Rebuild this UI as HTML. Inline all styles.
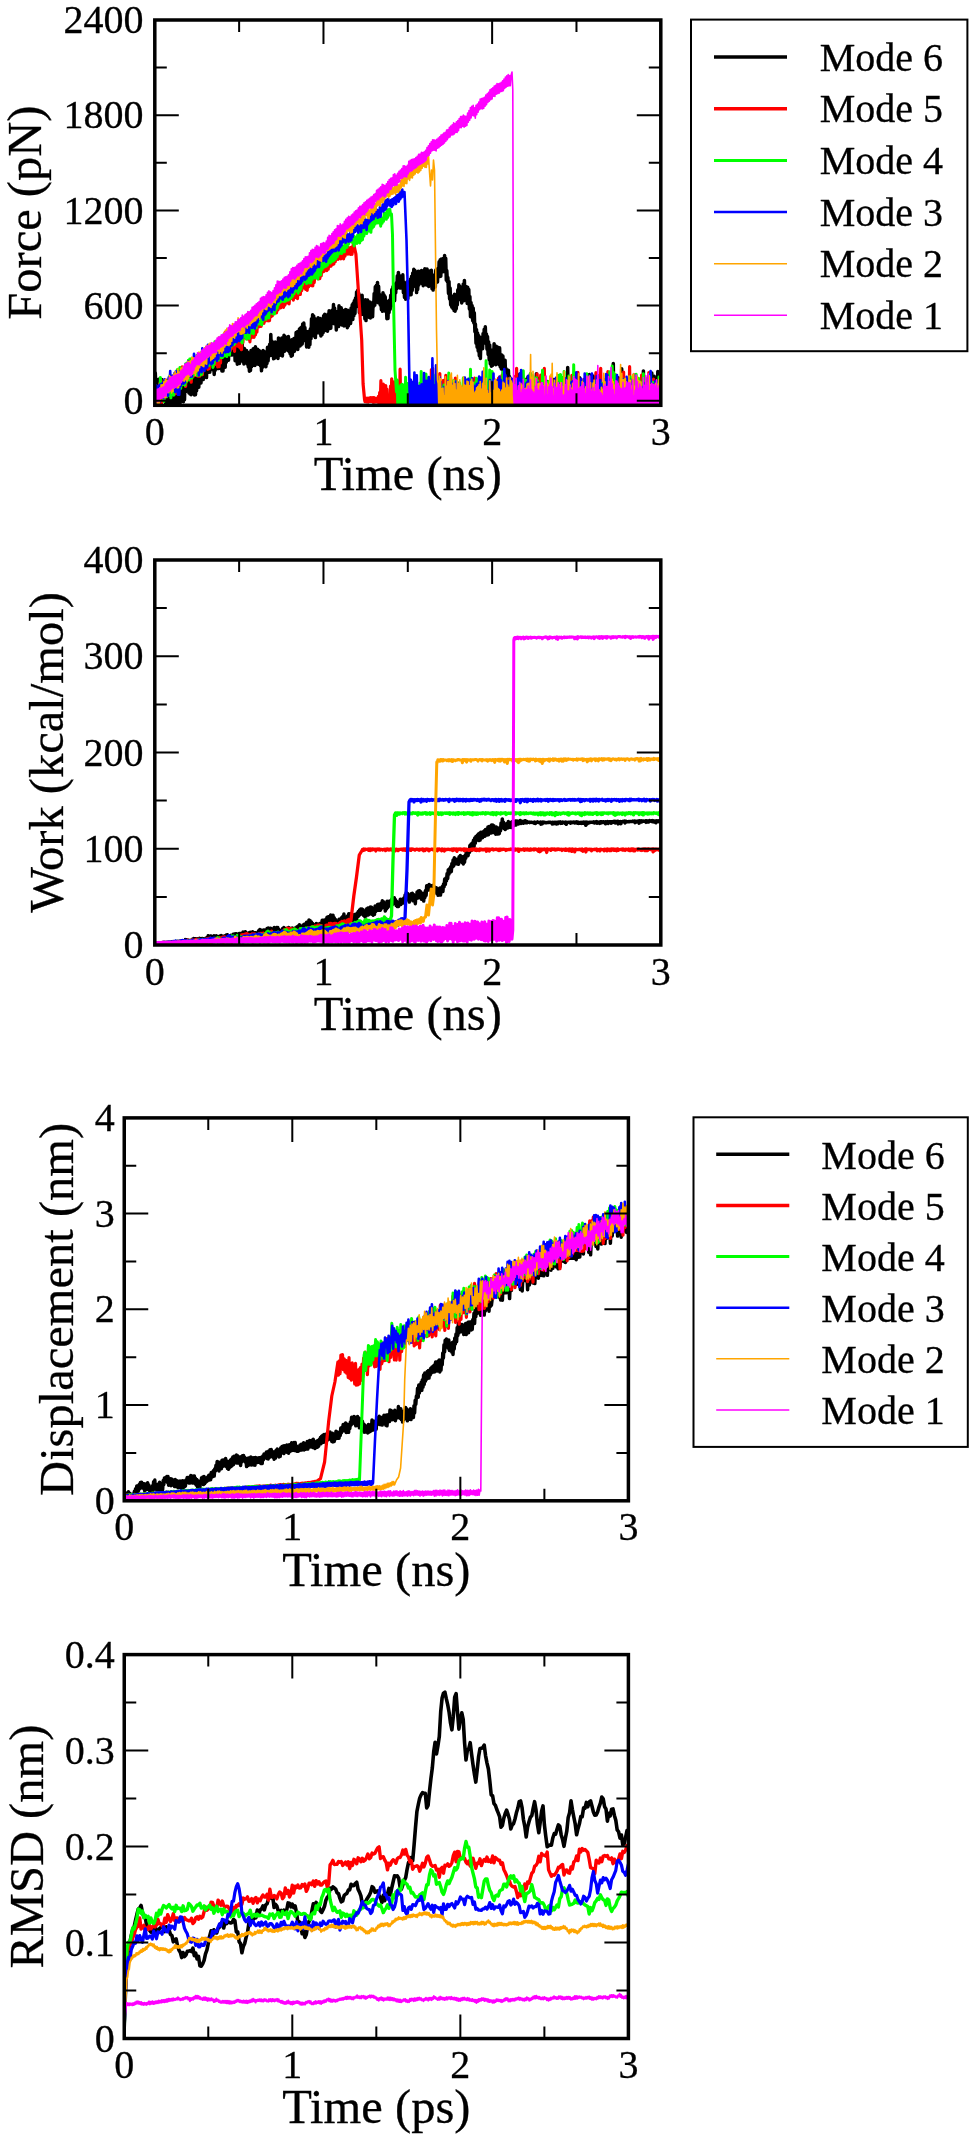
<!DOCTYPE html>
<html><head><meta charset="utf-8"><style>
html,body{margin:0;padding:0;background:#fff;width:974px;height:2141px;overflow:hidden}
svg{display:block}
text{font-family:"Liberation Serif", serif;fill:#000;stroke:#000;stroke-width:0.3px}
svg{will-change:transform}
</style></head><body>
<svg width="974" height="2141" viewBox="0 0 974 2141">
<clipPath id="c0"><rect x="154.8" y="20.0" width="506.00" height="385.30"/></clipPath><g clip-path="url(#c0)" fill="none" stroke-linejoin="round">
<path d="M154.8 386.4 155.3 373.0 155.9 388.7 156.4 381.0 157.0 391.6 157.5 380.0 158.1 395.4 158.6 379.3 159.2 395.9 159.7 383.6 160.3 395.3 160.8 380.2 161.4 397.4 161.9 379.6 162.5 395.9 163.0 383.0 163.6 398.0 164.1 382.2 164.7 397.1 165.2 388.1 165.8 405.4 166.3 393.5 166.9 407.5 167.4 393.5 168.0 410.3 168.5 398.6 169.1 408.4 169.6 399.6 170.2 411.1 170.7 397.8 171.3 411.1 171.8 392.5 172.4 406.4 172.9 392.1 173.5 404.1 174.0 393.4 174.6 404.5 175.1 390.2 175.7 406.2 176.2 386.7 176.8 400.6 177.3 389.7 177.9 404.0 178.4 383.9 179.0 400.0 179.5 387.2 180.1 403.1 180.6 387.0 181.2 396.8 181.7 382.4 182.3 401.0 182.8 383.6 183.4 401.7 183.9 381.4 184.5 399.8 185.0 379.6 185.6 391.6 186.1 380.0 186.7 389.8 187.2 371.3 187.8 384.1 188.3 375.4 188.9 393.0 189.4 377.6 190.0 394.0 190.5 383.7 191.1 394.7 191.6 380.1 192.2 390.4 192.7 375.6 193.3 392.7 193.8 382.3 194.4 394.9 194.9 376.3 195.5 394.7 196.0 382.1 196.6 390.7 197.1 376.4 197.7 387.5 198.2 373.8 198.8 387.2 199.3 367.7 199.9 380.0 200.4 368.4 201.0 382.9 201.5 368.9 202.1 378.4 202.6 368.0 203.2 379.6 203.7 366.7 204.3 376.0 204.8 359.8 205.4 375.8 205.9 359.1 206.5 377.6 207.0 358.8 207.6 372.6 208.1 364.6 208.7 371.0 209.2 356.3 209.8 372.2 210.3 356.1 210.9 365.7 211.4 352.4 212.0 367.0 212.5 354.1 213.1 370.0 213.6 357.6 214.2 374.4 214.7 360.7 215.3 370.3 215.8 356.6 216.4 368.7 216.9 351.2 217.5 367.5 218.0 353.2 218.6 368.6 219.1 349.9 219.7 366.3 220.2 351.1 220.8 368.1 221.3 352.8 221.9 370.9 222.4 357.7 223.0 370.9 223.5 355.5 224.1 366.2 224.6 349.0 225.2 367.2 225.7 350.5 226.3 362.3 226.8 345.3 227.4 357.5 227.9 344.2 228.5 360.3 229.0 341.2 229.6 354.9 230.1 339.8 230.7 353.7 231.2 343.0 231.8 355.1 232.3 341.9 232.9 353.4 233.4 343.8 234.0 353.6 234.5 342.3 235.1 360.8 235.6 347.8 236.2 361.0 236.7 344.1 237.3 364.3 237.8 345.2 238.4 360.9 238.9 343.5 239.5 363.4 240.0 345.4 240.6 360.2 241.1 340.9 241.7 358.1 242.2 342.8 242.8 361.5 243.3 348.9 243.9 363.9 244.4 348.4 245.0 359.9 245.5 350.4 246.1 360.5 246.6 350.6 247.2 364.0 247.7 352.3 248.3 366.9 248.8 356.2 249.4 371.2 249.9 353.8 250.5 370.5 251.0 350.4 251.6 366.6 252.1 354.6 252.7 365.4 253.2 348.7 253.8 364.5 254.3 348.5 254.9 365.5 255.4 346.7 256.0 363.7 256.5 353.6 257.1 364.0 257.6 349.2 258.2 364.2 258.7 350.3 259.3 362.5 259.8 351.0 260.4 365.8 260.9 357.1 261.5 370.8 262.0 353.5 262.6 367.2 263.1 350.5 263.7 363.8 264.2 351.5 264.8 365.0 265.3 354.6 265.9 366.8 266.4 352.4 267.0 363.4 267.5 347.3 268.1 360.9 268.6 346.8 269.2 354.4 269.7 344.2 270.3 355.6 270.8 334.4 271.4 351.6 271.9 341.1 272.5 354.6 273.0 345.6 273.6 358.8 274.1 342.4 274.7 358.1 275.2 341.9 275.8 352.5 276.3 343.6 276.9 356.0 277.4 342.3 278.0 358.5 278.5 337.9 279.1 351.8 279.6 339.8 280.2 355.3 280.7 342.7 281.3 352.1 281.8 338.0 282.4 355.9 282.9 340.3 283.5 350.2 284.0 335.3 284.6 351.2 285.1 336.4 285.7 347.3 286.2 339.3 286.8 347.2 287.3 337.5 287.9 350.5 288.4 336.6 289.0 351.5 289.5 341.1 290.1 353.7 290.6 342.8 291.2 356.2 291.7 339.7 292.3 355.5 292.8 342.7 293.4 351.7 293.9 338.5 294.5 351.2 295.0 340.8 295.6 348.0 296.1 332.6 296.7 346.3 297.2 331.7 297.8 349.5 298.3 333.5 298.9 345.5 299.4 329.1 300.0 345.9 300.5 327.9 301.1 345.0 301.6 327.0 302.2 344.0 302.7 323.9 303.3 336.6 303.8 323.1 304.4 336.6 304.9 327.5 305.5 340.9 306.0 331.2 306.6 346.9 307.1 333.4 307.7 340.3 308.2 331.4 308.8 347.2 309.3 331.4 309.9 344.6 310.4 328.8 311.0 338.6 311.5 318.8 312.1 335.4 312.6 314.7 313.2 333.0 313.7 315.9 314.3 336.1 314.8 318.5 315.4 337.6 315.9 319.9 316.5 333.2 317.0 320.1 317.6 331.7 318.1 317.8 318.7 330.8 319.2 319.0 319.8 333.4 320.3 318.5 320.9 335.9 321.4 323.8 322.0 334.7 322.5 319.8 323.1 332.6 323.6 315.7 324.2 330.4 324.7 314.2 325.3 330.5 325.8 317.5 326.4 328.9 326.9 318.5 327.5 331.2 328.0 314.1 328.6 326.3 329.1 310.8 329.7 328.6 330.2 312.9 330.8 328.3 331.3 310.9 331.9 323.0 332.4 310.0 333.0 318.0 333.5 304.6 334.1 323.7 334.6 308.0 335.2 324.1 335.7 313.1 336.3 330.0 336.8 311.8 337.4 326.3 337.9 314.3 338.5 326.6 339.0 305.7 339.6 318.2 340.1 310.7 340.7 323.8 341.2 307.7 341.8 324.9 342.3 313.4 342.9 321.6 343.4 310.4 344.0 326.0 344.5 311.7 345.1 319.8 345.6 309.5 346.2 322.3 346.7 314.7 347.3 327.7 347.8 310.3 348.4 325.9 348.9 313.6 349.5 323.1 350.0 311.2 350.6 323.4 351.1 308.1 351.7 319.7 352.2 304.8 352.8 319.5 353.3 303.0 353.9 315.6 354.4 300.6 355.0 313.5 355.5 298.1 356.1 306.8 356.6 291.9 357.2 304.4 357.7 290.2 358.3 305.2 358.8 293.4 359.4 312.6 359.9 297.3 360.5 313.8 361.0 301.0 361.6 314.6 362.1 295.2 362.7 310.5 363.2 302.7 363.8 313.5 364.3 303.2 364.9 318.9 365.4 299.8 366.0 320.6 366.5 302.8 367.1 316.8 367.6 300.0 368.2 316.7 368.7 303.2 369.3 317.4 369.8 301.9 370.4 318.0 370.9 303.3 371.5 315.5 372.0 306.6 372.6 316.7 373.1 302.0 373.7 306.2 374.2 293.4 374.8 305.3 375.3 286.8 375.9 299.6 376.4 285.2 377.0 300.0 377.5 282.4 378.1 302.7 378.6 286.3 379.2 302.2 379.7 294.6 380.3 305.1 380.8 295.8 381.4 309.7 381.9 298.0 382.5 311.3 383.0 292.7 383.6 307.4 384.1 295.0 384.7 311.0 385.2 296.7 385.8 311.1 386.3 303.3 386.9 318.7 387.4 302.4 388.0 318.4 388.5 301.1 389.1 312.5 389.6 299.9 390.2 309.3 390.7 295.2 391.3 306.1 391.8 289.5 392.4 302.1 392.9 286.8 393.5 300.9 394.0 284.5 394.6 300.8 395.1 285.4 395.7 292.8 396.2 282.8 396.8 288.6 397.3 275.8 397.9 286.1 398.4 272.4 399.0 284.6 399.5 275.5 400.1 288.1 400.6 276.9 401.2 287.5 401.7 277.1 402.3 288.3 402.8 274.8 403.4 292.6 403.9 282.1 404.5 297.4 405.0 282.9 405.6 299.2 406.1 287.6 406.7 298.3 407.2 281.7 407.8 298.6 408.3 282.0 408.9 293.5 409.4 285.5 410.0 294.7 410.5 279.1 411.1 294.7 411.6 276.2 412.2 290.4 412.7 273.0 413.3 286.3 413.8 269.3 414.4 284.5 414.9 270.6 415.5 286.7 416.0 279.7 416.6 292.6 417.1 275.3 417.7 289.4 418.2 271.3 418.8 285.0 419.3 271.6 419.9 282.3 420.4 271.9 421.0 280.4 421.5 270.6 422.1 283.6 422.6 275.7 423.2 285.7 423.7 270.9 424.3 283.8 424.8 268.7 425.4 281.1 425.9 271.8 426.5 285.1 427.0 268.9 427.6 283.7 428.1 273.8 428.7 286.4 429.2 271.1 429.8 284.2 430.3 271.7 430.9 285.8 431.4 270.3 432.0 288.8 432.5 274.9 433.1 290.1 433.6 276.7 434.2 284.4 434.7 274.8 435.3 286.9 435.8 270.1 436.4 282.4 436.9 269.8 437.5 282.0 438.0 268.2 438.6 276.5 439.1 261.7 439.7 276.6 440.2 259.8 440.8 276.3 441.3 259.0 441.9 271.8 442.4 261.1 443.0 271.8 443.5 258.3 444.1 271.5 444.6 255.5 445.2 269.2 445.7 258.3 446.3 280.3 446.8 270.5 447.4 281.8 447.9 277.6 448.5 293.4 449.0 281.4 449.6 299.0 450.1 288.0 450.7 305.0 451.2 295.8 451.8 307.2 452.3 297.0 452.9 308.5 453.4 298.6 454.0 310.4 454.5 294.2 455.1 311.3 455.6 295.0 456.2 308.9 456.7 301.6 457.3 304.9 457.8 289.8 458.4 298.9 458.9 284.8 459.5 299.6 460.0 286.5 460.6 298.9 461.1 287.3 461.7 302.9 462.2 290.7 462.8 297.5 463.3 283.9 463.9 300.7 464.4 280.4 465.0 297.8 465.5 287.4 466.1 297.2 466.6 286.7 467.2 303.4 467.7 287.2 468.3 301.6 468.8 289.6 469.4 309.0 469.9 296.5 470.5 316.8 471.0 302.4 471.6 316.1 472.1 305.5 472.7 320.8 473.2 308.1 473.8 323.0 474.3 312.7 474.9 331.7 475.4 324.1 476.0 343.2 476.5 329.6 477.1 347.3 477.6 333.1 478.2 351.0 478.7 335.5 479.3 355.8 479.8 340.3 480.4 358.5 480.9 337.6 481.5 348.9 482.0 339.0 482.6 348.7 483.1 333.4 483.7 342.1 484.2 329.3 484.8 342.9 485.3 326.8 485.9 342.6 486.4 333.9 487.0 349.2 487.5 336.5 488.1 354.4 488.6 341.7 489.2 360.0 489.7 344.9 490.3 363.9 490.8 349.7 491.4 366.2 491.9 353.8 492.5 365.5 493.0 349.8 493.6 360.6 494.1 343.7 494.7 357.0 495.2 350.0 495.8 364.8 496.3 346.2 496.9 360.5 497.4 347.0 498.0 360.3 498.5 349.9 499.1 364.6 499.6 347.8 500.2 366.8 500.7 354.7 501.3 368.9 501.8 355.1 502.4 368.7 502.9 356.0 503.5 375.4 504.0 362.1 504.6 373.5 505.1 360.3 505.7 382.3 506.2 368.7 506.8 384.4 507.3 372.7 507.9 387.6 508.4 370.2 509.0 384.9 509.5 376.5 510.1 390.9 510.6 378.7 511.2 394.2 511.7 379.2 512.3 392.3 512.8 380.5 513.4 392.0 513.9 385.3 514.5 394.1 515.0 384.6 516.0 389.2 516.6 405.3 517.2 394.5 517.8 404.0 518.4 395.1 519.0 405.2 519.6 374.2 520.2 405.0 520.8 379.0 521.4 406.5 522.0 384.3 522.6 404.7 523.2 386.9 523.8 407.5 524.4 387.5 525.0 406.8 525.6 379.4 526.2 407.2 526.8 379.2 527.4 407.1 528.0 376.7 528.6 404.1 529.2 389.6 529.8 405.6 530.4 374.0 531.0 407.4 531.6 386.0 532.2 405.5 532.8 392.8 533.4 406.8 534.0 386.2 534.6 407.4 535.2 382.7 535.8 406.1 536.4 373.7 537.0 407.6 537.6 388.7 538.2 407.4 538.8 378.6 539.4 404.3 540.0 387.0 540.6 405.2 541.2 377.3 541.8 407.4 542.4 377.7 543.0 405.9 543.6 385.1 544.2 407.1 544.8 389.6 545.4 406.2 546.0 383.0 546.6 405.3 547.2 381.5 547.8 407.1 548.4 387.2 549.0 404.7 549.6 391.8 550.2 405.2 550.8 393.5 551.4 406.6 552.0 385.8 552.7 405.2 553.3 379.6 553.9 406.3 554.5 379.8 555.1 405.8 555.7 383.6 556.3 404.1 556.9 383.4 557.5 404.0 558.1 387.3 558.7 406.4 559.3 386.4 559.9 405.0 560.5 391.5 561.1 407.4 561.7 386.2 562.3 407.3 562.9 384.9 563.5 406.8 564.1 382.0 564.7 405.8 565.3 385.1 565.9 404.1 566.5 390.4 567.1 405.2 567.7 367.5 568.3 406.8 568.9 386.2 569.5 407.1 570.1 383.5 570.7 404.4 571.3 386.3 571.9 405.4 572.5 382.2 573.1 406.0 573.7 384.3 574.3 404.3 574.9 378.7 575.5 404.5 576.1 389.8 576.7 405.6 577.3 385.5 577.9 406.7 578.5 382.9 579.1 404.2 579.7 377.7 580.3 406.1 580.9 386.1 581.5 406.1 582.1 387.7 582.7 406.3 583.3 385.4 583.9 406.6 584.5 385.2 585.1 407.3 585.7 387.4 586.3 407.8 586.9 383.6 587.5 404.9 588.1 376.5 588.7 407.1 589.3 374.4 589.9 405.4 590.5 382.2 591.1 407.7 591.7 384.1 592.3 405.5 592.9 376.1 593.5 407.3 594.1 387.0 594.7 404.4 595.3 388.1 595.9 407.2 596.5 375.8 597.1 404.3 597.7 375.7 598.3 407.2 598.9 383.5 599.5 405.4 600.1 388.8 600.7 404.1 601.3 385.7 601.9 407.4 602.5 390.5 603.1 405.5 603.7 386.7 604.3 405.5 604.9 387.5 605.5 407.3 606.1 383.0 606.7 405.7 607.3 377.5 607.9 407.4 608.5 384.0 609.1 405.1 609.7 380.5 610.3 405.1 610.9 378.9 611.5 404.2 612.1 381.2 612.7 404.7 613.3 363.5 613.9 407.7 614.5 375.0 615.1 404.4 615.7 386.8 616.3 406.7 616.9 381.5 617.5 406.3 618.1 377.8 618.7 407.4 619.3 384.2 619.9 405.6 620.5 389.7 621.1 404.5 621.7 368.7 622.3 406.3 622.9 389.8 623.5 406.5 624.1 394.8 624.8 406.0 625.4 385.2 626.0 405.0 626.6 383.6 627.2 406.2 627.8 386.3 628.4 405.8 629.0 381.3 629.6 404.8 630.2 385.0 630.8 405.3 631.4 384.6 632.0 406.4 632.6 379.8 633.2 405.8 633.8 383.6 634.4 405.2 635.0 381.4 635.6 406.0 636.2 380.5 636.8 407.3 637.4 394.2 638.0 407.4 638.6 387.2 639.2 407.8 639.8 392.1 640.4 407.1 641.0 385.8 641.6 404.9 642.2 390.8 642.8 405.4 643.4 370.9 644.0 407.7 644.6 382.1 645.2 405.6 645.8 383.2 646.4 405.8 647.0 381.9 647.6 407.4 648.2 377.8 648.8 404.5 649.4 381.7 650.0 406.1 650.6 383.2 651.2 405.1 651.8 373.1 652.4 407.4 653.0 389.2 653.6 404.6 654.2 376.3 654.8 407.4 655.4 388.0 656.0 405.3 656.6 388.5 657.2 407.3 657.8 371.6 658.4 407.8 659.0 388.2 659.6 407.0 660.2 388.3 660.8 407.1" stroke="#000000" stroke-width="3.5"/>
<path d="M154.8 411.7 155.5 394.4 156.2 406.1 156.9 386.6 157.6 404.1 158.3 387.1 159.0 398.0 159.7 383.5 160.4 402.6 161.1 380.3 161.8 402.7 162.5 383.3 163.2 398.9 163.9 383.7 164.6 398.3 165.3 381.6 166.0 395.5 166.7 380.1 167.4 394.6 168.1 381.8 168.8 393.7 169.5 377.0 170.2 391.2 170.9 379.3 171.6 390.0 172.3 380.7 173.0 393.5 173.7 381.3 174.4 394.1 175.1 377.7 175.8 393.6 176.5 374.3 177.2 390.0 177.9 371.4 178.6 390.7 179.3 370.7 180.0 386.9 180.7 371.6 181.4 384.4 182.1 366.8 182.8 384.2 183.5 372.6 184.2 382.4 184.9 371.9 185.6 386.4 186.3 365.7 187.0 378.6 187.7 365.9 188.4 379.6 189.1 363.1 189.8 379.6 190.5 363.5 191.2 382.1 191.9 361.1 192.6 376.7 193.3 362.0 194.0 375.8 194.7 364.7 195.4 374.7 196.1 363.5 196.8 375.7 197.5 362.4 198.2 376.2 198.9 355.2 199.6 376.2 200.3 355.2 201.0 374.7 201.7 355.4 202.4 374.6 203.1 353.2 203.8 369.6 204.4 356.8 205.1 367.9 205.8 354.3 206.5 364.2 207.2 351.4 207.9 369.3 208.6 352.8 209.3 368.6 210.0 350.2 210.7 362.7 211.4 345.8 212.1 363.9 212.8 350.1 213.5 366.3 214.2 350.2 214.9 364.6 215.6 350.1 216.3 362.5 217.0 350.5 217.7 366.9 218.4 348.6 219.1 366.6 219.8 345.3 220.5 362.9 221.2 342.9 221.9 354.4 222.6 338.6 223.3 354.3 224.0 336.8 224.7 354.0 225.4 332.1 226.1 348.6 226.8 333.4 227.5 349.4 228.2 336.6 228.9 351.3 229.6 340.4 230.3 350.8 231.0 331.6 231.7 347.8 232.4 332.2 233.1 348.1 233.8 336.2 234.5 351.3 235.2 337.5 235.9 346.1 236.6 329.2 237.3 344.7 238.0 329.5 238.7 346.6 239.4 330.4 240.1 347.9 240.8 335.0 241.5 349.7 242.2 335.5 242.9 342.6 243.6 328.3 244.3 337.9 245.0 327.2 245.7 335.5 246.4 324.1 247.1 336.5 247.8 323.0 248.5 339.2 249.2 324.5 249.9 341.8 250.6 327.6 251.3 337.8 252.0 323.9 252.7 334.8 253.4 325.8 254.1 337.3 254.8 321.8 255.5 334.9 256.2 320.8 256.9 332.1 257.6 321.6 258.3 326.9 259.0 315.3 259.7 326.6 260.4 316.0 261.1 326.3 261.8 313.6 262.5 321.5 263.2 313.3 263.9 323.5 264.6 313.6 265.3 321.1 266.0 314.9 266.7 320.2 267.4 312.9 268.1 320.9 268.8 309.9 269.5 320.6 270.2 304.6 270.9 316.9 271.6 303.9 272.3 315.8 273.0 302.2 273.7 311.1 274.4 305.9 275.1 312.2 275.8 305.6 276.5 312.8 277.2 304.4 277.9 310.0 278.6 302.4 279.3 307.0 280.0 298.2 280.7 307.9 281.4 298.3 282.1 304.9 282.8 299.0 283.5 307.4 284.2 299.6 284.9 305.1 285.6 299.3 286.3 302.9 287.0 297.4 287.7 303.0 288.4 295.2 289.1 303.8 289.8 294.4 290.5 298.5 291.2 290.5 291.9 296.8 292.6 292.2 293.3 300.2 294.0 289.7 294.7 297.7 295.4 292.3 296.1 297.5 296.8 290.6 297.5 298.7 298.2 289.5 298.9 294.2 299.6 285.7 300.3 294.5 301.0 287.2 301.7 290.5 302.4 283.4 303.0 287.9 303.7 280.3 304.4 288.1 305.1 282.4 305.8 289.5 306.5 280.1 307.2 290.4 307.9 279.4 308.6 286.9 309.3 278.9 310.0 281.7 310.7 277.9 311.4 285.6 312.1 276.1 312.8 285.9 313.5 276.7 314.2 282.6 314.9 274.4 315.6 276.9 316.3 270.8 317.0 277.9 317.7 270.9 318.4 278.8 319.1 272.6 319.8 278.6 320.5 268.3 321.2 275.9 321.9 266.6 322.6 272.0 323.3 265.8 324.0 271.3 324.7 262.3 325.4 268.1 326.1 262.4 326.8 270.7 327.5 261.4 328.2 269.2 328.9 263.2 329.6 266.5 330.3 261.9 331.0 266.1 331.7 258.3 332.4 264.7 333.1 259.7 333.8 264.0 334.5 257.3 335.2 261.7 335.9 256.8 336.6 259.2 337.3 253.8 338.0 259.4 338.7 250.7 339.4 257.1 340.1 251.5 340.8 258.8 341.5 250.3 342.2 256.7 342.9 250.5 343.6 258.8 344.3 251.2 345.0 256.2 345.7 249.3 346.4 253.4 347.1 247.7 347.8 254.2 348.5 247.5 349.2 254.0 349.9 248.1 350.6 254.4 351.3 247.4 352.0 254.4 353.5 243.0 355.9 254.0 358.8 297.0 361.7 340.0 363.1 384.0 364.6 400.0 365.0 401.7 365.8 398.4 366.6 401.9 367.4 398.2 368.2 402.1 369.1 398.1 369.9 401.4 370.7 397.7 371.5 401.4 372.3 397.7 373.1 402.3 373.9 397.6 374.8 402.1 375.6 398.4 376.4 401.9 377.2 398.1 378.0 402.1 378.5 396.3 379.1 404.7 379.7 392.4 380.3 404.3 380.9 380.7 381.5 405.0 382.1 384.7 382.7 405.4 383.3 384.0 383.9 405.5 384.5 388.8 385.1 406.9 385.7 385.6 386.3 406.8 386.9 389.0 387.5 407.6 388.1 395.6 388.7 405.6 389.3 396.4 389.9 405.9 390.5 386.0 391.1 404.6 391.7 378.8 392.3 406.1 392.9 387.0 393.5 406.4 394.1 381.8 394.7 405.7 395.3 387.8 395.9 405.3 396.5 394.3 397.1 406.9 397.7 382.2 398.3 405.3 398.9 381.2 399.5 407.9 400.1 369.2 400.7 404.2 401.3 386.8 401.9 407.7 402.5 393.9 403.1 406.9 403.7 393.9 404.3 406.9 404.9 396.7 405.5 407.2 406.1 391.2 406.7 404.9 407.3 384.4 407.9 407.6 408.5 387.6 409.1 404.7 409.7 385.4 410.3 405.2 410.9 383.4 411.5 405.4 412.1 390.1 412.7 404.7 413.3 393.0 413.9 404.3 414.5 379.6 415.1 404.4 415.7 378.8 416.3 406.1 416.9 393.0 417.5 406.1 418.1 387.3 418.7 406.0 419.3 391.6 419.9 405.7 420.5 386.7 421.1 405.5 421.7 386.4 422.3 407.7 422.9 384.9 423.5 406.9 424.1 384.9 424.7 407.1 425.3 388.2 426.0 406.2 426.6 395.7 427.2 407.5 427.8 390.5 428.4 406.5 429.0 383.4 429.6 406.9 430.2 388.7 430.8 407.6 431.4 369.6 432.0 407.9 432.6 368.4 433.2 406.0 433.8 391.6 434.4 407.3 435.0 385.6 435.6 406.8 436.2 387.5 436.8 405.4 437.4 384.5 438.0 404.9 438.6 391.3 439.2 407.1 439.8 373.5 440.4 404.9 441.0 384.6 441.6 405.4 442.2 387.6 442.8 406.6 443.4 380.3 444.0 406.2 444.6 386.4 445.2 407.4 445.8 375.3 446.4 407.7 447.0 386.3 447.6 406.0 448.2 390.0 448.8 404.4 449.4 392.6 450.0 407.4 450.6 377.5 451.2 404.0 451.8 387.2 452.4 407.0 453.0 391.5 453.6 404.8 454.2 389.8 454.8 406.4 455.4 378.1 456.0 404.9 456.6 387.9 457.2 406.1 457.8 385.7 458.4 406.3 459.0 383.0 459.6 404.9 460.2 387.1 460.8 404.4 461.4 392.6 462.0 407.2 462.6 391.1 463.2 405.9 463.8 385.0 464.4 406.3 465.0 387.8 465.6 404.5 466.2 390.5 466.8 407.2 467.4 396.1 468.0 407.9 468.6 394.6 469.2 405.0 469.8 387.2 470.4 405.7 471.0 387.9 471.6 404.9 472.2 394.1 472.8 406.8 473.4 386.7 474.0 406.5 474.6 378.2 475.2 407.7 475.8 379.7 476.4 407.3 477.0 383.4 477.6 405.0 478.2 385.9 478.8 407.8 479.4 389.6 480.0 405.2 480.6 390.8 481.2 404.5 481.8 380.9 482.4 405.4 483.0 386.5 483.6 406.4 484.2 390.6 484.8 405.7 485.4 388.1 486.0 407.3 486.6 391.1 487.2 405.8 487.8 394.0 488.4 405.7 489.0 395.2 489.6 406.6 490.2 392.3 490.8 407.2 491.4 383.9 492.0 404.9 492.6 388.7 493.2 406.8 493.8 391.7 494.4 404.6 495.0 393.6 495.6 405.7 496.2 388.0 496.8 405.4 497.4 389.8 498.0 407.8 498.6 378.1 499.2 405.3 499.8 376.9 500.4 404.1 501.0 385.5 501.6 404.2 502.2 374.8 502.8 405.3 503.4 385.4 504.0 407.2 504.6 388.8 505.2 407.0 505.8 377.0 506.4 405.2 507.0 383.1 507.6 404.7 508.2 390.8 508.8 407.5 509.4 378.3 510.0 405.8 510.6 389.3 511.2 407.5 511.8 386.5 512.4 406.8 513.0 393.5 513.6 404.3 514.2 379.9 514.8 407.0 515.4 376.0 516.0 404.7 516.6 368.3 517.2 407.2 517.8 384.3 518.4 405.4 519.0 393.9 519.6 405.8 520.3 393.2 520.9 406.2 521.5 394.4 522.1 406.3 522.7 385.8 523.3 406.5 523.9 388.2 524.5 404.6 525.1 384.8 525.7 407.3 526.3 387.0 526.9 407.7 527.5 387.3 528.1 406.8 528.7 379.8 529.3 405.1 529.9 387.0 530.5 407.7 531.1 386.5 531.7 407.3 532.3 386.0 532.9 407.2 533.5 389.9 534.1 407.2 534.7 393.7 535.3 405.8 535.9 390.3 536.5 404.3 537.1 373.9 537.7 407.9 538.3 385.2 538.9 404.6 539.5 380.7 540.1 405.1 540.7 375.1 541.3 407.6 541.9 384.7 542.5 404.0 543.1 386.6 543.7 407.7 544.3 368.4 544.9 405.5 545.5 381.4 546.1 405.2 546.7 383.9 547.3 404.8 547.9 390.7 548.5 407.2 549.1 388.6 549.7 405.1 550.3 388.2 550.9 405.6 551.5 390.0 552.1 405.7 552.7 393.3 553.3 407.1 553.9 391.4 554.5 407.8 555.1 390.2 555.7 404.2 556.3 379.1 556.9 407.9 557.5 385.9 558.1 404.0 558.7 382.7 559.3 406.4 559.9 393.0 560.5 406.0 561.1 391.9 561.7 407.7 562.3 387.1 562.9 405.9 563.5 397.3 564.1 407.4 564.7 385.6 565.3 407.9 565.9 388.8 566.5 405.7 567.1 383.8 567.7 404.4 568.3 382.2 568.9 405.4 569.5 391.6 570.1 404.5 570.7 389.9 571.3 406.4 571.9 375.4 572.5 406.8 573.1 378.1 573.7 406.7 574.3 387.6 574.9 404.0 575.5 382.0 576.1 406.9 576.7 387.3 577.3 406.8 577.9 372.4 578.5 407.0 579.1 390.6 579.7 405.7 580.3 393.6 580.9 404.7 581.5 385.4 582.1 404.2 582.7 387.0 583.3 406.1 583.9 379.4 584.5 405.1 585.1 384.9 585.7 407.4 586.3 392.1 586.9 405.5 587.5 392.7 588.1 407.4 588.7 389.4 589.3 404.8 589.9 393.4 590.5 405.1 591.1 387.5 591.7 405.5 592.3 390.8 592.9 405.8 593.5 380.9 594.1 405.0 594.7 384.5 595.3 405.3 595.9 372.7 596.5 405.9 597.1 391.9 597.7 405.4 598.3 389.6 598.9 407.4 599.5 389.4 600.1 404.2 600.7 368.4 601.3 405.0 601.9 386.8 602.5 406.3 603.1 389.8 603.7 405.2 604.3 382.2 604.9 406.5 605.5 379.0 606.1 404.8 606.7 381.6 607.3 406.2 607.9 371.5 608.5 404.5 609.1 380.4 609.7 407.9 610.3 387.8 610.9 407.3 611.5 388.0 612.1 407.8 612.7 389.5 613.3 407.0 614.0 381.7 614.6 406.2 615.2 377.8 615.8 405.3 616.4 383.0 617.0 405.6 617.6 389.5 618.2 404.0 618.8 386.0 619.4 404.9 620.0 378.7 620.6 404.8 621.2 388.0 621.8 407.9 622.4 391.8 623.0 407.7 623.6 372.1 624.2 404.5 624.8 388.9 625.4 405.5 626.0 388.5 626.6 405.3 627.2 383.5 627.8 405.9 628.4 383.4 629.0 407.1 629.6 366.7 630.2 404.9 630.8 389.7 631.4 406.5 632.0 385.5 632.6 405.5 633.2 385.4 633.8 405.8 634.4 378.7 635.0 406.4 635.6 392.7 636.2 408.0 636.8 391.0 637.4 408.0 638.0 395.5 638.6 406.7 639.2 390.4 639.8 406.5 640.4 382.6 641.0 407.2 641.6 375.0 642.2 405.9 642.8 385.9 643.4 405.8 644.0 386.7 644.6 404.4 645.2 394.2 645.8 407.8 646.4 388.1 647.0 405.5 647.6 390.6 648.2 407.1 648.8 372.6 649.4 407.3 650.0 376.7 650.6 405.0 651.2 386.6 651.8 406.1 652.4 380.8 653.0 404.9 653.6 379.0 654.2 407.0 654.8 391.0 655.4 407.0 656.0 394.4 656.6 407.8 657.2 392.4 657.8 405.9 658.4 385.3 659.0 405.0 659.6 385.7 660.2 407.9 660.8 386.9" stroke="#ff0000" stroke-width="3.2"/>
<path d="M154.8 385.6 155.5 406.7 156.2 392.3 156.9 401.6 157.6 391.4 158.3 404.4 159.0 387.9 159.7 395.0 160.4 377.6 161.1 396.7 161.8 384.5 162.5 396.3 163.2 386.9 163.9 401.4 164.6 385.9 165.3 396.8 166.0 387.4 166.7 396.8 167.4 383.0 168.1 395.2 168.8 379.1 169.5 392.6 170.2 375.0 170.9 397.9 171.6 382.1 172.3 391.6 173.0 377.6 173.7 395.2 174.4 380.2 175.1 388.8 175.8 375.4 176.5 391.2 177.2 369.8 177.9 391.0 178.6 368.9 179.3 383.3 180.0 367.6 180.7 388.4 181.4 375.5 182.1 385.0 182.8 369.3 183.5 383.8 184.2 368.5 184.9 385.3 185.6 363.9 186.3 382.1 187.0 363.1 187.7 379.8 188.4 360.3 189.1 380.0 189.8 358.9 190.5 373.8 191.2 358.7 191.9 378.1 192.6 360.3 193.3 375.2 194.0 361.3 194.7 374.8 195.4 363.5 196.1 370.8 196.8 355.4 197.5 375.6 198.2 360.8 198.9 371.7 199.6 358.2 200.3 375.1 201.0 359.0 201.7 374.2 202.4 349.9 203.1 366.7 203.8 351.9 204.5 367.3 205.2 351.1 205.9 364.3 206.6 351.4 207.3 366.5 208.0 348.1 208.7 365.6 209.4 345.4 210.1 362.4 210.8 352.2 211.5 364.3 212.2 348.2 212.9 367.4 213.6 345.4 214.2 363.9 214.9 341.8 215.6 358.9 216.3 346.9 217.0 359.3 217.7 345.6 218.4 360.3 219.1 339.2 219.8 355.2 220.5 341.7 221.2 357.8 221.9 339.6 222.6 357.4 223.3 335.1 224.0 356.1 224.7 340.8 225.4 350.9 226.1 341.9 226.8 356.6 227.5 334.8 228.2 350.0 228.9 336.5 229.6 355.0 230.3 332.7 231.0 346.7 231.7 329.8 232.4 342.1 233.1 332.3 233.8 344.8 234.5 331.5 235.2 343.2 235.9 328.7 236.6 340.6 237.3 323.3 238.0 337.9 238.7 326.3 239.4 339.4 240.1 329.6 240.8 341.3 241.5 330.5 242.2 342.9 242.9 325.7 243.6 337.4 244.3 321.6 245.0 336.8 245.7 323.7 246.4 339.3 247.1 326.4 247.8 333.6 248.5 321.0 249.2 338.5 249.9 324.6 250.6 331.7 251.3 321.4 252.0 333.0 252.7 316.4 253.4 333.7 254.1 315.2 254.8 327.9 255.5 316.7 256.2 327.9 256.9 317.7 257.6 324.0 258.3 316.5 259.0 324.1 259.7 315.9 260.4 322.3 261.1 316.0 261.8 324.8 262.5 312.6 263.2 320.3 263.9 309.5 264.6 318.2 265.3 306.0 266.0 319.3 266.7 307.2 267.4 317.1 268.1 307.5 268.8 318.0 269.5 304.9 270.2 313.2 270.9 306.3 271.6 312.9 272.3 306.9 273.0 313.8 273.7 304.0 274.4 314.1 275.1 304.4 275.8 310.2 276.5 300.9 277.2 308.1 277.9 299.6 278.6 304.4 279.3 296.9 280.0 302.4 280.7 294.0 281.4 301.6 282.1 295.3 282.8 300.3 283.5 293.0 284.2 301.6 284.9 293.8 285.6 301.1 286.3 296.3 287.0 300.2 287.7 290.8 288.4 300.0 289.1 290.3 289.8 299.0 290.5 291.9 291.2 297.9 291.9 291.3 292.6 296.1 293.3 287.8 294.0 293.8 294.7 283.2 295.4 291.3 296.1 284.2 296.8 290.8 297.5 284.5 298.2 293.2 298.9 284.7 299.6 291.0 300.3 284.6 301.0 289.0 301.7 279.6 302.4 284.7 303.1 277.1 303.8 281.7 304.5 276.2 305.2 281.0 305.9 273.9 306.6 283.6 307.3 275.8 308.0 282.3 308.7 274.2 309.4 283.0 310.1 273.1 310.8 282.8 311.5 272.6 312.2 279.5 312.9 270.1 313.6 276.7 314.3 270.1 315.0 278.0 315.7 269.4 316.4 277.5 317.1 269.7 317.8 278.9 318.5 268.6 319.2 275.1 319.9 266.3 320.6 275.0 321.3 263.2 322.0 269.6 322.7 262.6 323.4 267.5 324.1 262.1 324.8 266.7 325.5 257.3 326.2 266.2 326.9 256.4 327.6 264.9 328.3 255.3 329.0 262.2 329.7 254.9 330.4 262.9 331.1 254.4 331.7 261.5 332.4 255.5 333.1 261.0 333.8 253.5 334.5 260.0 335.2 251.2 335.9 258.6 336.6 251.5 337.3 256.6 338.0 248.1 338.7 253.9 339.4 247.3 340.1 253.1 340.8 247.9 341.5 253.6 342.2 246.4 342.9 252.0 343.6 246.2 344.3 251.8 345.0 241.5 345.7 247.8 346.4 241.0 347.1 247.2 347.8 238.8 348.5 244.2 349.2 235.5 349.9 241.9 350.6 233.9 351.3 241.5 352.0 233.5 352.7 242.9 353.4 235.4 354.1 245.9 354.8 236.7 355.5 243.2 356.2 237.4 356.9 243.4 357.6 235.1 358.3 239.9 359.0 233.0 359.7 242.9 360.4 233.1 361.1 240.5 361.8 232.8 362.5 239.7 363.2 229.0 363.9 236.0 364.6 229.6 365.3 232.6 366.0 227.8 366.7 233.6 367.4 226.3 368.1 230.9 368.8 225.1 369.5 231.1 370.2 224.5 370.9 232.3 371.6 221.8 372.3 228.1 373.0 219.8 373.7 226.6 374.4 219.0 375.1 224.1 375.8 215.4 376.5 222.8 377.2 215.6 377.9 223.1 378.6 215.1 379.3 221.7 380.0 217.0 380.7 226.2 381.4 218.3 382.1 223.2 382.8 218.1 383.5 221.3 384.2 213.2 384.9 218.1 385.6 214.3 386.3 219.3 387.0 210.4 387.7 217.4 388.4 209.8 389.1 215.0 389.8 209.3 390.5 214.0 391.5 214.0 392.5 235.0 393.5 300.0 395.0 370.0 396.5 392.0 397.2 380.0 397.8 406.8 398.4 390.0 399.0 406.4 399.6 386.7 400.2 404.8 400.8 385.2 401.4 407.2 402.0 384.3 402.6 404.9 403.2 389.5 403.8 407.8 404.4 384.8 405.0 407.3 405.6 377.2 406.2 404.2 406.8 387.0 407.4 405.0 408.0 383.6 408.6 405.5 409.2 386.5 409.8 407.8 410.4 390.8 411.0 404.3 411.6 390.6 412.2 406.7 412.8 386.4 413.4 404.6 414.0 381.9 414.6 404.4 415.2 377.4 415.8 407.0 416.4 388.9 417.0 407.1 417.6 387.0 418.2 405.9 418.8 387.2 419.4 404.4 420.0 382.9 420.6 407.0 421.2 371.4 421.8 404.4 422.4 384.4 423.0 407.6 423.6 384.7 424.2 406.4 424.8 386.2 425.4 404.8 426.0 374.1 426.6 406.7 427.2 377.9 427.8 405.1 428.4 386.9 429.0 406.7 429.6 384.9 430.2 406.0 430.8 388.6 431.4 406.4 432.0 388.1 432.6 405.8 433.2 374.7 433.8 406.6 434.4 394.8 435.0 404.4 435.6 386.9 436.2 406.5 436.8 378.6 437.4 407.7 438.0 388.6 438.6 406.1 439.2 385.3 439.8 404.4 440.4 385.1 441.0 407.1 441.6 389.8 442.2 407.8 442.8 386.9 443.4 406.0 444.0 385.1 444.6 406.4 445.2 391.8 445.8 405.6 446.4 390.2 447.0 407.4 447.6 388.1 448.2 405.6 448.8 373.0 449.4 405.2 450.0 394.4 450.6 407.9 451.2 385.2 451.8 406.4 452.4 392.9 453.0 406.1 453.6 380.5 454.2 406.7 454.8 386.2 455.4 405.3 456.0 381.6 456.6 407.9 457.2 392.4 457.8 404.7 458.4 383.0 459.0 406.6 459.6 382.7 460.2 407.6 460.8 397.7 461.4 406.7 462.0 393.3 462.6 404.6 463.3 378.0 463.9 407.4 464.5 386.5 465.1 406.3 465.7 382.1 466.3 405.2 466.9 379.7 467.5 405.0 468.1 382.9 468.7 405.7 469.3 382.2 469.9 404.9 470.5 369.3 471.1 406.5 471.7 386.9 472.3 405.6 472.9 385.0 473.5 406.5 474.1 382.9 474.7 404.2 475.3 383.7 475.9 404.7 476.5 378.2 477.1 406.8 477.7 383.6 478.3 404.5 478.9 385.0 479.5 407.4 480.1 385.8 480.7 405.0 481.3 387.0 481.9 407.3 482.5 389.9 483.1 405.7 483.7 389.3 484.3 406.2 484.9 382.4 485.5 408.0 486.1 360.7 486.7 404.8 487.3 382.5 487.9 405.6 488.5 386.6 489.1 404.6 489.7 370.0 490.3 407.9 490.9 384.6 491.5 404.8 492.1 371.4 492.7 405.2 493.3 380.6 493.9 404.4 494.5 383.5 495.1 404.4 495.7 386.6 496.3 405.7 496.9 383.5 497.5 406.0 498.1 391.1 498.7 404.8 499.3 392.3 499.9 404.9 500.5 384.4 501.1 405.2 501.7 384.0 502.3 406.1 502.9 372.0 503.5 405.7 504.1 373.6 504.7 407.8 505.3 389.1 505.9 404.6 506.5 391.5 507.1 404.5 507.7 385.8 508.3 407.7 508.9 384.4 509.5 405.8 510.1 378.3 510.7 406.8 511.3 391.8 511.9 406.8 512.5 390.0 513.1 406.4 513.7 382.3 514.3 406.7 514.9 386.9 515.5 404.6 516.1 387.0 516.7 406.5 517.3 387.5 517.9 407.2 518.5 385.3 519.1 406.7 519.7 390.1 520.3 404.4 520.9 374.7 521.5 405.4 522.1 380.4 522.7 404.4 523.3 370.8 523.9 406.1 524.5 396.8 525.1 406.5 525.7 380.1 526.3 405.8 526.9 385.0 527.5 407.1 528.1 393.8 528.7 407.8 529.3 401.4 529.9 407.8 530.5 373.4 531.1 405.4 531.7 388.4 532.3 407.7 532.9 375.7 533.5 405.6 534.1 386.2 534.7 404.6 535.3 380.8 535.9 405.8 536.5 377.8 537.1 404.5 537.7 380.9 538.3 404.5 538.9 389.6 539.5 406.0 540.1 388.7 540.7 404.5 541.3 389.4 541.9 406.8 542.5 370.3 543.1 404.4 543.7 378.2 544.3 407.8 544.9 391.1 545.5 408.0 546.1 382.2 546.7 405.3 547.3 390.8 547.9 406.3 548.5 381.5 549.1 405.4 549.7 388.9 550.3 406.6 550.9 391.2 551.5 406.8 552.1 382.7 552.7 404.6 553.3 389.0 553.9 407.2 554.5 387.3 555.1 406.2 555.7 389.6 556.3 405.1 556.9 390.5 557.5 405.4 558.1 375.2 558.7 406.9 559.3 390.3 559.9 404.6 560.5 374.4 561.1 407.5 561.7 383.3 562.3 404.3 562.9 377.2 563.5 405.9 564.1 371.6 564.7 405.7 565.3 387.4 565.9 406.1 566.5 388.2 567.1 407.8 567.7 384.2 568.3 407.1 568.9 376.0 569.5 404.0 570.1 386.1 570.7 406.1 571.3 382.3 571.9 404.5 572.5 386.8 573.1 405.7 573.7 364.7 574.3 406.0 574.9 384.0 575.5 406.9 576.1 380.6 576.7 404.5 577.3 380.9 577.9 405.4 578.5 388.4 579.1 405.8 579.7 387.7 580.3 407.2 580.9 381.7 581.5 405.8 582.1 383.9 582.7 406.5 583.3 386.0 583.9 404.2 584.5 380.7 585.1 406.6 585.7 377.1 586.3 406.0 586.9 373.8 587.5 407.5 588.1 383.3 588.7 405.0 589.3 383.7 589.9 406.9 590.5 384.4 591.1 405.6 591.7 386.6 592.3 404.8 592.9 388.1 593.5 407.2 594.1 382.9 594.7 405.5 595.4 381.5 596.0 405.6 596.6 379.8 597.2 405.1 597.8 390.0 598.4 404.6 599.0 391.9 599.6 405.8 600.2 382.1 600.8 404.4 601.4 388.4 602.0 404.9 602.6 383.5 603.2 404.5 603.8 389.9 604.4 406.6 605.0 384.7 605.6 405.7 606.2 375.5 606.8 405.9 607.4 383.6 608.0 405.9 608.6 388.5 609.2 407.6 609.8 371.8 610.4 404.5 611.0 375.0 611.6 405.4 612.2 366.1 612.8 407.7 613.4 372.2 614.0 405.1 614.6 388.1 615.2 406.2 615.8 374.8 616.4 405.6 617.0 380.1 617.6 404.6 618.2 385.4 618.8 407.7 619.4 386.7 620.0 407.0 620.6 390.7 621.2 407.4 621.8 379.2 622.4 404.9 623.0 379.3 623.6 405.5 624.2 386.8 624.8 407.1 625.4 383.9 626.0 407.9 626.6 380.2 627.2 405.8 627.8 385.0 628.4 407.6 629.0 394.6 629.6 407.5 630.2 376.7 630.8 405.0 631.4 387.8 632.0 405.2 632.6 387.8 633.2 404.9 633.8 385.4 634.4 405.5 635.0 376.0 635.6 405.4 636.2 374.2 636.8 407.8 637.4 380.3 638.0 406.4 638.6 378.2 639.2 405.8 639.8 381.6 640.4 406.3 641.0 386.7 641.6 405.1 642.2 385.9 642.8 405.9 643.4 373.7 644.0 406.6 644.6 381.5 645.2 404.7 645.8 392.8 646.4 404.2 647.0 388.5 647.6 406.6 648.2 391.7 648.8 405.3 649.4 375.2 650.0 406.3 650.6 373.5 651.2 406.2 651.8 387.8 652.4 405.7 653.0 382.4 653.6 404.9 654.2 388.6 654.8 406.4 655.4 382.6 656.0 404.3 656.6 384.0 657.2 407.6 657.8 387.7 658.4 405.9 659.0 377.1 659.6 407.9 660.2 381.0 660.8 407.3" stroke="#00ff00" stroke-width="3.0"/>
<path d="M154.8 383.4 155.5 397.8 156.2 385.3 156.9 402.1 157.6 387.7 158.3 405.0 159.0 385.5 159.7 401.7 160.4 384.5 161.1 397.2 161.8 383.7 162.5 395.6 163.2 382.8 163.9 398.1 164.6 379.4 165.3 396.0 166.0 384.9 166.7 396.2 167.4 381.6 168.1 395.4 168.8 377.3 169.5 389.5 170.2 371.1 170.9 389.6 171.6 376.4 172.3 389.8 173.0 375.5 173.7 386.7 174.4 373.3 175.1 392.0 175.8 371.6 176.5 391.2 177.2 371.2 177.9 394.8 178.6 375.7 179.3 394.7 180.0 371.8 180.7 386.0 181.4 370.6 182.1 383.4 182.8 370.3 183.5 383.6 184.2 368.2 184.9 382.5 185.6 364.7 186.3 377.1 187.0 364.8 187.7 378.5 188.4 361.4 189.1 374.5 189.8 364.4 190.5 376.6 191.2 361.0 191.9 376.4 192.6 360.1 193.3 371.0 194.0 353.8 194.7 370.6 195.4 359.9 196.1 370.5 196.7 357.8 197.4 369.6 198.1 355.9 198.8 375.3 199.5 359.1 200.2 370.0 200.9 352.9 201.6 372.2 202.3 348.3 203.0 364.7 203.7 351.8 204.4 370.9 205.1 355.9 205.8 368.2 206.5 353.5 207.2 367.5 207.9 344.9 208.6 363.4 209.3 351.2 210.0 358.5 210.7 346.9 211.4 364.2 212.1 347.9 212.8 362.9 213.5 346.8 214.2 359.8 214.9 344.1 215.6 358.8 216.3 344.9 217.0 360.6 217.7 341.8 218.4 358.7 219.1 339.5 219.8 351.4 220.5 338.1 221.2 355.8 221.9 336.2 222.6 355.8 223.3 340.1 224.0 349.9 224.7 333.2 225.4 352.4 226.1 334.6 226.8 351.8 227.5 332.1 228.2 352.0 228.9 335.1 229.6 351.0 230.3 332.6 231.0 345.9 231.7 329.5 232.4 344.9 233.1 326.4 233.8 342.5 234.5 331.3 235.2 341.8 235.9 324.2 236.6 342.3 237.3 326.0 238.0 340.4 238.7 327.9 239.4 341.0 240.1 327.2 240.8 339.1 241.5 318.5 242.2 338.0 242.9 323.4 243.6 331.2 244.3 317.5 245.0 332.8 245.7 322.0 246.4 332.6 247.1 319.3 247.8 330.7 248.5 319.6 249.2 332.7 249.9 316.7 250.6 326.8 251.3 314.7 252.0 328.0 252.7 315.8 253.4 327.2 254.1 315.6 254.8 328.4 255.5 315.4 256.2 325.4 256.9 313.9 257.6 322.1 258.3 304.9 259.0 319.1 259.7 306.2 260.4 317.4 261.1 304.0 261.8 317.1 262.5 309.3 263.2 319.6 263.9 304.4 264.6 314.9 265.3 302.0 266.0 313.4 266.7 301.6 267.4 311.3 268.1 298.5 268.8 310.1 269.5 298.9 270.2 308.6 270.9 300.0 271.6 312.2 272.3 301.1 273.0 307.1 273.7 301.3 274.4 309.9 275.1 294.7 275.8 304.3 276.5 296.2 277.2 301.8 277.9 292.4 278.6 301.2 279.2 289.6 279.9 297.9 280.6 287.9 281.3 298.4 282.0 288.1 282.7 299.7 283.4 287.5 284.1 297.3 284.8 287.7 285.5 296.2 286.2 288.3 286.9 295.2 287.6 284.9 288.3 297.2 289.0 289.2 289.7 295.7 290.4 286.4 291.1 291.4 291.8 285.4 292.5 292.5 293.2 279.9 293.9 289.5 294.6 280.7 295.3 287.7 296.0 277.6 296.7 288.4 297.4 280.7 298.1 285.6 298.8 276.0 299.5 284.7 300.2 274.5 300.9 283.4 301.6 272.2 302.3 281.2 303.0 270.7 303.7 277.0 304.4 270.5 305.1 279.6 305.8 271.5 306.5 278.5 307.2 267.8 307.9 276.0 308.6 270.3 309.3 275.5 310.0 267.9 310.7 274.3 311.4 265.6 312.1 274.4 312.8 265.0 313.5 272.4 314.2 263.4 314.9 270.6 315.6 260.4 316.3 267.9 317.0 260.8 317.7 266.4 318.4 257.6 319.1 266.9 319.8 255.4 320.5 261.4 321.2 253.4 321.9 259.6 322.6 252.6 323.3 260.9 324.0 252.6 324.7 260.1 325.4 254.9 326.1 261.6 326.8 254.2 327.5 258.4 328.2 251.7 328.9 256.2 329.6 246.7 330.3 254.4 331.0 242.7 331.7 252.8 332.4 245.1 333.1 251.5 333.8 246.1 334.5 251.0 335.2 242.7 335.9 251.0 336.6 241.9 337.3 247.3 338.0 239.1 338.7 250.4 339.4 242.6 340.1 247.1 340.8 238.5 341.5 245.5 342.2 236.1 342.9 242.3 343.6 231.9 344.3 239.0 345.0 231.0 345.7 242.6 346.4 233.2 347.1 240.7 347.8 234.2 348.5 241.6 349.2 234.9 349.9 241.2 350.6 231.2 351.3 240.3 352.0 230.8 352.7 237.0 353.4 226.9 354.1 232.5 354.8 225.4 355.5 231.7 356.2 224.1 356.9 229.6 357.6 225.4 358.3 232.7 359.0 225.6 359.7 229.3 360.4 221.5 361.1 231.9 361.7 222.7 362.4 227.5 363.1 218.7 363.8 227.9 364.5 218.3 365.2 227.2 365.9 219.8 366.6 229.9 367.3 220.0 368.0 224.1 368.7 218.1 369.4 222.4 370.1 211.8 370.8 220.9 371.5 212.0 372.2 219.8 372.9 213.8 373.6 218.9 374.3 211.7 375.0 216.4 375.7 207.3 376.4 214.4 377.1 210.1 377.8 217.8 378.5 210.5 379.2 217.0 379.9 207.1 380.6 216.7 381.3 207.7 382.0 211.3 382.7 204.6 383.4 211.4 384.1 203.7 384.8 210.0 385.5 200.6 386.2 208.6 386.9 199.9 387.6 205.6 388.3 199.1 389.0 203.9 389.7 201.1 390.4 206.1 391.1 200.1 391.8 206.9 392.5 199.2 393.2 205.2 393.9 198.3 394.6 202.0 395.3 197.2 396.0 204.0 396.7 195.4 397.4 201.2 398.1 194.8 398.8 201.6 399.5 192.3 400.2 199.3 400.9 191.6 401.6 197.5 402.3 189.5 403.0 196.4 404.5 192.0 406.5 240.0 408.0 300.0 409.5 388.0 410.2 406.6 410.8 379.7 411.4 405.8 412.0 385.1 412.6 405.2 413.2 381.8 413.8 404.4 414.4 372.5 415.0 407.5 415.6 385.1 416.2 406.8 416.8 375.3 417.4 404.2 418.0 385.8 418.6 405.9 419.2 388.9 419.8 404.5 420.4 385.6 421.0 404.6 421.6 384.4 422.2 406.8 422.8 392.5 423.4 406.6 424.0 373.0 424.6 406.0 425.2 381.9 425.8 405.1 426.4 380.9 427.0 404.7 427.6 390.0 428.2 404.3 428.8 377.0 429.4 405.3 430.0 381.6 430.6 406.9 431.2 380.9 431.8 404.8 432.4 358.4 433.0 405.7 433.6 387.6 434.2 407.3 434.8 385.1 435.4 407.4 436.0 365.4 436.6 407.4 437.2 382.1 437.8 405.9 438.4 379.6 439.0 406.3 439.6 377.4 440.2 405.9 440.8 382.0 441.4 405.9 442.0 390.8 442.6 404.0 443.2 391.2 443.8 405.7 444.4 387.0 445.0 404.5 445.6 390.8 446.2 405.2 446.8 387.5 447.4 405.6 448.0 381.1 448.6 405.2 449.2 391.3 449.8 407.2 450.4 387.8 451.0 404.9 451.6 384.0 452.2 406.4 452.8 388.3 453.4 406.3 454.0 382.9 454.6 405.1 455.2 387.1 455.8 407.0 456.4 381.4 457.0 405.2 457.6 388.5 458.2 404.5 458.8 383.8 459.4 405.5 460.0 392.2 460.6 407.8 461.2 393.3 461.8 404.5 462.4 390.9 463.0 404.1 463.6 392.4 464.2 405.3 464.8 377.5 465.4 404.6 466.0 387.4 466.6 407.6 467.2 380.1 467.8 408.0 468.4 378.8 469.0 405.3 469.6 390.6 470.2 404.6 470.8 382.5 471.4 404.8 472.0 378.3 472.6 405.1 473.1 384.9 473.7 404.1 474.3 386.3 474.9 405.8 475.5 388.5 476.1 406.0 476.7 384.0 477.3 404.7 477.9 383.5 478.5 406.0 479.1 376.5 479.7 405.3 480.3 377.5 480.9 404.4 481.5 386.3 482.1 407.3 482.7 371.7 483.3 405.7 483.9 392.5 484.5 407.9 485.1 397.6 485.7 404.5 486.3 400.1 486.9 407.8 487.5 390.7 488.1 407.9 488.7 390.5 489.3 406.1 489.9 380.0 490.5 405.5 491.1 385.3 491.7 404.4 492.3 381.8 492.9 404.1 493.5 373.6 494.1 406.4 494.7 385.8 495.3 407.5 495.9 385.4 496.5 406.5 497.1 380.2 497.7 406.0 498.3 387.4 498.9 404.4 499.5 376.8 500.1 404.8 500.7 379.9 501.3 406.6 501.9 391.8 502.5 405.0 503.1 381.7 503.7 404.6 504.3 369.1 504.9 406.9 505.5 375.2 506.1 405.1 506.7 384.2 507.3 406.4 507.9 381.0 508.5 407.5 509.1 385.0 509.7 406.6 510.3 377.8 510.9 407.8 511.5 378.9 512.1 407.7 512.7 381.2 513.3 404.0 513.9 390.4 514.5 407.0 515.1 382.0 515.7 406.6 516.3 380.0 516.9 406.6 517.5 378.5 518.1 407.8 518.7 382.8 519.3 405.4 519.9 373.3 520.5 405.6 521.1 370.1 521.7 405.3 522.3 381.1 522.9 405.3 523.5 389.7 524.1 407.1 524.7 389.6 525.3 406.7 525.9 383.5 526.5 407.2 527.1 382.4 527.7 404.7 528.3 375.7 528.9 405.1 529.5 380.3 530.1 406.5 530.7 381.0 531.3 404.3 531.9 384.8 532.5 407.5 533.1 387.0 533.7 406.8 534.3 388.3 534.9 407.5 535.5 393.6 536.1 407.0 536.7 390.1 537.3 404.1 537.9 382.7 538.5 404.4 539.1 391.8 539.7 405.8 540.3 391.4 540.9 406.6 541.5 388.3 542.1 406.5 542.7 395.7 543.3 407.9 543.9 392.1 544.5 405.1 545.1 392.1 545.7 406.6 546.3 385.4 546.9 406.3 547.5 394.9 548.1 405.2 548.7 390.2 549.3 406.6 549.9 390.9 550.5 405.2 551.1 389.2 551.7 406.0 552.3 379.5 552.9 404.6 553.5 384.2 554.1 406.6 554.7 384.1 555.3 407.3 555.9 377.7 556.5 404.2 557.1 391.0 557.7 406.3 558.3 383.0 558.9 407.7 559.5 394.2 560.1 407.3 560.7 392.6 561.3 406.1 561.9 387.9 562.5 408.0 563.1 390.4 563.7 405.7 564.3 390.7 564.9 406.6 565.5 378.3 566.1 406.6 566.7 382.1 567.3 405.5 567.9 396.6 568.5 406.3 569.1 389.4 569.7 406.4 570.3 390.5 570.9 405.3 571.5 382.4 572.1 405.7 572.7 381.2 573.3 406.2 573.9 384.8 574.5 406.7 575.1 381.9 575.7 404.0 576.3 372.2 576.9 404.4 577.5 389.8 578.1 404.1 578.7 382.3 579.3 404.6 579.9 390.7 580.5 407.5 581.1 378.8 581.7 405.0 582.3 391.7 582.9 405.7 583.5 385.9 584.1 405.9 584.7 373.6 585.3 404.3 585.9 395.7 586.5 407.9 587.1 390.9 587.7 404.4 588.3 383.4 588.9 405.5 589.5 375.9 590.1 405.0 590.7 390.6 591.3 406.8 591.9 373.6 592.5 405.5 593.1 385.6 593.7 405.5 594.3 393.0 594.9 407.8 595.5 387.1 596.1 407.4 596.7 376.3 597.3 404.9 597.9 375.7 598.4 407.5 599.0 382.5 599.6 404.4 600.2 380.0 600.8 407.0 601.4 386.9 602.0 404.2 602.6 384.4 603.2 405.6 603.8 391.8 604.4 405.4 605.0 385.0 605.6 405.4 606.2 374.1 606.8 408.0 607.4 375.0 608.0 405.4 608.6 379.4 609.2 405.8 609.8 381.6 610.4 407.5 611.0 387.5 611.6 408.0 612.2 387.4 612.8 407.9 613.4 392.0 614.0 404.3 614.6 392.2 615.2 404.6 615.8 389.3 616.4 407.5 617.0 375.0 617.6 405.3 618.2 384.4 618.8 407.5 619.4 390.0 620.0 405.9 620.6 388.2 621.2 407.2 621.8 391.6 622.4 407.7 623.0 379.4 623.6 404.9 624.2 381.5 624.8 406.9 625.4 383.4 626.0 404.3 626.6 376.9 627.2 404.9 627.8 383.7 628.4 405.9 629.0 378.5 629.6 406.3 630.2 388.8 630.8 406.0 631.4 391.8 632.0 404.5 632.6 381.8 633.2 406.7 633.8 374.2 634.4 407.7 635.0 378.8 635.6 406.4 636.2 393.9 636.8 407.0 637.4 390.4 638.0 406.6 638.6 393.9 639.2 405.5 639.8 389.8 640.4 406.7 641.0 386.8 641.6 405.4 642.2 387.1 642.8 405.2 643.4 391.3 644.0 406.5 644.6 383.2 645.2 406.8 645.8 391.4 646.4 407.0 647.0 387.6 647.6 406.1 648.2 388.4 648.8 407.9 649.4 377.9 650.0 407.8 650.6 371.1 651.2 405.5 651.8 392.0 652.4 406.6 653.0 384.2 653.6 407.7 654.2 385.7 654.8 406.5 655.4 381.1 656.0 407.3 656.6 394.5 657.2 406.9 657.8 389.4 658.4 406.3 659.0 388.7 659.6 407.6 660.2 388.6 660.8 404.5" stroke="#0000ff" stroke-width="2.6"/>
<path d="M154.8 407.3 155.5 390.3 156.2 402.4 156.9 393.1 157.6 406.2 158.3 391.4 159.0 404.9 159.7 388.4 160.4 400.8 161.1 384.9 161.8 397.1 162.5 384.9 163.2 395.0 163.9 381.7 164.6 397.6 165.3 379.3 166.0 397.1 166.7 380.4 167.4 391.4 168.1 380.9 168.8 392.8 169.5 375.6 170.2 390.7 170.9 376.9 171.6 393.0 172.3 377.6 173.0 391.4 173.7 374.1 174.4 387.6 175.1 371.5 175.8 385.3 176.5 373.8 177.2 387.9 177.9 368.8 178.6 387.7 179.3 372.0 180.0 385.3 180.7 368.3 181.4 380.8 182.1 367.4 182.8 380.6 183.5 366.3 184.2 381.3 184.9 365.5 185.6 379.6 186.3 366.0 187.0 381.2 187.7 361.4 188.4 379.0 189.1 361.3 189.8 376.1 190.5 360.8 191.2 374.3 191.9 357.1 192.6 374.1 193.3 357.9 194.0 373.1 194.7 360.7 195.4 375.4 196.1 358.4 196.8 371.9 197.5 356.0 198.2 370.6 198.9 352.0 199.6 367.7 200.3 352.4 201.0 365.3 201.7 353.6 202.4 366.0 203.1 352.4 203.8 366.7 204.5 347.8 205.2 363.8 205.9 346.4 206.6 364.2 207.3 345.6 208.0 357.3 208.7 344.4 209.4 355.8 210.1 343.1 210.8 360.7 211.5 343.2 212.2 359.2 212.9 344.9 213.6 358.2 214.3 342.8 215.0 356.7 215.7 341.6 216.4 353.6 217.1 342.2 217.8 350.6 218.5 337.1 219.2 353.4 219.9 339.4 220.6 351.5 221.3 338.2 222.0 353.1 222.7 338.9 223.4 350.8 224.1 332.2 224.8 347.0 225.5 330.0 226.2 345.1 226.9 328.2 227.6 345.2 228.3 331.2 229.0 345.8 229.7 329.1 230.4 344.2 231.1 326.2 231.8 341.3 232.5 323.5 233.2 337.2 233.9 324.1 234.6 338.2 235.3 324.0 236.0 335.8 236.7 322.9 237.4 332.1 238.1 317.9 238.8 331.4 239.5 319.9 240.2 334.2 240.9 320.6 241.6 334.3 242.3 319.2 243.0 333.8 243.7 317.1 244.4 332.8 245.1 315.5 245.8 326.8 246.5 314.2 247.2 328.1 247.9 311.7 248.6 325.0 249.3 315.8 250.0 325.6 250.7 313.4 251.4 323.5 252.1 311.3 252.8 322.3 253.5 309.3 254.2 321.1 254.9 308.3 255.6 320.7 256.3 311.8 257.0 318.7 257.7 306.7 258.4 317.3 259.1 308.0 259.8 319.1 260.5 304.6 261.2 314.6 261.9 301.4 262.6 311.8 263.3 298.6 264.0 308.6 264.7 299.9 265.4 309.4 266.1 297.7 266.8 309.7 267.5 299.9 268.2 306.0 268.9 298.2 269.6 306.4 270.3 295.3 271.0 307.4 271.7 293.7 272.4 304.6 273.1 294.7 273.8 302.3 274.5 290.9 275.2 303.0 275.9 288.3 276.6 299.8 277.3 286.8 278.0 297.7 278.7 285.8 279.4 295.4 280.1 284.9 280.8 295.7 281.5 284.1 282.2 294.6 282.9 282.5 283.6 290.9 284.3 283.9 285.0 290.0 285.7 282.2 286.4 291.2 287.1 279.8 287.8 289.4 288.5 277.3 289.2 288.5 289.9 276.3 290.6 286.4 291.3 275.5 292.0 287.0 292.7 276.6 293.4 286.3 294.1 274.9 294.8 284.3 295.5 276.4 296.2 282.1 296.9 270.2 297.6 279.2 298.3 270.7 299.0 279.8 299.7 268.5 300.4 276.5 301.1 269.0 301.8 275.7 302.5 264.8 303.2 274.9 303.9 264.4 304.6 274.9 305.3 265.1 306.0 271.7 306.7 262.4 307.4 269.6 308.1 258.9 308.8 268.1 309.5 258.5 310.2 266.8 310.9 257.9 311.6 267.5 312.3 257.1 313.0 265.0 313.7 255.6 314.4 263.5 315.1 256.4 315.8 264.7 316.5 253.4 317.2 259.3 317.9 250.0 318.6 260.0 319.3 251.2 320.0 260.6 320.7 252.5 321.4 261.4 322.1 249.2 322.8 256.2 323.5 248.4 324.2 254.4 324.9 245.5 325.6 253.5 326.3 244.2 327.0 251.0 327.7 244.3 328.4 250.3 329.1 241.4 329.8 249.5 330.5 241.1 331.2 248.1 331.9 239.7 332.6 247.9 333.3 238.8 334.0 247.9 334.7 238.5 335.4 246.7 336.1 235.4 336.8 245.6 337.5 234.8 338.2 243.5 338.9 231.9 339.6 239.4 340.3 230.1 341.0 239.6 341.7 229.1 342.4 236.8 343.1 230.2 343.8 237.7 344.5 228.2 345.2 238.1 345.9 227.6 346.6 233.4 347.3 224.3 348.0 231.0 348.7 222.1 349.4 231.3 350.1 225.7 350.8 233.0 351.5 224.5 352.2 232.2 352.9 222.4 353.6 228.1 354.3 218.1 355.0 226.1 355.7 218.5 356.4 224.6 357.1 216.7 357.8 222.7 358.5 215.1 359.2 224.6 359.9 219.2 360.6 223.4 361.3 214.1 362.0 223.6 362.7 211.8 363.4 220.8 364.1 211.3 364.8 218.1 365.5 207.7 366.2 215.4 366.9 207.6 367.6 218.2 368.3 209.3 369.0 218.6 369.7 210.1 370.4 214.9 371.1 206.3 371.8 212.1 372.5 202.4 373.2 213.6 373.9 205.2 374.6 212.1 375.3 203.9 376.0 210.3 376.7 198.7 377.4 206.0 378.1 198.4 378.8 205.2 379.5 196.5 380.2 206.1 380.9 198.0 381.6 202.4 382.3 194.6 383.0 202.8 383.7 191.1 384.4 199.8 385.1 188.9 385.8 197.6 386.5 188.1 387.2 195.9 387.9 189.2 388.6 197.7 389.3 186.8 390.0 196.1 390.7 188.5 391.4 194.4 392.1 185.3 392.8 194.3 393.5 187.7 394.2 193.0 394.9 185.2 395.6 194.5 396.3 185.3 397.0 192.3 397.7 184.1 398.4 192.4 399.1 185.0 399.8 190.6 400.5 180.5 401.2 187.9 401.9 177.6 402.6 186.0 403.3 177.9 404.0 186.4 404.7 176.6 405.4 183.4 406.1 174.4 406.8 183.8 407.5 173.9 408.2 179.0 408.9 172.5 409.6 180.4 410.3 172.6 411.0 177.6 411.7 170.2 412.4 177.9 413.1 167.3 413.8 175.3 414.5 165.9 415.2 174.0 415.9 165.2 416.6 172.2 417.3 165.4 418.0 173.2 418.7 164.5 419.4 172.0 420.1 162.0 420.8 170.4 421.5 160.9 422.2 168.2 422.9 160.4 423.6 166.1 424.3 159.1 425.0 167.5 425.7 159.6 426.4 167.4 427.1 156.0 427.8 163.9 428.5 155.9 429.5 172.0 430.5 186.0 431.5 170.0 432.5 180.0 433.5 160.0 434.5 170.0 435.5 250.0 436.5 330.0 437.5 380.0 438.2 383.5 438.8 405.9 439.4 376.4 440.0 407.3 440.6 378.9 441.2 405.4 441.8 388.8 442.4 405.8 443.0 388.1 443.6 405.6 444.2 395.9 444.8 404.0 445.4 376.8 446.0 404.5 446.6 386.4 447.2 406.4 447.8 381.3 448.4 405.4 449.0 381.1 449.6 405.4 450.2 375.0 450.8 404.2 451.4 373.1 452.0 404.2 452.6 385.5 453.2 406.7 453.8 380.0 454.4 407.5 455.0 383.5 455.6 404.6 456.2 390.3 456.8 406.6 457.4 375.4 458.0 406.8 458.6 383.7 459.2 404.5 459.8 379.8 460.4 404.3 461.0 385.5 461.6 405.8 462.2 387.5 462.8 404.4 463.4 377.1 464.0 405.3 464.6 385.0 465.2 404.7 465.8 385.5 466.4 407.0 467.0 381.1 467.6 407.1 468.2 381.9 468.8 406.1 469.4 385.9 470.0 404.5 470.6 381.3 471.2 404.6 471.8 379.0 472.4 405.9 473.0 382.3 473.6 404.9 474.2 393.0 474.8 406.6 475.4 391.2 476.0 406.7 476.6 387.9 477.2 405.9 477.8 386.6 478.4 407.0 479.0 384.7 479.6 407.3 480.2 381.5 480.8 405.3 481.4 389.2 482.0 404.9 482.6 383.3 483.2 404.7 483.8 367.9 484.4 404.7 485.0 386.0 485.6 405.4 486.2 378.3 486.8 406.2 487.4 390.4 488.0 407.8 488.6 393.8 489.2 406.9 489.8 380.8 490.4 407.4 491.0 393.1 491.6 405.2 492.2 389.3 492.8 404.0 493.4 390.6 494.0 406.8 494.6 380.4 495.2 407.6 495.8 379.0 496.4 407.8 497.0 381.5 497.6 404.5 498.2 388.5 498.8 406.8 499.4 389.6 500.0 404.6 500.6 392.0 501.2 407.2 501.8 390.0 502.4 406.2 503.0 382.1 503.6 406.5 504.2 383.3 504.8 404.3 505.4 388.2 506.0 406.3 506.6 378.1 507.2 404.8 507.8 385.0 508.4 407.8 509.0 387.6 509.6 405.4 510.2 377.8 510.8 405.3 511.4 381.0 512.0 406.5 512.6 383.3 513.2 407.9 513.8 377.6 514.4 404.4 515.0 393.3 515.6 405.4 516.2 396.0 516.8 404.7 517.4 397.6 518.0 404.5 518.6 385.8 519.2 405.0 519.8 390.5 520.4 404.9 521.0 383.6 521.6 405.7 522.2 385.1 522.8 405.5 523.4 390.5 524.0 407.6 524.6 392.4 525.2 406.0 525.8 388.2 526.4 405.1 527.0 384.0 527.6 406.4 528.2 383.2 528.8 407.6 529.4 383.6 530.0 404.8 530.6 354.5 531.2 405.6 531.8 377.5 532.4 406.4 533.0 371.2 533.6 406.8 534.2 388.0 534.8 408.0 535.4 378.4 536.0 406.6 536.6 389.1 537.2 407.8 537.8 383.9 538.4 407.2 539.0 383.0 539.6 405.7 540.2 383.9 540.8 404.6 541.4 387.7 542.0 407.3 542.6 387.7 543.2 405.6 543.8 385.7 544.4 405.0 545.0 376.5 545.6 406.1 546.2 384.7 546.8 404.8 547.4 383.3 548.0 404.5 548.6 385.3 549.2 405.4 549.8 376.0 550.4 406.9 551.0 374.2 551.6 407.6 552.2 363.4 552.8 406.3 553.4 388.8 554.0 407.0 554.6 380.4 555.2 404.3 555.8 389.8 556.4 407.7 557.0 372.7 557.6 407.4 558.2 382.7 558.8 405.2 559.4 384.8 560.0 404.5 560.6 382.6 561.2 407.0 561.8 386.0 562.4 407.8 563.0 386.8 563.6 406.9 564.2 371.4 564.8 406.1 565.4 385.8 566.0 407.4 566.6 386.2 567.2 406.7 567.8 380.4 568.4 405.8 569.0 376.4 569.6 404.9 570.2 385.0 570.8 404.3 571.4 388.4 572.0 406.6 572.6 383.2 573.2 407.2 573.8 390.2 574.4 407.9 575.0 393.2 575.6 407.1 576.2 392.3 576.8 407.3 577.4 381.8 578.0 406.0 578.6 373.9 579.2 407.9 579.8 389.9 580.4 407.3 581.0 389.3 581.6 405.3 582.2 381.6 582.8 407.0 583.4 383.3 584.0 407.3 584.6 391.5 585.2 405.4 585.8 386.8 586.4 405.0 587.0 388.0 587.6 406.1 588.2 377.0 588.8 405.5 589.4 376.0 590.0 407.5 590.6 382.9 591.2 406.3 591.8 390.2 592.4 406.1 593.0 383.1 593.6 405.4 594.2 380.3 594.8 404.3 595.4 390.4 596.0 406.1 596.6 383.9 597.2 404.5 597.8 378.6 598.4 406.7 599.0 389.8 599.6 406.5 600.2 391.2 600.8 404.8 601.4 387.4 602.0 404.4 602.6 389.6 603.2 404.1 603.8 373.2 604.4 404.8 605.0 381.7 605.6 407.2 606.2 394.7 606.8 406.8 607.4 388.9 608.0 404.4 608.6 387.4 609.2 405.1 609.8 381.5 610.4 407.0 611.0 380.2 611.6 407.1 612.2 379.2 612.8 405.7 613.4 381.7 614.0 404.7 614.6 385.3 615.2 406.8 615.8 386.7 616.4 405.6 617.0 394.0 617.6 407.2 618.2 393.7 618.8 405.7 619.4 389.9 620.0 404.8 620.6 364.6 621.2 405.3 621.8 373.5 622.4 406.6 623.0 379.9 623.6 404.0 624.2 379.3 624.8 407.0 625.4 378.4 626.0 407.2 626.6 388.3 627.2 405.5 627.8 391.1 628.4 404.6 629.0 376.0 629.6 407.0 630.2 380.3 630.8 407.3 631.4 386.1 632.0 406.2 632.6 374.8 633.2 404.5 633.8 373.5 634.4 407.5 635.0 386.6 635.6 405.2 636.2 377.5 636.8 405.7 637.4 377.0 638.0 407.8 638.6 380.5 639.2 407.8 639.8 381.3 640.4 404.7 641.0 382.1 641.6 406.4 642.2 394.9 642.8 406.2 643.4 388.1 644.0 404.6 644.6 392.4 645.2 407.8 645.8 380.6 646.4 404.1 647.0 392.3 647.6 404.7 648.2 382.7 648.8 406.4 649.4 375.9 650.0 406.6 650.6 384.9 651.2 405.7 651.8 389.1 652.4 407.5 653.0 384.4 653.6 404.0 654.2 386.6 654.8 407.8 655.4 383.4 656.0 404.9 656.6 385.2 657.2 407.7 657.8 384.4 658.4 404.5 659.0 379.3 659.6 404.0 660.2 375.3 660.8 406.3" stroke="#ffa500" stroke-width="1.6"/>
<path d="M154.8 401.6 155.5 389.2 156.2 401.3 156.9 389.2 157.6 401.6 158.3 388.9 159.0 400.8 159.7 387.7 160.4 398.6 161.1 388.4 161.8 398.2 162.5 387.3 163.2 397.6 163.9 386.9 164.6 396.2 165.3 383.8 166.0 395.7 166.7 382.4 167.4 392.8 168.1 380.6 168.8 391.8 169.5 378.1 170.2 390.7 170.9 377.6 171.6 388.9 172.3 376.3 173.0 388.0 173.7 376.0 174.4 387.9 175.1 375.3 175.8 387.5 176.5 374.9 177.2 386.1 177.9 374.4 178.6 384.9 179.3 374.1 180.0 383.9 180.7 371.1 181.4 382.4 182.1 369.8 182.8 379.6 183.5 366.6 184.2 377.4 184.9 364.0 185.6 375.8 186.3 363.3 187.0 374.7 187.7 362.2 188.4 373.9 189.1 362.9 189.8 375.4 190.5 364.3 191.2 375.7 191.9 361.4 192.6 373.5 193.3 360.1 194.0 370.2 194.7 357.8 195.4 366.8 196.1 355.7 196.8 364.8 197.5 352.8 198.2 364.6 198.9 353.1 199.6 364.7 200.3 353.6 201.0 362.8 201.7 350.4 202.4 361.4 203.1 349.0 203.8 360.3 204.5 348.7 205.2 359.5 205.9 346.5 206.6 357.9 207.3 345.8 208.0 356.9 208.7 345.8 209.4 355.8 210.1 344.7 210.8 355.7 211.5 342.8 212.2 353.2 212.9 343.1 213.6 352.6 214.3 342.3 215.0 352.7 215.7 340.3 216.4 352.2 217.1 338.0 217.8 349.1 218.5 337.0 219.2 348.9 219.9 336.5 220.6 347.2 221.3 334.8 222.0 346.5 222.7 334.5 223.4 345.7 224.1 333.5 224.8 343.8 225.5 332.0 226.2 344.3 226.9 331.4 227.6 341.2 228.3 327.5 229.0 338.2 229.7 324.8 230.4 336.8 231.1 325.6 231.8 336.5 232.5 326.0 233.2 335.5 233.9 324.1 234.6 333.3 235.3 321.8 236.0 332.7 236.7 321.9 237.4 331.4 238.1 319.5 238.8 330.6 239.5 319.1 240.2 330.3 240.9 317.7 241.6 327.2 242.3 315.1 243.0 326.1 243.7 316.3 244.4 327.6 245.1 314.5 245.8 325.2 246.5 313.6 247.2 323.9 247.9 311.5 248.6 324.0 249.3 311.8 250.0 321.7 250.7 310.2 251.4 319.9 252.1 307.3 252.8 318.8 253.5 306.6 254.2 316.6 254.9 305.2 255.6 315.8 256.3 303.8 257.0 315.4 257.7 302.9 258.4 312.9 259.1 301.6 259.8 311.0 260.5 298.2 261.2 309.7 261.9 297.4 262.6 308.4 263.3 296.5 264.0 308.5 264.7 296.9 265.4 307.3 266.1 294.7 266.8 305.7 267.5 292.2 268.2 302.7 268.9 290.9 269.6 302.9 270.3 291.8 271.0 304.0 271.7 292.5 272.4 302.3 273.1 290.6 273.8 300.3 274.5 287.8 275.2 298.1 275.9 284.7 276.6 294.0 277.3 281.1 278.0 293.8 278.7 281.3 279.4 292.5 280.1 281.6 280.8 292.3 281.5 280.7 282.2 289.6 282.9 279.0 283.6 287.6 284.3 277.4 285.0 288.4 285.7 276.7 286.4 287.9 287.1 276.3 287.8 285.1 288.5 274.9 289.2 285.5 289.9 271.7 290.6 281.2 291.3 268.7 292.0 278.9 292.7 267.6 293.4 278.4 294.1 267.6 294.8 279.1 295.5 267.1 296.2 277.6 296.9 265.4 297.6 275.6 298.3 263.7 299.0 276.0 299.7 263.4 300.4 273.7 301.1 262.4 301.8 273.9 302.5 260.9 303.2 271.0 303.9 258.5 304.6 267.6 305.3 256.8 306.0 267.2 306.7 256.7 307.4 267.4 308.1 256.2 308.8 266.3 309.5 252.9 310.2 262.4 310.9 250.6 311.6 262.7 312.3 249.4 313.0 261.5 313.7 249.6 314.4 259.7 315.1 247.4 315.8 257.0 316.5 245.5 317.2 257.1 317.9 246.1 318.6 257.8 319.3 247.2 320.0 256.2 320.7 243.7 321.4 254.4 322.1 243.2 322.8 252.5 323.5 242.6 324.2 253.4 324.9 243.1 325.6 252.6 326.3 241.1 327.0 249.7 327.7 237.4 328.4 248.7 329.1 235.2 329.8 246.4 330.5 235.7 331.2 245.0 331.9 233.5 332.6 243.7 333.2 231.8 333.9 243.1 334.6 229.9 335.3 240.5 336.0 228.9 336.7 239.1 337.4 225.5 338.1 236.1 338.8 225.9 339.5 236.2 340.2 223.8 340.9 236.2 341.6 225.1 342.3 234.4 343.0 224.0 343.7 234.3 344.4 221.4 345.1 231.8 345.8 219.4 346.5 228.9 347.2 217.7 347.9 228.7 348.6 216.3 349.3 227.1 350.0 216.8 350.7 226.0 351.4 215.0 352.1 224.8 352.8 214.1 353.5 224.4 354.2 212.0 354.9 222.2 355.6 210.8 356.3 220.8 357.0 210.0 357.7 219.6 358.4 207.9 359.1 217.6 359.8 206.2 360.5 217.7 361.2 206.1 361.9 215.3 362.6 204.6 363.3 214.3 364.0 202.8 364.7 214.6 365.4 201.7 366.1 212.4 366.8 200.4 367.5 210.9 368.2 199.3 368.9 208.4 369.6 198.2 370.3 207.6 371.0 197.0 371.7 208.1 372.4 196.2 373.1 207.4 373.8 194.6 374.5 204.4 375.2 193.5 375.9 201.4 376.6 190.2 377.3 199.7 378.0 189.3 378.7 199.6 379.4 188.0 380.1 197.6 380.8 186.9 381.5 196.6 382.2 184.2 382.9 195.4 383.6 184.7 384.3 196.9 385.0 185.5 385.7 195.9 386.4 183.9 387.1 192.9 387.8 181.6 388.5 192.5 389.2 179.5 389.9 189.8 390.6 178.4 391.3 188.9 392.0 177.7 392.7 186.3 393.4 174.5 394.1 185.7 394.8 173.9 395.5 185.2 396.2 175.2 396.9 185.1 397.6 173.4 398.3 182.4 399.0 171.4 399.7 181.7 400.4 170.0 401.1 178.3 401.8 168.6 402.5 178.2 403.2 165.7 403.9 176.6 404.6 165.9 405.3 176.8 406.0 166.6 406.7 177.0 407.4 165.3 408.1 174.0 408.8 161.4 409.5 171.7 410.2 160.4 410.9 171.3 411.6 159.6 412.3 170.5 413.0 159.0 413.7 168.9 414.4 158.9 415.1 168.1 415.8 157.6 416.5 167.1 417.2 156.4 417.9 165.6 418.6 154.2 419.3 164.8 420.0 154.1 420.7 164.2 421.4 152.4 422.1 163.1 422.8 152.6 423.5 162.4 424.2 151.7 424.9 161.4 425.6 150.2 426.3 159.9 427.0 147.6 427.7 156.3 428.4 145.7 429.1 155.2 429.8 143.5 430.5 153.3 431.2 141.7 431.9 151.0 432.6 139.7 433.3 150.3 434.0 139.9 434.7 150.2 435.4 140.2 436.1 150.9 436.8 139.2 437.5 148.3 438.2 138.1 438.9 147.7 439.6 136.9 440.3 146.1 441.0 135.1 441.7 145.3 442.4 134.4 443.1 144.3 443.8 133.1 444.5 143.0 445.2 132.2 445.9 141.1 446.6 130.1 447.3 139.7 448.0 129.6 448.7 137.6 449.4 127.3 450.1 137.0 450.8 126.1 451.5 135.0 452.2 124.9 452.9 134.9 453.6 122.9 454.3 133.9 455.0 123.5 455.7 132.4 456.4 121.8 457.1 132.4 457.8 120.5 458.5 130.8 459.2 118.6 459.9 127.7 460.6 116.6 461.3 127.6 462.0 116.4 462.7 126.1 463.4 115.1 464.1 127.2 464.8 116.1 465.5 126.2 466.2 116.4 466.9 125.4 467.6 113.1 468.3 122.2 469.0 110.5 469.7 120.3 470.4 107.6 471.1 118.0 471.8 106.4 472.5 115.4 473.2 105.4 473.9 116.0 474.6 107.7 475.3 118.2 476.0 105.3 476.7 114.7 477.4 104.0 478.1 112.1 478.8 102.1 479.5 109.8 480.2 99.1 480.9 108.7 481.6 98.6 482.3 108.9 483.0 98.0 483.7 108.5 484.4 97.2 485.1 106.3 485.8 95.0 486.5 104.8 487.2 93.7 487.9 102.5 488.6 92.4 489.3 101.3 490.0 89.8 490.7 99.8 491.4 88.8 492.1 99.0 492.8 87.8 493.5 96.3 494.2 86.0 494.9 96.5 495.6 85.4 496.3 94.2 497.0 83.5 497.7 93.7 498.4 83.9 499.1 93.2 499.8 83.4 500.5 91.8 501.2 82.4 501.9 91.4 502.6 80.8 503.3 90.7 504.0 79.1 504.7 88.5 505.4 77.0 506.1 87.1 506.8 75.9 507.5 86.3 508.2 74.6 508.9 85.9 509.6 75.6 510.3 85.8 511.0 75.4 512.0 72.0 512.8 90.0 513.2 250.0 513.6 395.0 514.3 404.4 514.9 384.8 515.5 406.8 516.1 378.2 516.7 406.2 517.3 390.7 517.9 404.6 518.5 386.3 519.1 404.0 519.7 382.3 520.3 405.4 520.9 393.1 521.5 407.7 522.1 389.6 522.7 405.2 523.3 379.2 523.9 405.2 524.5 388.8 525.1 405.9 525.7 389.9 526.3 404.4 526.9 389.2 527.5 407.2 528.1 386.1 528.7 406.7 529.3 389.3 529.9 406.0 530.5 379.9 531.1 405.6 531.7 389.8 532.3 406.7 532.9 391.5 533.5 406.1 534.1 393.4 534.7 405.7 535.3 386.4 535.9 407.4 536.5 378.7 537.1 407.1 537.7 389.1 538.3 407.7 538.9 390.9 539.5 405.4 540.1 386.1 540.7 405.8 541.3 382.8 541.9 404.9 542.5 382.8 543.1 405.6 543.7 386.1 544.3 405.9 544.9 396.6 545.5 404.1 546.1 376.0 546.7 407.0 547.3 395.2 547.9 405.4 548.5 386.7 549.1 404.5 549.7 384.3 550.3 407.9 550.9 378.1 551.5 406.5 552.1 386.5 552.7 407.8 553.3 396.3 553.9 405.3 554.5 383.2 555.1 404.4 555.7 387.3 556.3 404.2 556.9 387.7 557.5 406.3 558.1 382.9 558.7 405.7 559.3 384.8 559.9 406.7 560.5 389.4 561.1 407.3 561.7 382.7 562.3 406.9 562.9 395.5 563.5 406.7 564.1 394.8 564.7 404.5 565.3 384.8 565.9 407.1 566.5 379.8 567.1 406.5 567.7 391.1 568.3 405.5 568.9 391.1 569.5 406.3 570.1 385.7 570.7 407.2 571.3 389.2 571.9 404.5 572.5 390.8 573.1 404.6 573.7 376.6 574.3 407.9 574.9 378.9 575.5 404.5 576.1 379.7 576.7 406.2 577.3 380.6 577.9 408.0 578.5 388.9 579.1 404.1 579.7 387.4 580.3 404.0 580.9 386.8 581.5 407.6 582.1 385.3 582.7 405.6 583.3 382.5 583.9 406.4 584.5 389.0 585.1 406.8 585.7 393.9 586.3 405.9 586.9 376.0 587.5 406.4 588.2 389.0 588.8 407.0 589.4 376.3 590.0 406.6 590.6 388.9 591.2 404.3 591.8 391.4 592.4 404.0 593.0 387.5 593.6 405.6 594.2 391.9 594.8 406.7 595.4 384.8 596.0 405.0 596.6 380.1 597.2 406.1 597.8 365.6 598.4 407.3 599.0 390.0 599.6 404.4 600.2 392.1 600.8 407.0 601.4 393.2 602.0 404.2 602.6 395.7 603.2 405.3 603.8 386.4 604.4 406.7 605.0 384.4 605.6 405.0 606.2 386.6 606.8 404.9 607.4 386.6 608.0 405.6 608.6 376.6 609.2 404.7 609.8 383.0 610.4 405.1 611.0 367.6 611.6 404.5 612.2 383.7 612.8 405.6 613.4 389.8 614.0 406.6 614.6 395.4 615.2 404.6 615.8 380.5 616.4 406.4 617.0 381.4 617.6 404.3 618.2 383.3 618.8 405.5 619.4 386.4 620.0 406.5 620.6 388.4 621.2 405.9 621.8 389.1 622.4 406.5 623.0 382.2 623.6 407.8 624.2 388.6 624.8 406.8 625.4 387.6 626.0 406.5 626.6 381.7 627.2 405.1 627.8 383.0 628.4 405.8 629.0 382.5 629.6 406.2 630.2 383.1 630.8 405.8 631.4 390.4 632.0 404.7 632.6 379.7 633.2 407.4 633.8 396.1 634.4 407.8 635.0 390.3 635.6 405.2 636.2 375.0 636.8 407.2 637.4 381.6 638.0 404.4 638.6 388.5 639.2 404.9 639.8 384.0 640.4 406.2 641.0 386.8 641.6 405.1 642.2 389.3 642.8 407.1 643.4 377.5 644.0 406.3 644.6 385.5 645.2 407.2 645.8 375.5 646.4 405.1 647.0 385.7 647.6 408.0 648.2 373.7 648.8 406.2 649.4 391.1 650.0 407.6 650.6 385.0 651.2 405.9 651.8 383.4 652.4 407.1 653.0 384.9 653.6 406.7 654.2 384.9 654.8 405.4 655.4 386.0 656.0 406.3 656.6 379.9 657.2 404.3 657.8 388.5 658.4 406.0 659.0 385.7 659.6 404.4 660.2 383.3 660.8 408.0" stroke="#ff00ff" stroke-width="1.6"/>
</g>
<path d="M154.8 400.8h24M660.8 400.8h-24M154.8 305.6h24M660.8 305.6h-24M154.8 210.4h24M660.8 210.4h-24M154.8 115.2h24M660.8 115.2h-24M154.8 20h24M660.8 20h-24M154.8 353.2h12M660.8 353.2h-12M154.8 258h12M660.8 258h-12M154.8 162.8h12M660.8 162.8h-12M154.8 67.6h12M660.8 67.6h-12M154.8 405.3v-24M154.8 20v24M323.47 405.3v-24M323.47 20v24M492.13 405.3v-24M492.13 20v24M660.8 405.3v-24M660.8 20v24M239.13 405.3v-12M239.13 20v12M407.8 405.3v-12M407.8 20v12M576.47 405.3v-12M576.47 20v12" stroke="#000" stroke-width="2" fill="none"/>
<rect x="154.8" y="20" width="506" height="385.3" fill="none" stroke="#000" stroke-width="3.5"/>
<text x="143.4" y="413.9" text-anchor="end" font-size="40">0</text>
<text x="143.4" y="318.7" text-anchor="end" font-size="40">600</text>
<text x="143.4" y="223.5" text-anchor="end" font-size="40">1200</text>
<text x="143.4" y="128.3" text-anchor="end" font-size="40">1800</text>
<text x="143.4" y="33.1" text-anchor="end" font-size="40">2400</text>
<text x="154.8" y="444.8" text-anchor="middle" font-size="40">0</text>
<text x="323.47" y="444.8" text-anchor="middle" font-size="40">1</text>
<text x="492.13" y="444.8" text-anchor="middle" font-size="40">2</text>
<text x="660.8" y="444.8" text-anchor="middle" font-size="40">3</text>
<text x="407.8" y="490.2" text-anchor="middle" font-size="48.5">Time (ns)</text>
<text transform="translate(40.9 212.65) rotate(-90)" x="0" y="0" text-anchor="middle" font-size="48.5">Force (pN)</text>
<clipPath id="c1"><rect x="154.8" y="560.0" width="506.00" height="385.00"/></clipPath><g clip-path="url(#c1)" fill="none" stroke-linejoin="round">
<path d="M154.8 944.3 155.4 943.6 156.0 944.5 156.6 943.5 157.2 944.6 157.8 943.6 158.4 944.7 159.0 943.4 159.6 944.7 160.2 942.9 160.8 944.2 161.4 943.0 162.0 944.0 162.6 942.6 163.2 943.4 163.8 942.3 164.4 943.4 165.0 942.4 165.6 944.1 166.2 942.6 166.8 943.8 167.4 942.4 168.0 944.2 168.6 942.2 169.2 943.7 169.8 942.4 170.4 944.1 171.0 942.3 171.6 943.6 172.2 941.7 172.8 943.8 173.4 941.6 174.0 943.8 174.6 941.7 175.2 943.2 175.8 942.0 176.4 943.6 177.0 941.6 177.6 943.0 178.2 941.4 178.8 943.0 179.4 941.4 180.0 943.8 180.6 941.5 181.2 943.5 181.8 942.5 182.4 943.5 183.0 940.8 183.6 943.1 184.2 940.6 184.8 941.8 185.4 939.6 186.0 942.3 186.6 939.7 187.2 942.4 187.8 940.2 188.4 941.9 189.0 940.5 189.6 942.2 190.2 940.6 190.8 943.2 191.4 940.4 192.0 941.9 192.6 939.3 193.2 941.0 193.8 938.6 194.4 941.0 195.0 938.8 195.6 940.9 196.2 939.0 196.8 941.2 197.4 938.9 198.0 940.9 198.6 938.8 199.2 941.0 199.8 938.4 200.4 940.6 201.0 938.9 201.6 941.1 202.2 938.5 202.8 940.9 203.4 938.9 204.0 941.1 204.6 939.1 205.2 940.5 205.8 938.2 206.4 940.7 207.0 937.5 207.6 939.1 208.2 935.8 208.8 937.9 209.4 936.4 210.0 939.1 210.6 935.9 211.2 939.0 211.8 936.4 212.4 938.6 213.0 936.5 213.6 938.7 214.2 935.9 214.8 938.7 215.4 936.2 216.0 938.5 216.6 935.9 217.2 938.8 217.8 937.0 218.4 938.9 219.0 936.6 219.6 937.8 220.2 936.0 220.8 937.9 221.4 935.6 222.0 939.5 222.6 936.2 223.2 940.4 223.8 936.6 224.4 939.6 225.0 935.7 225.6 938.9 226.2 934.9 226.8 937.3 227.4 934.7 228.0 939.1 228.6 936.0 229.2 939.3 229.8 937.3 230.4 939.7 231.0 935.2 231.6 938.8 232.2 935.4 232.8 938.0 233.4 934.2 234.0 937.0 234.6 934.0 235.2 938.2 235.8 933.8 236.4 937.6 237.0 934.1 237.6 938.2 238.2 934.1 238.8 936.5 239.4 933.4 240.0 937.6 240.6 933.5 241.2 936.8 241.8 933.9 242.4 937.2 243.0 931.9 243.6 934.8 244.2 932.5 244.8 935.0 245.4 931.8 246.0 935.9 246.6 932.9 247.2 935.8 247.8 933.9 248.4 937.3 249.0 932.7 249.6 936.2 250.2 932.3 250.8 936.9 251.4 932.7 252.0 936.7 252.6 931.7 253.2 935.8 253.8 933.1 254.4 936.4 255.0 932.7 255.6 935.4 256.2 932.9 256.8 936.2 257.4 932.7 258.0 935.6 258.6 930.8 259.2 933.6 259.8 929.4 260.4 934.8 261.0 930.3 261.6 934.3 262.2 930.5 262.8 934.1 263.4 930.1 264.0 934.3 264.6 930.1 265.2 933.4 265.8 930.2 266.4 933.4 267.0 928.6 267.6 931.8 268.2 927.9 268.8 930.7 269.4 928.5 270.0 932.5 270.6 928.2 271.2 934.2 271.8 930.2 272.4 932.9 273.0 928.7 273.6 933.5 274.2 927.5 274.8 931.4 275.4 929.0 276.0 932.8 276.6 927.4 277.2 933.3 277.8 927.6 278.4 934.9 279.0 929.5 279.6 934.4 280.2 931.9 280.8 936.7 281.4 930.5 282.0 935.3 282.6 928.6 283.2 934.1 283.8 927.6 284.4 932.4 285.0 928.8 285.6 932.2 286.2 928.5 286.8 932.3 287.4 928.6 288.0 932.0 288.6 927.5 289.2 933.5 289.8 928.2 290.4 934.4 291.0 928.6 291.6 933.6 292.2 928.1 292.8 932.6 293.4 929.3 294.0 934.6 294.6 928.3 295.2 932.9 295.8 927.8 296.4 932.1 297.0 926.7 297.6 930.1 298.2 926.0 298.8 930.5 299.4 924.8 300.0 929.9 300.6 926.2 301.2 933.3 301.8 926.8 302.4 933.2 303.0 925.1 303.6 929.9 304.2 924.3 304.8 929.7 305.4 923.9 306.0 928.4 306.6 922.2 307.2 926.1 307.8 922.5 308.4 926.5 309.0 920.0 309.6 925.2 310.2 920.8 310.8 927.1 311.4 921.9 312.0 928.9 312.6 923.6 313.2 929.1 313.8 925.5 314.4 930.1 315.0 924.7 315.6 930.0 316.2 923.6 316.8 928.0 317.4 923.9 318.0 927.8 318.6 925.3 319.2 929.2 319.8 923.6 320.4 929.1 321.0 923.0 321.6 925.2 322.2 920.3 322.8 923.7 323.4 920.2 324.0 923.4 324.6 920.2 325.2 923.8 325.8 919.2 326.4 923.9 327.0 917.3 327.6 924.0 328.2 916.7 328.8 922.6 329.4 916.5 330.0 921.1 330.6 915.1 331.2 921.1 331.8 915.6 332.4 921.0 333.0 915.2 333.6 922.8 334.2 917.7 334.8 923.1 335.4 919.5 336.0 925.0 336.6 921.6 337.2 925.7 337.8 921.3 338.4 926.5 339.0 919.3 339.6 924.0 340.2 920.0 340.9 923.1 341.5 917.7 342.1 921.3 342.7 916.6 343.3 920.2 343.9 914.1 344.5 920.5 345.1 917.2 345.7 921.8 346.3 918.3 346.9 923.8 347.5 915.9 348.1 922.5 348.7 913.8 349.3 920.4 349.9 913.7 350.5 918.8 351.1 914.2 351.7 919.3 352.3 914.5 352.9 920.3 353.5 916.1 354.1 921.6 354.7 914.4 355.3 919.7 355.9 914.2 356.5 920.5 357.1 913.3 357.7 916.8 358.3 911.5 358.9 915.9 359.5 910.1 360.1 914.4 360.7 909.0 361.3 913.7 361.9 908.9 362.5 914.1 363.1 909.7 363.7 915.5 364.3 911.3 364.9 916.9 365.5 911.9 366.1 916.1 366.7 908.8 367.3 914.7 367.9 907.9 368.5 914.9 369.1 908.7 369.7 914.0 370.3 906.9 370.9 912.8 371.5 907.2 372.1 914.3 372.7 909.9 373.3 915.2 373.9 908.9 374.5 914.3 375.1 906.1 375.7 911.5 376.3 906.6 376.9 910.0 377.5 904.6 378.1 910.3 378.7 904.3 379.3 910.2 379.9 905.7 380.5 910.2 381.1 903.2 381.7 908.3 382.3 900.8 382.9 906.0 383.5 901.8 384.1 907.1 384.7 903.5 385.3 911.0 385.9 905.1 386.5 909.0 387.1 901.2 387.7 907.7 388.3 901.5 388.9 905.6 389.5 901.3 390.1 905.3 390.7 900.5 391.3 907.1 391.9 899.0 392.5 904.6 393.1 899.0 393.7 902.3 394.3 897.8 394.9 903.1 395.5 899.6 396.1 905.4 396.7 901.6 397.3 906.5 397.9 903.1 398.5 906.6 399.1 901.9 399.7 904.8 400.3 899.2 400.9 904.6 401.5 900.1 402.1 903.2 402.7 898.9 403.3 903.1 403.9 898.0 404.5 902.8 405.1 895.0 405.7 898.7 406.3 892.4 406.9 896.8 407.5 893.4 408.1 900.1 408.7 895.5 409.3 902.0 409.9 894.9 410.5 899.0 411.1 893.7 411.7 899.1 412.3 893.2 412.9 900.8 413.5 894.4 414.1 900.1 414.7 896.1 415.3 903.7 415.9 896.1 416.5 898.6 417.1 891.9 417.7 898.1 418.3 890.9 418.9 894.4 419.5 890.7 420.1 897.7 420.7 891.7 421.3 899.2 421.9 895.1 422.5 899.5 423.1 893.4 423.7 901.0 424.3 893.3 424.9 897.7 425.5 890.4 426.1 895.3 426.7 885.7 427.3 889.9 427.9 885.6 428.5 890.0 429.1 884.4 429.7 888.4 430.3 885.4 430.9 890.3 431.5 885.9 432.1 889.1 432.7 885.4 433.3 890.0 433.9 886.2 434.5 890.6 435.1 887.8 435.7 892.0 436.3 887.7 436.9 893.7 437.5 888.8 438.1 895.3 438.7 890.7 439.3 894.8 439.9 887.9 440.5 895.1 441.1 888.1 441.7 891.9 442.3 886.4 442.9 891.6 443.5 884.1 444.1 886.9 444.7 879.1 445.3 884.5 445.9 877.9 446.5 880.8 447.1 873.6 447.7 878.5 448.3 869.7 448.9 874.2 449.5 868.8 450.1 872.3 450.7 866.7 451.3 871.7 451.9 863.4 452.5 867.0 453.1 859.9 453.7 865.9 454.3 857.8 454.9 863.5 455.5 860.4 456.1 863.8 456.7 859.2 457.3 863.9 457.9 860.1 458.5 864.3 459.1 856.8 459.7 860.8 460.3 855.6 460.9 859.2 461.5 856.5 462.1 862.5 462.7 857.3 463.3 863.9 463.9 856.5 464.5 862.3 465.1 855.3 465.7 858.3 466.3 851.2 466.9 855.5 467.5 850.3 468.1 855.7 468.7 849.2 469.3 852.6 469.9 845.5 470.5 850.9 471.1 843.9 471.7 850.1 472.3 843.0 472.9 849.5 473.5 840.2 474.1 846.5 474.7 838.0 475.3 843.3 475.9 836.4 476.5 840.3 477.1 835.6 477.7 839.4 478.3 833.9 478.9 840.5 479.5 833.3 480.1 840.1 480.7 832.3 481.3 837.9 481.9 832.2 482.5 837.7 483.1 831.8 483.7 836.1 484.3 830.8 484.9 836.3 485.5 829.5 486.1 834.2 486.7 830.5 487.3 834.9 487.9 827.1 488.5 834.7 489.1 826.4 489.7 832.8 490.3 827.3 490.9 833.1 491.5 824.9 492.1 830.7 492.7 825.0 493.3 832.6 493.9 825.8 494.5 832.3 495.1 826.9 495.7 834.2 496.3 826.9 496.9 833.8 497.5 827.7 498.1 834.0 498.7 830.1 499.3 833.7 499.9 827.7 500.5 830.8 501.1 823.0 501.7 827.5 502.3 818.9 502.9 825.4 503.5 822.2 504.1 828.6 504.7 823.7 505.3 829.5 505.9 824.7 506.5 828.1 507.1 823.4 507.7 828.0 508.3 821.6 508.9 827.4 509.5 823.6 510.1 827.1 510.7 822.6 511.3 827.5 511.9 821.8 512.5 826.1 513.1 822.1 513.7 825.8 514.3 822.1 514.9 824.7 515.5 821.0 516.1 824.9 516.7 820.9 517.3 822.9 517.9 821.2 518.5 824.0 519.1 821.4 519.7 823.4 520.3 820.5 520.9 823.5 521.5 821.4 522.1 823.0 522.7 821.5 523.3 823.3 523.9 821.2 524.5 822.4 525.1 820.7 525.7 822.6 526.3 821.2 526.3 822.3 527.0 822.8 527.7 821.9 528.4 822.3 529.1 822.1 529.8 822.6 530.5 822.2 531.2 822.2 531.9 822.5 532.6 822.5 533.3 822.4 534.0 823.1 534.7 822.1 535.4 823.4 536.1 822.4 536.8 822.4 537.5 821.9 538.2 822.4 538.9 822.5 539.6 822.6 540.3 822.1 541.0 824.2 541.7 822.4 542.4 823.7 543.1 822.0 543.8 822.4 544.5 822.3 545.2 822.8 545.9 822.4 546.6 822.8 547.3 822.4 548.0 822.5 548.7 822.3 549.4 822.4 550.1 822.2 550.8 822.5 551.5 822.5 552.2 824.0 552.9 822.3 553.6 823.8 554.3 822.4 555.0 823.0 555.7 822.4 556.4 823.9 557.1 822.3 557.8 823.6 558.5 822.0 559.2 822.3 559.9 821.9 560.6 823.3 561.3 822.4 562.0 823.2 562.7 822.0 563.4 822.3 564.1 822.5 564.8 823.1 565.5 822.1 566.2 824.3 566.9 822.4 567.6 822.6 568.3 822.4 569.0 822.2 569.7 822.3 570.4 823.1 571.1 822.1 571.8 822.7 572.5 822.3 573.2 822.5 573.9 822.1 574.6 823.0 575.3 822.1 576.0 822.7 576.7 821.9 577.4 823.2 578.1 822.2 578.8 823.3 579.5 822.5 580.2 823.1 580.9 822.3 581.6 823.3 582.3 822.4 583.0 823.2 583.7 822.0 584.4 823.4 585.1 822.3 585.8 825.3 586.5 822.1 587.2 823.8 587.9 822.3 588.6 823.0 589.3 822.2 590.0 822.4 590.7 822.3 591.4 822.3 592.1 822.2 592.8 822.4 593.5 821.9 594.3 823.0 595.0 822.0 595.7 822.6 596.4 821.7 597.1 823.2 597.8 822.1 598.5 822.8 599.2 822.2 599.9 823.3 600.6 821.7 601.3 822.8 602.0 821.9 602.7 822.5 603.4 821.8 604.1 822.0 604.8 822.1 605.5 823.8 606.2 821.9 606.9 822.6 607.6 821.6 608.3 823.4 609.0 821.8 609.7 821.8 610.4 821.7 611.1 823.2 611.8 821.7 612.5 822.4 613.2 821.5 613.9 821.7 614.6 821.4 615.3 822.9 616.0 821.5 616.7 821.6 617.4 821.3 618.1 823.9 618.8 821.6 619.5 822.1 620.2 821.6 620.9 823.6 621.6 821.7 622.3 822.0 623.0 821.4 623.7 821.8 624.4 821.1 625.1 822.9 625.8 821.2 626.5 821.9 627.2 821.7 627.9 821.8 628.6 821.6 629.3 821.7 630.0 821.6 630.7 821.5 631.4 821.5 632.1 821.6 632.8 821.1 633.5 821.3 634.2 821.0 634.9 822.7 635.6 821.2 636.3 821.9 637.0 821.3 637.7 821.3 638.4 821.0 639.1 823.2 639.8 820.9 640.5 822.1 641.2 820.8 641.9 821.8 642.6 821.1 643.3 821.1 644.0 821.2 644.7 821.5 645.4 820.9 646.1 822.3 646.8 820.8 647.5 822.0 648.2 821.1 648.9 821.8 649.6 820.6 650.3 821.0 651.0 821.1 651.7 821.5 652.4 820.6 653.1 821.7 653.8 820.8 654.5 822.0 655.2 821.1 655.9 822.8 656.6 820.9 657.3 821.5 658.0 820.9 658.7 821.6 659.4 820.8 660.1 821.0 660.8 820.9" stroke="#000000" stroke-width="3.5"/>
<path d="M154.8 944.0 155.5 943.3 156.2 944.1 156.9 943.4 157.6 944.5 158.3 943.5 159.0 944.4 159.7 943.4 160.4 944.4 161.1 943.1 161.8 944.2 162.5 943.1 163.2 943.9 163.9 942.8 164.6 943.7 165.3 942.7 166.0 943.4 166.7 942.5 167.4 943.7 168.1 943.0 168.8 943.9 169.5 943.1 170.2 943.8 170.9 942.6 171.6 943.6 172.3 942.8 173.0 943.5 173.7 942.4 174.4 943.2 175.1 942.4 175.8 943.0 176.5 941.7 177.2 943.1 177.9 941.9 178.6 943.1 179.3 941.8 180.0 942.4 180.7 941.2 181.4 942.1 182.1 941.1 182.8 942.0 183.5 941.3 184.2 942.3 184.9 941.2 185.6 942.2 186.3 940.6 187.0 941.7 187.7 940.1 188.4 941.2 189.1 940.5 189.8 941.6 190.5 940.6 191.2 941.4 191.9 939.9 192.6 941.4 193.3 940.2 194.0 941.4 194.7 939.9 195.4 940.8 196.1 939.4 196.8 940.6 197.5 939.6 198.2 940.7 198.9 939.2 199.6 941.2 200.3 939.9 201.0 941.3 201.7 940.6 202.4 942.2 203.1 940.0 203.9 941.8 204.6 939.7 205.3 940.8 206.0 939.2 206.7 940.6 207.4 938.6 208.1 939.8 208.8 938.4 209.5 939.7 210.2 938.3 210.9 940.3 211.6 939.0 212.3 940.7 213.0 938.6 213.7 940.8 214.4 939.3 215.1 940.3 215.8 938.7 216.5 940.7 217.2 938.7 217.9 939.7 218.6 938.4 219.3 940.2 220.0 937.8 220.7 939.4 221.4 938.0 222.1 939.1 222.8 937.2 223.5 938.8 224.2 936.9 224.9 938.6 225.6 937.5 226.3 939.2 227.0 937.7 227.7 940.0 228.4 937.6 229.1 939.2 229.8 937.3 230.5 939.4 231.2 938.3 231.9 939.5 232.6 938.2 233.3 940.3 234.0 938.4 234.7 940.2 235.4 938.5 236.1 940.2 236.8 937.5 237.5 939.0 238.2 937.7 238.9 938.6 239.6 936.7 240.3 937.8 241.0 935.2 241.7 936.6 242.4 934.7 243.1 936.9 243.8 934.8 244.5 936.5 245.2 934.2 245.9 936.8 246.6 933.7 247.3 936.2 248.0 934.3 248.7 936.4 249.4 935.1 250.1 937.3 250.8 934.7 251.5 936.9 252.2 934.0 252.9 935.9 253.6 934.0 254.3 936.7 255.0 934.0 255.7 937.0 256.4 935.2 257.1 937.2 257.8 935.5 258.5 936.6 259.2 933.7 259.9 936.2 260.6 933.5 261.3 935.6 262.0 933.5 262.7 936.1 263.4 933.2 264.1 935.7 264.8 933.8 265.5 935.7 266.2 933.3 266.9 935.2 267.6 933.0 268.3 935.7 269.0 933.0 269.7 934.3 270.4 931.9 271.1 933.9 271.8 931.3 272.5 934.6 273.2 933.1 273.9 935.2 274.6 934.0 275.3 935.9 276.0 933.7 276.7 935.8 277.4 932.6 278.1 935.6 278.8 932.3 279.5 935.4 280.2 933.0 280.9 935.4 281.6 932.3 282.3 933.8 283.0 931.0 283.7 931.9 284.4 929.6 285.1 931.6 285.8 929.4 286.5 930.7 287.2 928.3 287.9 930.5 288.6 928.4 289.3 931.2 290.0 928.7 290.7 930.6 291.4 928.7 292.1 930.6 292.8 929.1 293.5 932.1 294.2 929.3 294.9 932.0 295.6 929.6 296.3 932.0 297.0 930.5 297.7 931.8 298.4 930.5 299.1 931.7 299.8 929.7 300.5 932.8 301.3 930.2 302.0 933.3 302.7 929.8 303.4 933.6 304.1 929.9 304.8 933.0 305.5 930.5 306.2 931.4 306.9 929.1 307.6 930.4 308.3 927.9 309.0 930.1 309.7 927.8 310.4 930.2 311.1 927.7 311.8 929.3 312.5 926.6 313.2 929.8 313.9 926.7 314.6 928.9 315.3 926.0 316.0 928.4 316.7 925.9 317.4 928.3 318.1 925.2 318.8 928.2 319.5 925.2 320.2 927.6 320.9 925.6 321.6 928.3 322.3 925.7 323.0 929.5 323.7 926.1 324.4 928.4 325.1 925.8 325.8 928.9 326.5 925.2 327.2 927.1 327.9 925.3 328.6 927.0 329.3 923.5 330.0 926.6 330.7 923.3 331.4 926.3 332.1 924.0 332.8 926.4 333.5 923.8 334.2 926.8 334.9 923.4 335.6 926.8 336.3 923.5 337.0 927.3 337.7 924.4 338.4 927.3 339.1 923.5 339.8 925.2 340.5 922.4 341.2 924.7 341.9 921.5 342.6 924.9 343.3 921.3 344.0 924.9 344.7 921.0 345.4 924.1 346.1 921.2 346.8 924.3 347.5 920.1 348.2 923.3 348.9 919.5 349.6 923.4 351.0 920.0 353.8 896.0 356.5 877.0 359.3 855.0 362.0 850.5 362.5 849.4 363.2 850.4 363.9 849.0 364.6 850.1 365.3 849.2 366.0 849.4 366.7 849.3 367.4 849.6 368.1 849.0 368.8 850.4 369.5 849.1 370.2 850.5 370.9 849.0 371.6 849.9 372.3 848.9 373.0 849.7 373.7 849.2 374.4 849.3 375.1 849.2 375.8 851.0 376.5 849.1 377.2 849.4 377.9 849.0 378.6 849.7 379.3 849.1 380.0 850.1 380.7 849.4 381.4 849.3 382.1 849.3 382.8 850.0 383.5 849.4 384.2 849.6 384.9 849.3 385.6 850.6 386.3 849.1 387.0 849.3 387.7 849.0 388.4 849.9 389.1 849.4 389.8 850.0 390.5 849.0 391.2 849.6 391.9 849.1 392.6 850.6 393.3 849.3 394.0 850.1 394.7 849.5 395.4 850.7 396.1 849.1 396.8 849.4 397.5 849.4 398.2 850.6 398.9 849.4 399.6 849.3 400.3 849.3 401.0 849.2 401.7 849.2 402.4 850.0 403.1 849.1 403.8 850.0 404.5 849.0 405.2 850.2 405.9 849.0 406.6 850.3 407.3 849.3 408.0 849.9 408.7 849.0 409.4 849.8 410.1 849.0 410.8 850.4 411.5 849.0 412.2 849.4 412.9 849.0 413.6 849.5 414.3 849.4 415.0 850.1 415.7 849.3 416.4 849.2 417.1 849.2 417.8 849.7 418.5 849.4 419.2 850.3 419.9 849.2 420.6 849.6 421.3 849.1 422.0 849.6 422.7 848.9 423.4 850.7 424.1 849.5 424.8 850.6 425.5 849.1 426.2 849.5 426.9 848.9 427.6 849.9 428.3 849.2 429.0 850.7 429.7 849.4 430.4 849.8 431.1 849.2 431.8 849.4 432.5 849.2 433.2 849.9 433.9 849.3 434.6 850.1 435.3 849.1 436.0 850.3 436.7 849.2 437.4 850.7 438.1 849.0 438.8 849.8 439.5 849.0 440.2 849.5 440.9 849.4 441.6 850.7 442.3 849.0 443.0 850.3 443.7 849.4 444.4 851.0 445.1 849.2 445.8 849.9 446.5 849.5 447.2 849.5 447.9 849.2 448.6 849.4 449.3 849.5 450.0 849.5 450.7 849.4 451.4 849.9 452.1 849.0 452.8 850.6 453.5 848.9 454.2 849.6 454.9 849.0 455.6 850.1 456.3 849.0 457.0 851.3 457.7 849.2 458.4 849.4 459.1 848.9 459.8 849.5 460.5 848.9 461.2 849.9 461.9 849.4 462.6 849.7 463.3 849.1 464.0 850.6 464.7 849.0 465.4 850.6 466.1 849.1 466.8 849.6 467.5 849.4 468.2 850.2 468.9 849.4 469.6 850.2 470.3 849.4 471.0 849.4 471.7 849.1 472.4 850.2 473.1 849.0 473.8 849.6 474.5 849.1 475.2 850.2 475.9 849.0 476.6 850.6 477.3 849.3 478.0 849.5 478.7 849.4 479.4 850.5 480.1 849.0 480.8 849.4 481.5 849.1 482.2 849.9 482.9 849.4 483.6 849.9 484.3 849.2 485.0 849.5 485.7 849.1 486.4 851.2 487.1 849.1 487.8 849.4 488.5 849.2 489.2 851.0 489.9 849.3 490.6 849.6 491.3 849.1 492.0 849.3 492.7 849.0 493.4 849.9 494.1 849.3 494.8 849.6 495.5 849.2 496.2 849.2 496.9 849.1 497.6 850.1 498.3 849.2 499.0 850.6 499.7 849.1 500.4 850.2 501.1 849.2 501.8 849.5 502.5 849.5 503.2 849.2 503.9 849.4 504.6 849.5 505.3 849.3 506.0 850.4 506.7 849.4 507.4 849.8 508.1 849.4 508.8 849.5 509.5 849.5 510.2 849.6 510.9 849.0 511.6 849.2 512.4 849.1 513.1 850.4 513.8 849.4 514.5 850.1 515.2 849.0 515.9 849.9 516.6 849.3 517.3 849.9 518.0 849.0 518.7 851.4 519.4 849.3 520.1 849.6 520.8 849.5 521.5 849.8 522.2 849.3 522.9 849.4 523.6 848.9 524.3 850.4 525.0 849.1 525.7 849.4 526.4 849.1 527.1 850.0 527.8 849.0 528.5 850.0 529.2 849.4 529.9 850.3 530.6 849.0 531.3 849.9 532.0 849.4 532.7 849.5 533.4 849.0 534.1 850.0 534.8 849.0 535.5 849.4 536.2 849.2 536.9 850.1 537.6 849.5 538.3 851.2 539.0 849.0 539.7 851.7 540.4 849.1 541.1 850.9 541.8 849.1 542.5 849.5 543.2 849.1 543.9 849.6 544.6 849.0 545.3 849.9 546.0 849.3 546.7 852.5 547.4 848.9 548.1 849.6 548.8 849.3 549.5 849.7 550.2 849.2 550.9 850.3 551.6 849.0 552.3 849.6 553.0 849.0 553.7 849.6 554.4 849.1 555.1 850.1 555.8 849.3 556.5 849.7 557.2 849.0 557.9 849.6 558.6 849.0 559.3 849.6 560.0 849.1 560.7 849.5 561.4 849.2 562.1 850.4 562.8 849.3 563.5 849.5 564.2 849.4 564.9 850.2 565.6 849.0 566.3 850.3 567.0 849.4 567.7 850.0 568.4 849.2 569.1 850.7 569.8 849.0 570.5 850.6 571.2 849.1 571.9 851.4 572.6 849.0 573.3 850.2 574.0 849.4 574.7 851.8 575.4 849.1 576.1 849.3 576.8 849.4 577.5 849.7 578.2 849.5 578.9 849.7 579.6 849.2 580.3 849.7 581.0 849.2 581.7 850.4 582.4 849.1 583.1 851.2 583.8 849.5 584.5 849.3 585.2 849.0 585.9 852.0 586.6 848.9 587.3 849.2 588.0 849.5 588.7 849.6 589.4 849.2 590.1 849.6 590.8 849.3 591.5 850.7 592.2 849.4 592.9 849.8 593.6 849.5 594.3 849.7 595.0 849.1 595.7 849.6 596.4 849.1 597.1 850.7 597.8 849.5 598.5 850.1 599.2 849.5 599.9 850.9 600.6 849.3 601.3 849.6 602.0 849.5 602.7 849.7 603.4 849.4 604.1 850.7 604.8 849.3 605.5 850.1 606.2 849.2 606.9 850.9 607.6 849.0 608.3 849.4 609.0 849.5 609.7 850.6 610.4 849.2 611.1 850.5 611.8 849.0 612.5 849.7 613.2 849.0 613.9 850.3 614.6 849.2 615.3 850.3 616.0 849.3 616.7 850.8 617.4 848.9 618.1 850.4 618.8 849.4 619.5 849.8 620.2 849.4 620.9 849.4 621.6 849.2 622.3 850.1 623.0 849.0 623.7 850.1 624.4 849.4 625.1 850.4 625.8 849.2 626.5 849.6 627.2 849.4 627.9 850.0 628.6 849.1 629.3 850.5 630.0 849.4 630.7 850.5 631.4 849.0 632.1 849.3 632.8 849.0 633.5 850.9 634.2 849.2 634.9 850.7 635.6 849.5 636.3 849.5 637.0 849.2 637.7 850.0 638.4 848.9 639.1 849.3 639.8 849.4 640.5 850.3 641.2 849.4 641.9 850.4 642.6 849.1 643.3 849.3 644.0 849.0 644.7 850.5 645.4 849.0 646.1 850.5 646.8 849.2 647.5 850.6 648.2 848.9 648.9 849.4 649.6 849.1 650.3 849.5 651.0 849.1 651.7 849.7 652.4 849.1 653.1 851.9 653.8 849.0 654.5 850.7 655.2 849.1 655.9 850.0 656.6 849.1 657.3 849.3 658.0 849.3 658.7 850.1 659.4 849.1 660.1 849.8 660.8 849.2" stroke="#ff0000" stroke-width="3.3"/>
<path d="M154.8 943.9 155.5 944.8 156.2 944.0 156.9 944.6 157.6 943.5 158.3 944.1 159.0 943.1 159.7 943.8 160.4 942.9 161.1 943.7 161.8 942.8 162.5 943.5 163.2 942.9 163.9 943.5 164.6 942.6 165.3 943.9 166.0 942.7 166.7 943.8 167.4 942.9 168.1 943.6 168.8 942.8 169.5 943.4 170.2 942.4 170.9 943.4 171.6 942.7 172.3 943.4 173.0 942.5 173.7 943.2 174.4 941.9 175.1 942.3 175.8 941.3 176.5 942.9 177.2 941.9 177.9 943.3 178.6 942.6 179.3 943.5 180.0 942.4 180.7 943.3 181.4 942.1 182.1 943.1 182.8 941.5 183.5 942.1 184.2 940.9 184.9 941.6 185.6 940.9 186.3 942.1 187.0 940.7 187.7 942.2 188.4 940.9 189.1 942.2 189.8 940.4 190.5 941.8 191.2 940.5 191.9 941.9 192.6 940.6 193.3 941.5 194.0 940.8 194.7 942.0 195.4 940.9 196.1 942.0 196.8 940.8 197.5 941.9 198.2 940.0 198.9 941.1 199.6 939.7 200.3 941.1 201.0 939.8 201.7 940.7 202.4 939.4 203.1 940.6 203.8 940.0 204.5 941.0 205.2 940.1 205.9 941.9 206.6 940.3 207.3 942.0 208.0 939.9 208.7 941.4 209.4 939.6 210.1 941.0 210.8 939.1 211.5 940.7 212.2 939.0 212.9 940.7 213.6 939.4 214.3 940.4 215.0 938.5 215.7 940.1 216.4 938.5 217.1 939.6 217.8 937.7 218.5 939.7 219.2 938.5 219.9 941.1 220.6 939.2 221.3 941.5 222.0 940.0 222.7 941.2 223.4 940.1 224.1 941.0 224.8 938.8 225.5 940.3 226.2 938.5 226.9 939.7 227.6 938.6 228.3 940.0 229.0 937.6 229.7 939.1 230.4 936.7 231.1 938.6 231.8 936.0 232.5 938.0 233.2 936.1 233.9 937.9 234.6 937.0 235.3 938.9 236.0 936.7 236.7 938.1 237.4 935.5 238.1 936.9 238.8 935.6 239.5 937.9 240.2 936.6 240.9 938.7 241.6 937.1 242.3 939.7 243.0 938.0 243.7 940.0 244.4 938.5 245.1 940.4 245.8 937.8 246.5 939.6 247.2 937.8 247.9 939.1 248.6 937.0 249.3 938.3 250.0 935.7 250.7 938.3 251.4 936.2 252.1 938.0 252.8 935.5 253.5 937.9 254.2 935.6 254.9 936.7 255.6 935.0 256.3 936.4 257.0 935.0 257.7 937.2 258.4 934.4 259.1 937.7 259.8 934.7 260.5 937.0 261.2 934.4 261.9 936.8 262.6 935.1 263.3 937.2 264.0 934.8 264.7 935.8 265.4 933.4 266.1 935.2 266.8 932.0 267.5 933.8 268.2 931.3 268.9 933.6 269.6 932.5 270.3 936.0 271.0 933.7 271.7 936.4 272.4 933.2 273.1 936.2 273.8 934.0 274.5 936.1 275.2 932.5 275.9 935.2 276.6 932.7 277.3 934.9 278.0 932.2 278.7 935.0 279.4 933.3 280.1 935.6 280.8 932.7 281.5 935.0 282.2 933.5 282.9 935.5 283.6 932.5 284.3 933.5 285.0 930.1 285.7 932.0 286.4 929.8 287.1 932.7 287.8 931.1 288.5 934.6 289.2 932.2 289.9 933.7 290.6 931.3 291.3 933.1 292.0 930.0 292.7 932.2 293.4 930.0 294.1 932.1 294.8 929.0 295.5 932.7 296.2 930.1 296.9 933.3 297.6 930.5 298.3 932.3 299.0 930.6 299.7 932.0 300.4 928.8 301.1 932.1 301.8 928.7 302.5 932.3 303.2 928.9 303.9 931.5 304.6 929.3 305.3 931.6 306.0 928.1 306.7 931.5 307.4 928.2 308.1 931.4 308.8 928.7 309.5 930.6 310.2 928.3 310.9 930.0 311.6 927.3 312.3 930.5 313.0 926.9 313.7 929.7 314.4 927.5 315.1 929.7 315.8 928.3 316.5 930.2 317.2 927.0 317.9 929.9 318.6 927.5 319.3 929.1 320.0 926.6 320.7 928.4 321.4 926.2 322.1 929.4 322.8 927.3 323.5 931.3 324.2 928.6 324.9 931.9 325.6 928.1 326.3 930.4 327.0 927.9 327.7 930.3 328.4 927.5 329.1 929.6 329.8 927.4 330.5 929.9 331.2 927.7 331.9 930.9 332.6 928.4 333.3 930.6 334.0 927.8 334.7 929.6 335.4 927.5 336.1 930.1 336.8 925.9 337.5 929.2 338.2 926.4 338.9 928.2 339.6 925.5 340.3 928.3 341.0 925.0 341.7 927.3 342.4 923.9 343.1 927.3 343.8 924.4 344.5 928.5 345.2 925.3 345.9 927.9 346.6 925.4 347.3 927.8 348.0 925.4 348.7 928.3 349.4 925.4 350.1 927.5 350.8 924.3 351.5 928.0 352.2 924.0 352.9 926.2 353.6 923.4 354.3 926.0 355.0 922.4 355.7 926.4 356.4 922.6 357.1 926.2 357.8 921.7 358.5 923.8 359.2 920.8 359.9 924.0 360.6 921.0 361.3 924.1 362.0 922.4 362.7 925.2 363.4 922.3 364.1 924.8 364.8 920.5 365.5 923.2 366.2 919.4 366.9 922.3 367.6 920.5 368.3 924.1 369.0 920.3 369.7 924.3 370.4 921.2 371.1 924.4 371.8 921.1 372.5 924.3 373.2 921.0 373.9 924.0 374.6 920.9 375.3 923.6 376.0 920.3 376.7 923.4 377.4 919.7 378.1 923.3 378.8 919.3 379.5 923.9 380.2 920.9 380.9 923.6 381.6 919.0 382.3 922.1 383.0 918.7 383.7 921.2 384.4 916.8 385.1 920.4 385.8 918.4 386.5 920.9 387.2 919.2 387.9 922.2 388.6 919.8 389.3 922.1 390.0 920.4 391.5 916.0 393.0 860.0 394.5 815.0 395.5 813.0 396.0 813.0 396.7 815.3 397.4 812.9 398.1 814.1 398.8 813.1 399.5 814.1 400.2 812.9 400.9 813.2 401.6 813.1 402.3 813.5 403.0 812.8 403.7 813.2 404.4 812.7 405.1 813.9 405.8 812.8 406.5 813.8 407.2 812.9 407.9 813.9 408.6 812.7 409.3 814.3 410.0 813.1 410.7 813.2 411.4 813.3 412.1 813.7 412.8 812.8 413.5 813.1 414.2 812.9 414.9 813.3 415.6 812.8 416.3 813.1 417.0 813.1 417.7 815.0 418.4 812.8 419.1 813.7 419.8 813.1 420.5 814.0 421.2 813.3 421.9 814.0 422.6 813.0 423.3 813.7 424.0 812.9 424.7 813.1 425.4 812.8 426.1 814.0 426.8 812.9 427.5 814.1 428.2 813.3 428.9 813.3 429.6 812.8 430.3 814.3 431.0 813.2 431.7 813.4 432.4 813.0 433.1 813.6 433.8 813.1 434.5 813.7 435.2 813.1 435.9 813.6 436.6 812.9 437.3 813.6 438.0 812.7 438.7 814.4 439.4 813.2 440.1 813.1 440.8 813.0 441.5 814.5 442.2 813.0 442.9 813.9 443.6 813.2 444.3 813.2 445.0 812.9 445.7 813.3 446.4 812.9 447.1 813.3 447.8 812.9 448.5 813.6 449.2 812.8 449.9 814.2 450.6 813.0 451.3 813.1 452.0 813.2 452.7 814.1 453.4 812.9 454.1 813.7 454.8 813.3 455.5 814.4 456.2 813.1 456.9 813.6 457.6 812.7 458.3 814.2 459.0 812.8 459.7 813.3 460.4 813.2 461.1 813.8 461.8 812.9 462.6 813.3 463.3 812.8 464.0 814.3 464.7 813.1 465.4 814.0 466.1 813.0 466.8 813.7 467.5 812.8 468.2 813.3 468.9 812.8 469.6 814.0 470.3 812.9 471.0 814.3 471.7 813.0 472.4 814.9 473.1 812.8 473.8 814.1 474.5 813.0 475.2 814.1 475.9 813.1 476.6 814.3 477.3 813.0 478.0 814.1 478.7 813.2 479.4 813.1 480.1 813.1 480.8 813.7 481.5 813.0 482.2 813.6 482.9 812.7 483.6 813.2 484.3 813.2 485.0 814.0 485.7 812.7 486.4 813.7 487.1 812.9 487.8 813.2 488.5 812.9 489.2 813.5 489.9 813.1 490.6 814.0 491.3 812.9 492.0 814.1 492.7 812.8 493.4 814.6 494.1 812.9 494.8 813.7 495.5 812.9 496.2 814.7 496.9 812.8 497.6 813.4 498.3 812.9 499.0 813.5 499.7 813.1 500.4 813.9 501.1 812.8 501.8 813.5 502.5 813.2 503.2 813.0 503.9 813.2 504.6 813.2 505.3 812.7 506.0 814.5 506.7 813.2 507.4 813.7 508.1 813.2 508.8 813.4 509.5 813.2 510.2 813.5 510.9 812.9 511.6 813.2 512.3 813.3 513.0 813.5 513.7 813.3 514.4 814.2 515.1 812.8 515.8 813.8 516.5 813.0 517.2 813.0 517.9 813.2 518.6 813.3 519.3 812.9 520.0 814.5 520.7 812.8 521.4 813.9 522.1 813.1 522.8 813.1 523.5 812.9 524.2 813.9 524.9 813.0 525.6 813.6 526.3 812.7 527.0 813.6 527.7 813.3 528.4 813.5 529.1 813.1 529.8 813.2 530.5 812.9 531.2 813.3 531.9 813.2 532.6 813.8 533.3 813.1 534.0 813.9 534.7 813.2 535.4 814.1 536.1 813.3 536.8 813.9 537.5 813.3 538.2 814.7 538.9 813.2 539.6 813.7 540.3 812.8 541.0 814.7 541.7 812.9 542.4 813.6 543.1 813.1 543.8 814.8 544.5 813.2 545.2 814.8 545.9 813.1 546.6 814.1 547.3 812.9 548.0 813.3 548.7 813.3 549.4 814.3 550.1 812.8 550.8 813.7 551.5 812.8 552.2 814.8 552.9 813.3 553.6 814.0 554.3 813.2 555.0 815.6 555.7 812.7 556.4 814.3 557.1 812.9 557.8 814.4 558.5 813.1 559.2 813.1 559.9 813.1 560.6 814.2 561.3 813.1 562.0 813.5 562.7 812.9 563.4 813.1 564.1 812.9 564.8 813.6 565.5 813.1 566.2 813.4 566.9 813.0 567.6 814.5 568.3 812.8 569.0 815.0 569.7 813.0 570.4 813.8 571.1 813.2 571.8 813.4 572.5 812.9 573.2 813.1 573.9 813.1 574.6 813.6 575.3 813.0 576.0 814.0 576.7 813.3 577.4 813.1 578.1 812.9 578.8 813.6 579.5 813.0 580.2 814.8 580.9 813.1 581.6 815.6 582.3 813.2 583.0 813.7 583.7 813.2 584.4 814.5 585.1 812.7 585.8 814.0 586.5 813.2 587.2 813.1 587.9 812.9 588.6 814.0 589.3 813.1 590.0 813.9 590.7 813.1 591.4 814.1 592.1 813.2 592.8 814.3 593.5 813.1 594.2 813.4 595.0 813.0 595.7 813.1 596.4 812.8 597.1 814.5 597.8 812.9 598.5 814.1 599.2 813.2 599.9 813.2 600.6 813.0 601.3 814.6 602.0 812.9 602.7 814.2 603.4 812.9 604.1 813.1 604.8 813.0 605.5 813.2 606.2 813.0 606.9 813.5 607.6 812.9 608.3 813.7 609.0 813.0 609.7 813.2 610.4 812.8 611.1 813.2 611.8 813.0 612.5 813.2 613.2 812.8 613.9 814.5 614.6 812.9 615.3 815.2 616.0 813.1 616.7 814.3 617.4 813.0 618.1 813.9 618.8 813.0 619.5 813.9 620.2 813.3 620.9 813.1 621.6 813.2 622.3 814.4 623.0 812.9 623.7 813.5 624.4 813.2 625.1 815.0 625.8 813.1 626.5 813.0 627.2 813.2 627.9 813.8 628.6 812.7 629.3 813.3 630.0 812.8 630.7 813.8 631.4 813.0 632.1 813.4 632.8 813.2 633.5 814.9 634.2 812.7 634.9 813.3 635.6 812.7 636.3 813.2 637.0 813.0 637.7 813.0 638.4 813.0 639.1 814.5 639.8 813.0 640.5 813.3 641.2 813.0 641.9 814.3 642.6 812.8 643.3 814.9 644.0 812.8 644.7 813.6 645.4 813.1 646.1 813.6 646.8 813.1 647.5 814.1 648.2 812.9 648.9 813.9 649.6 813.0 650.3 813.6 651.0 813.0 651.7 813.7 652.4 813.2 653.1 813.8 653.8 812.7 654.5 813.2 655.2 813.2 655.9 813.3 656.6 812.9 657.3 813.6 658.0 813.0 658.7 814.5 659.4 812.8 660.1 813.1 660.8 813.0" stroke="#00ff00" stroke-width="3.3"/>
<path d="M154.8 943.5 155.5 944.3 156.2 943.3 156.9 944.4 157.6 943.5 158.3 944.1 159.0 943.2 159.7 943.9 160.4 942.7 161.1 943.7 161.8 942.9 162.5 943.9 163.2 943.3 163.9 944.2 164.6 942.9 165.3 943.6 166.0 942.5 166.7 942.9 167.4 942.4 168.1 943.2 168.8 942.2 169.5 943.1 170.2 942.3 170.9 943.2 171.6 942.1 172.3 943.0 173.0 941.8 173.7 943.0 174.4 941.4 175.1 942.4 175.8 941.1 176.5 942.4 177.2 941.5 177.9 942.8 178.6 941.9 179.3 942.7 180.0 941.3 180.7 942.2 181.4 940.6 182.1 942.1 182.8 940.5 183.5 942.1 184.2 940.8 184.9 941.7 185.6 940.4 186.3 941.6 187.0 940.4 187.7 941.8 188.4 940.8 189.1 942.2 189.8 940.9 190.5 942.2 191.2 941.0 191.9 942.0 192.6 940.2 193.3 941.5 194.0 940.3 194.7 941.8 195.4 941.1 196.1 942.7 196.8 941.3 197.5 942.5 198.2 940.3 198.9 941.3 199.6 940.1 200.3 941.1 201.0 939.7 201.7 941.5 202.4 939.9 203.1 941.1 203.8 939.8 204.5 941.3 205.2 939.9 205.9 941.2 206.6 939.4 207.3 940.8 208.0 939.3 208.7 940.4 209.4 939.1 210.1 940.3 210.8 938.2 211.5 940.2 212.2 938.7 212.9 940.4 213.6 938.3 214.3 940.5 215.0 938.4 215.7 940.0 216.4 938.9 217.1 940.1 217.8 938.9 218.5 941.1 219.2 939.6 219.9 941.3 220.6 939.8 221.3 940.8 222.0 939.3 222.7 940.0 223.4 938.3 224.1 940.5 224.8 938.1 225.5 940.3 226.2 938.3 226.9 939.0 227.6 936.7 228.3 938.5 229.0 935.7 229.7 937.8 230.4 936.6 231.1 938.5 231.8 937.4 232.5 939.3 233.2 937.1 233.9 938.9 234.6 937.0 235.3 939.0 236.0 937.3 236.7 940.0 237.4 938.8 238.1 940.3 238.8 938.5 239.5 940.1 240.2 938.1 240.9 940.2 241.6 937.8 242.3 939.6 243.0 937.3 243.7 938.3 244.4 936.2 245.1 938.5 245.8 936.2 246.5 939.2 247.2 936.2 247.9 937.9 248.6 936.3 249.3 938.3 250.0 936.0 250.7 938.1 251.4 935.8 252.1 937.5 252.8 935.0 253.5 937.0 254.2 935.0 254.9 936.8 255.6 935.1 256.3 937.3 257.0 934.5 257.7 936.8 258.4 934.1 259.1 936.3 259.8 934.2 260.5 937.5 261.2 935.0 261.9 937.7 262.6 935.3 263.3 937.1 264.0 935.3 264.7 937.7 265.4 935.1 266.1 936.2 266.8 934.8 267.5 936.2 268.2 933.8 268.9 936.5 269.6 935.0 270.3 937.6 271.0 934.0 271.7 935.6 272.4 933.8 273.1 935.1 273.8 932.6 274.5 934.4 275.2 932.7 275.9 935.8 276.6 933.5 277.3 935.6 278.0 932.8 278.7 935.5 279.4 933.3 280.1 935.0 280.8 932.4 281.5 934.1 282.2 931.2 282.9 933.1 283.6 932.0 284.3 934.9 285.0 932.5 285.7 934.9 286.4 932.4 287.1 935.3 287.8 933.1 288.5 935.1 289.2 933.2 289.9 935.2 290.6 933.1 291.3 936.2 292.0 932.6 292.7 934.8 293.4 931.4 294.1 934.1 294.8 932.1 295.5 933.5 296.2 931.9 296.9 934.3 297.6 932.3 298.3 934.2 299.0 931.0 299.7 934.3 300.4 931.2 301.1 932.9 301.8 930.6 302.5 932.0 303.2 928.9 303.9 932.1 304.6 929.1 305.3 932.6 306.0 931.1 306.7 933.0 307.4 930.3 308.1 931.2 308.8 928.2 309.5 931.8 310.2 929.5 310.9 931.6 311.6 929.2 312.3 932.7 313.0 929.6 313.7 933.1 314.4 930.7 315.1 932.9 315.8 929.6 316.5 932.6 317.2 929.5 317.9 931.9 318.6 929.0 319.3 930.9 320.0 928.0 320.7 929.8 321.4 927.1 322.1 930.0 322.8 928.9 323.5 932.1 324.2 930.5 324.9 932.4 325.6 929.2 326.3 932.2 327.0 929.1 327.7 931.4 328.4 929.4 329.1 932.2 329.8 928.7 330.5 931.6 331.2 928.2 331.9 930.6 332.6 927.6 333.3 929.2 334.0 927.4 334.7 929.2 335.4 927.0 336.1 929.2 336.8 927.5 337.5 931.4 338.2 929.1 338.9 932.1 339.6 928.8 340.3 930.6 341.0 927.7 341.7 929.9 342.4 926.9 343.1 928.9 343.8 926.6 344.5 928.1 345.2 925.7 345.9 929.2 346.6 926.1 347.3 928.8 348.0 925.1 348.7 928.9 349.4 927.0 350.1 929.2 350.8 926.7 351.5 928.5 352.2 925.3 352.9 927.2 353.6 924.3 354.3 927.0 355.0 924.2 355.7 926.6 356.4 925.3 357.1 927.1 357.8 924.5 358.5 927.6 359.2 923.4 359.9 927.1 360.6 924.7 361.3 928.8 362.0 926.9 362.7 929.5 363.4 926.1 364.1 928.7 364.8 926.5 365.5 928.7 366.2 925.1 366.9 927.8 367.6 925.0 368.3 927.4 369.0 924.2 369.7 926.5 370.4 924.4 371.1 926.0 371.8 924.0 372.5 925.8 373.2 923.4 373.9 925.8 374.6 923.1 375.3 925.7 376.0 922.4 376.7 924.8 377.4 921.9 378.1 924.8 378.8 922.6 379.5 925.6 380.2 921.6 380.9 925.2 381.6 922.6 382.3 926.2 383.0 924.0 383.7 926.9 384.4 923.7 385.1 925.5 385.8 922.7 386.5 924.6 387.2 921.4 387.9 924.5 388.6 921.5 389.3 924.1 390.0 922.0 390.7 924.4 391.4 921.9 392.1 924.3 392.8 921.1 393.5 925.9 394.2 923.2 394.9 925.2 395.6 921.7 396.3 924.4 397.0 922.3 397.7 925.3 398.4 920.4 399.1 923.2 399.8 919.9 400.5 922.3 401.2 918.8 401.9 920.9 402.6 918.7 403.3 922.4 404.0 919.3 405.0 918.0 407.0 870.0 409.0 802.0 410.0 800.0 410.5 799.6 411.2 800.8 411.9 799.5 412.6 800.1 413.3 799.7 414.0 801.9 414.7 799.7 415.4 799.8 416.1 799.7 416.8 800.6 417.5 799.4 418.2 800.2 418.9 799.8 419.6 800.4 420.3 799.7 421.0 802.0 421.7 799.3 422.4 800.1 423.1 799.5 423.8 800.9 424.5 799.8 425.2 799.7 425.9 799.8 426.6 801.2 427.3 799.4 428.0 800.2 428.7 799.7 429.4 800.4 430.1 799.7 430.8 800.3 431.5 799.4 432.2 800.3 432.9 799.8 433.6 799.8 434.3 799.7 435.0 800.4 435.7 799.7 436.4 800.1 437.1 799.8 437.8 800.5 438.5 799.4 439.2 800.6 439.9 799.3 440.6 799.6 441.3 799.9 442.0 800.0 442.7 799.5 443.4 800.2 444.1 799.6 444.8 800.1 445.5 799.4 446.2 799.6 446.9 799.6 447.6 799.9 448.3 799.8 449.0 801.5 449.7 799.3 450.4 800.0 451.1 799.8 451.8 800.0 452.4 799.5 453.1 800.0 453.8 799.6 454.5 801.2 455.2 799.8 455.9 800.7 456.6 799.3 457.3 799.9 458.0 799.4 458.7 800.5 459.4 799.4 460.1 800.6 460.8 799.5 461.5 799.7 462.2 799.5 462.9 800.9 463.6 799.4 464.3 799.8 465.0 799.6 465.7 801.1 466.4 799.5 467.1 800.3 467.8 799.8 468.5 800.6 469.2 799.7 469.9 800.7 470.6 799.6 471.3 800.3 472.0 799.5 472.7 800.2 473.4 799.4 474.1 800.1 474.8 799.5 475.5 799.7 476.2 799.9 476.9 800.5 477.6 799.6 478.3 800.4 479.0 799.7 479.7 801.2 480.4 799.8 481.1 800.8 481.8 799.4 482.5 799.9 483.2 799.3 483.9 799.8 484.6 799.3 485.3 800.1 486.0 799.5 486.7 800.2 487.4 799.5 488.1 799.8 488.8 799.3 489.5 799.9 490.2 799.8 490.9 800.6 491.6 799.6 492.3 799.6 493.0 799.6 493.7 800.5 494.4 799.8 495.1 800.8 495.8 799.5 496.5 801.2 497.2 799.9 497.9 800.4 498.6 799.4 499.3 801.4 500.0 799.6 500.7 800.4 501.4 799.5 502.1 800.9 502.8 799.9 503.5 800.5 504.2 799.8 504.9 801.3 505.6 799.5 506.3 799.9 507.0 799.7 507.7 800.0 508.4 799.6 509.1 800.3 509.8 799.8 510.5 800.6 511.2 799.9 511.9 800.3 512.6 799.8 513.3 800.9 514.0 799.6 514.7 801.5 515.4 799.7 516.1 801.2 516.8 799.6 517.5 799.8 518.2 799.8 518.9 799.9 519.6 799.8 520.3 802.7 521.0 799.6 521.7 800.4 522.4 799.5 523.1 800.0 523.8 799.7 524.5 801.4 525.2 799.4 525.9 800.3 526.6 799.4 527.3 801.7 528.0 799.4 528.7 800.2 529.4 799.9 530.1 800.5 530.8 799.6 531.5 800.3 532.2 799.8 532.9 801.4 533.6 799.5 534.3 799.9 535.0 799.6 535.6 800.7 536.3 799.7 537.0 800.6 537.7 799.3 538.4 800.9 539.1 799.7 539.8 800.2 540.5 799.6 541.2 801.0 541.9 799.7 542.6 800.2 543.3 799.8 544.0 800.2 544.7 799.7 545.4 800.4 546.1 799.6 546.8 800.3 547.5 799.4 548.2 801.3 548.9 799.6 549.6 799.9 550.3 799.4 551.0 800.3 551.7 799.7 552.4 800.6 553.1 799.4 553.8 800.4 554.5 799.7 555.2 800.2 555.9 799.7 556.6 800.1 557.3 799.7 558.0 800.1 558.7 799.7 559.4 801.0 560.1 799.7 560.8 800.3 561.5 799.7 562.2 800.4 562.9 799.8 563.6 799.8 564.3 799.4 565.0 800.4 565.7 799.8 566.4 800.3 567.1 799.9 567.8 800.1 568.5 799.7 569.2 799.7 569.9 799.5 570.6 800.2 571.3 799.7 572.0 800.1 572.7 799.4 573.4 800.1 574.1 799.5 574.8 800.2 575.5 799.7 576.2 800.1 576.9 799.8 577.6 799.8 578.3 799.3 579.0 800.0 579.7 799.4 580.4 801.6 581.1 799.5 581.8 801.2 582.5 799.6 583.2 799.7 583.9 799.6 584.6 800.7 585.3 799.9 586.0 799.7 586.7 799.6 587.4 800.0 588.1 799.9 588.8 800.0 589.5 799.4 590.2 801.2 590.9 799.5 591.6 800.6 592.3 799.4 593.0 801.1 593.7 799.4 594.4 800.3 595.1 799.6 595.8 800.8 596.5 799.3 597.2 800.2 597.9 799.7 598.6 801.0 599.3 799.4 600.0 799.9 600.7 799.9 601.4 799.8 602.1 799.3 602.8 800.2 603.5 799.8 604.2 800.3 604.9 799.8 605.6 801.0 606.3 799.7 607.0 800.4 607.7 799.5 608.4 800.5 609.1 799.5 609.8 800.0 610.5 799.9 611.2 801.3 611.9 799.5 612.6 800.2 613.3 799.7 614.0 799.9 614.7 799.4 615.4 800.0 616.1 799.5 616.8 800.5 617.5 799.8 618.2 799.7 618.9 799.9 619.5 801.3 620.2 799.8 620.9 800.6 621.6 799.8 622.3 800.9 623.0 799.6 623.7 800.0 624.4 799.7 625.1 800.7 625.8 799.4 626.5 799.6 627.2 799.6 627.9 800.0 628.6 799.8 629.3 800.7 630.0 799.3 630.7 800.4 631.4 799.3 632.1 799.9 632.8 799.6 633.5 799.9 634.2 799.7 634.9 799.8 635.6 799.9 636.3 799.7 637.0 799.8 637.7 799.7 638.4 799.3 639.1 800.5 639.8 799.5 640.5 799.7 641.2 799.6 641.9 800.7 642.6 799.6 643.3 799.7 644.0 799.3 644.7 800.9 645.4 799.9 646.1 800.9 646.8 799.4 647.5 799.9 648.2 799.8 648.9 799.8 649.6 799.7 650.3 801.0 651.0 799.6 651.7 799.7 652.4 799.4 653.1 799.7 653.8 799.4 654.5 800.4 655.2 799.9 655.9 800.0 656.6 799.6 657.3 801.0 658.0 799.7 658.7 800.7 659.4 799.7 660.1 801.2 660.8 799.5" stroke="#0000ff" stroke-width="3.3"/>
<path d="M154.8 944.5 155.5 943.5 156.2 944.3 156.9 943.5 157.6 944.3 158.3 943.2 159.0 944.1 159.7 943.2 160.4 944.1 161.1 942.9 161.8 944.1 162.5 943.1 163.2 944.0 163.9 942.7 164.6 944.2 165.3 942.7 166.0 943.9 166.7 943.0 167.4 943.9 168.1 942.7 168.8 944.1 169.5 942.9 170.2 944.4 170.9 942.8 171.6 944.3 172.3 942.2 173.0 943.6 173.7 942.5 174.4 943.6 175.1 942.2 175.8 943.6 176.5 942.3 177.2 943.3 177.9 942.1 178.6 943.6 179.3 941.9 180.0 943.1 180.7 942.4 181.4 943.8 182.1 942.3 182.8 943.8 183.5 941.8 184.2 943.2 184.9 941.3 185.6 943.2 186.3 941.4 187.0 942.6 187.7 941.1 188.4 943.3 189.1 941.9 189.8 943.3 190.5 941.9 191.2 943.3 191.9 941.7 192.6 943.5 193.3 941.6 194.0 943.5 194.7 940.7 195.4 942.7 196.1 940.4 196.8 941.8 197.5 941.0 198.2 942.5 198.9 941.4 199.6 943.3 200.2 941.8 200.9 943.4 201.6 941.4 202.3 942.4 203.0 940.4 203.7 943.0 204.4 940.6 205.1 942.6 205.8 940.6 206.5 943.1 207.2 941.1 207.9 942.1 208.6 940.5 209.3 942.0 210.0 940.8 210.7 943.2 211.4 941.5 212.1 942.4 212.8 941.0 213.5 941.7 214.2 940.2 214.9 941.7 215.6 939.0 216.3 941.0 217.0 938.8 217.7 941.7 218.4 939.1 219.1 941.5 219.8 939.6 220.5 941.9 221.2 940.1 221.9 942.0 222.6 939.6 223.3 942.7 224.0 940.6 224.7 941.8 225.4 940.0 226.1 941.0 226.8 938.9 227.5 941.7 228.2 939.0 228.9 941.2 229.6 939.3 230.3 941.9 231.0 939.3 231.7 942.7 232.4 939.7 233.1 941.4 233.8 939.4 234.5 940.3 235.2 937.3 235.9 940.5 236.6 938.1 237.3 940.3 238.0 939.4 238.7 942.5 239.4 939.1 240.1 941.9 240.8 938.9 241.5 941.5 242.2 939.2 242.9 941.2 243.6 937.4 244.3 939.5 245.0 937.8 245.7 939.9 246.4 937.3 247.1 940.6 247.8 937.2 248.5 940.2 249.2 937.7 249.9 939.4 250.6 937.4 251.3 939.1 252.0 937.4 252.7 940.0 253.4 938.0 254.1 940.2 254.8 936.7 255.5 939.8 256.2 936.1 256.9 939.2 257.6 937.1 258.3 939.9 259.0 936.9 259.7 940.5 260.4 937.6 261.1 939.9 261.8 937.9 262.5 941.0 263.2 937.0 263.9 939.3 264.6 934.9 265.3 937.2 266.0 934.1 266.7 937.2 267.4 935.1 268.1 939.0 268.8 936.1 269.5 938.9 270.2 936.1 270.9 939.1 271.6 936.1 272.3 937.4 273.0 934.8 273.7 938.2 274.4 934.3 275.1 938.1 275.8 934.5 276.5 938.3 277.2 936.1 277.9 938.2 278.6 935.0 279.3 937.6 280.0 935.1 280.7 937.3 281.4 933.9 282.1 937.3 282.8 933.3 283.5 935.3 284.2 932.3 284.9 935.7 285.6 932.8 286.3 935.9 287.0 934.3 287.7 937.5 288.4 934.1 289.1 936.7 289.7 934.1 290.4 936.0 291.1 932.9 291.8 935.8 292.5 933.2 293.2 935.6 293.9 932.0 294.6 935.1 295.3 932.7 296.0 936.3 296.7 933.6 297.4 938.5 298.1 936.1 298.8 939.2 299.5 935.5 300.2 937.5 300.9 935.5 301.6 937.5 302.3 933.9 303.0 937.5 303.7 934.0 304.4 937.6 305.1 934.0 305.8 936.4 306.5 933.3 307.2 935.6 307.9 932.3 308.6 934.0 309.3 931.2 310.0 933.6 310.7 930.5 311.4 933.8 312.1 931.4 312.8 934.6 313.5 932.5 314.2 935.7 314.9 931.9 315.6 935.6 316.3 932.3 317.0 934.7 317.7 931.3 318.4 934.7 319.1 931.8 319.8 933.5 320.5 931.5 321.2 934.2 321.9 931.1 322.6 933.7 323.3 930.3 324.0 935.1 324.7 931.2 325.4 934.2 326.1 932.3 326.8 936.4 327.5 933.6 328.2 937.4 328.9 933.7 329.6 936.3 330.3 931.5 331.0 933.6 331.7 931.6 332.4 934.4 333.1 930.4 333.8 934.5 334.5 929.9 335.2 932.6 335.9 929.0 336.6 931.8 337.3 929.7 338.0 932.2 338.7 930.1 339.4 933.7 340.1 931.1 340.8 935.2 341.5 931.3 342.2 932.8 342.9 930.0 343.6 933.6 344.3 928.8 345.0 932.9 345.7 928.8 346.4 932.0 347.1 928.0 347.8 932.2 348.5 928.0 349.2 931.4 349.9 928.6 350.6 931.6 351.3 928.6 352.0 930.6 352.7 928.4 353.4 931.5 354.1 928.1 354.8 931.6 355.5 927.9 356.2 931.7 356.9 929.0 357.6 933.9 358.3 930.7 359.0 932.8 359.7 929.1 360.4 931.6 361.1 927.8 361.8 931.2 362.5 927.0 363.2 930.5 363.9 928.4 364.6 931.4 365.3 926.6 366.0 931.1 366.7 925.4 367.4 928.7 368.1 926.5 368.8 929.3 369.5 926.6 370.2 930.0 370.9 926.1 371.6 928.7 372.3 924.4 373.0 927.3 373.7 924.8 374.4 928.4 375.1 926.7 375.8 930.4 376.5 927.6 377.2 929.7 377.9 927.0 378.6 928.7 379.2 924.5 379.9 928.9 380.6 925.5 381.3 929.3 382.0 925.5 382.7 928.9 383.4 926.5 384.1 929.7 384.8 924.7 385.5 929.5 386.2 924.8 386.9 930.2 387.6 926.4 388.3 929.7 389.0 925.8 389.7 929.1 390.4 926.0 391.1 928.3 391.8 924.3 392.5 927.9 393.2 925.7 393.9 928.9 394.6 923.5 395.3 927.9 396.0 921.9 396.7 926.3 397.4 921.1 398.1 924.5 398.8 921.8 399.5 925.0 400.2 920.8 400.9 924.5 401.6 920.7 402.3 925.8 403.0 922.1 403.7 924.8 404.4 921.6 405.1 924.0 405.8 921.0 406.5 923.8 407.2 919.8 407.9 923.8 408.6 920.5 409.3 924.2 410.0 921.7 410.7 925.6 411.4 922.0 412.1 926.2 412.8 923.0 413.5 925.1 414.2 921.2 414.9 924.7 415.6 920.6 416.3 924.8 417.0 920.1 417.7 923.6 418.4 919.7 419.1 922.8 419.8 918.9 420.5 923.0 421.2 917.6 421.9 921.2 422.6 918.2 423.3 921.4 424.0 917.9 425.5 917.0 427.0 905.0 428.5 915.0 430.0 900.0 431.2 889.0 432.5 905.0 433.8 895.0 434.5 860.0 435.8 800.0 436.8 762.0 437.2 762.7 437.9 759.7 438.6 760.3 439.3 760.0 440.0 761.3 440.7 759.5 441.4 760.6 442.1 759.6 442.8 761.0 443.5 759.5 444.2 760.3 444.9 760.0 445.6 759.9 446.3 759.9 447.0 760.7 447.7 759.9 448.4 760.8 449.1 759.5 449.8 760.6 450.5 759.9 451.2 761.1 451.9 759.6 452.6 761.5 453.3 759.7 454.0 760.1 454.7 760.0 455.4 760.7 456.1 760.0 456.8 760.3 457.5 759.5 458.2 759.8 458.9 759.5 459.6 760.1 460.3 759.9 461.0 759.9 461.7 760.0 462.4 762.8 463.1 759.5 463.8 760.0 464.5 759.6 465.2 760.6 465.9 759.5 466.6 762.1 467.3 759.6 468.0 760.3 468.7 759.7 469.4 760.1 470.1 759.6 470.8 761.3 471.5 759.7 472.2 759.8 472.9 759.8 473.6 759.9 474.3 759.7 475.1 759.6 475.8 759.6 476.5 759.6 477.2 759.9 477.9 761.1 478.6 759.9 479.3 759.7 480.0 759.5 480.7 760.1 481.4 759.5 482.1 760.9 482.8 759.6 483.5 760.0 484.2 759.9 484.9 759.9 485.6 759.8 486.3 760.4 487.0 759.6 487.7 761.1 488.4 759.8 489.1 760.3 489.8 759.5 490.5 760.3 491.2 759.8 491.9 760.6 492.6 759.6 493.3 760.2 494.0 759.7 494.7 762.4 495.4 759.5 496.1 759.7 496.8 759.8 497.5 760.4 498.2 759.3 498.9 761.0 499.6 759.4 500.3 761.2 501.0 759.2 501.7 760.2 502.4 759.3 503.1 759.9 503.8 759.7 504.5 762.0 505.2 759.6 505.9 761.0 506.6 759.6 507.3 763.4 508.0 759.2 508.7 759.6 509.4 759.2 510.1 759.7 510.8 759.6 511.5 760.0 512.2 759.3 512.9 761.6 513.6 759.5 514.3 760.9 515.0 759.6 515.7 760.3 516.4 759.7 517.1 761.3 517.8 759.6 518.5 762.6 519.2 759.3 519.9 761.2 520.6 759.2 521.3 760.1 522.0 759.7 522.7 759.8 523.4 759.2 524.1 759.4 524.8 759.7 525.5 759.5 526.2 759.2 526.9 760.5 527.6 759.0 528.3 761.1 529.0 759.2 529.7 761.1 530.4 759.1 531.1 759.4 531.8 759.2 532.5 759.7 533.2 759.0 533.9 759.5 534.6 759.4 535.3 760.9 536.0 759.1 536.7 760.4 537.4 759.6 538.1 759.9 538.8 759.4 539.5 761.1 540.2 759.4 540.9 761.7 541.6 759.6 542.3 763.4 543.0 759.3 543.7 761.0 544.4 759.6 545.1 760.2 545.8 759.5 546.5 759.8 547.2 759.5 547.9 760.3 548.6 759.0 549.4 761.3 550.1 759.0 550.8 759.7 551.5 759.5 552.2 760.1 552.9 758.9 553.6 760.5 554.3 759.1 555.0 759.2 555.7 759.0 556.4 760.2 557.1 759.5 557.8 760.3 558.5 759.3 559.2 761.1 559.9 759.2 560.6 759.4 561.3 759.0 562.0 761.3 562.7 759.2 563.4 761.1 564.1 758.9 564.8 760.0 565.5 758.9 566.2 760.4 566.9 759.0 567.6 759.8 568.3 758.9 569.0 759.3 569.7 759.2 570.4 759.2 571.1 759.2 571.8 759.6 572.5 759.2 573.2 760.2 573.9 759.3 574.6 759.6 575.3 759.5 576.0 759.8 576.7 758.9 577.4 760.2 578.1 759.1 578.8 759.2 579.5 759.3 580.2 759.4 580.9 759.0 581.6 759.3 582.3 758.9 583.0 760.7 583.7 759.0 584.4 760.1 585.1 759.4 585.8 759.6 586.5 759.3 587.2 761.9 587.9 759.4 588.6 760.6 589.3 759.0 590.0 759.9 590.7 758.8 591.4 760.9 592.1 759.3 592.8 759.4 593.5 759.1 594.2 759.3 594.9 758.9 595.6 760.7 596.3 759.0 597.0 759.5 597.7 759.2 598.4 760.9 599.1 758.7 599.8 759.3 600.5 759.0 601.2 759.6 601.9 758.7 602.6 760.1 603.3 758.7 604.0 759.9 604.7 758.8 605.4 759.2 606.1 759.1 606.8 759.3 607.5 758.8 608.2 759.3 608.9 758.7 609.6 760.3 610.3 759.1 611.0 760.6 611.7 759.2 612.4 759.3 613.1 758.7 613.8 759.1 614.5 759.3 615.2 759.8 615.9 759.1 616.6 760.1 617.3 759.2 618.0 759.1 618.7 758.6 619.4 759.9 620.1 759.0 620.8 759.3 621.5 758.7 622.2 759.4 622.9 759.0 623.7 759.2 624.4 759.0 625.1 760.4 625.8 758.9 626.5 759.1 627.2 758.8 627.9 759.0 628.6 759.2 629.3 760.2 630.0 759.2 630.7 759.1 631.4 758.8 632.1 759.4 632.8 759.1 633.5 759.3 634.2 759.1 634.9 760.1 635.6 758.7 636.3 758.9 637.0 758.5 637.7 758.8 638.4 759.0 639.1 761.1 639.8 758.7 640.5 760.9 641.2 758.4 641.9 758.9 642.6 759.1 643.3 760.1 644.0 758.9 644.7 759.4 645.4 759.0 646.1 759.5 646.8 758.5 647.5 760.5 648.2 758.5 648.9 759.9 649.6 758.8 650.3 759.9 651.0 759.0 651.7 759.2 652.4 759.0 653.1 759.6 653.8 758.4 654.5 759.4 655.2 759.0 655.9 758.8 656.6 758.8 657.3 759.7 658.0 758.7 658.7 760.5 659.4 758.6 660.1 759.6 660.8 758.6" stroke="#ffa500" stroke-width="3.0"/>
<path d="M154.8 942.3 155.5 942.8 156.2 942.4 156.9 942.9 157.6 942.4 158.3 942.7 159.0 942.3 159.7 942.7 160.4 942.4 161.1 942.6 161.8 942.3 162.5 942.5 163.2 942.3 163.9 942.5 164.6 942.3 165.3 942.4 166.0 942.3 166.7 942.3 167.4 942.3 168.1 942.3 168.8 942.3 169.5 942.2 170.2 942.3 170.9 942.2 171.6 942.3 172.3 942.1 173.0 942.3 173.7 942.0 174.4 942.3 175.1 942.0 175.8 942.3 176.5 941.9 177.2 942.2 177.9 941.8 178.6 942.3 179.3 941.7 180.0 942.3 180.7 941.7 181.4 942.2 182.1 941.5 182.8 942.2 183.5 941.4 184.2 942.3 184.9 941.4 185.6 942.2 186.3 941.4 187.0 942.1 187.7 941.3 188.4 942.2 189.1 941.3 189.8 942.3 190.5 941.2 191.2 942.3 191.9 941.2 192.6 942.1 193.3 941.2 194.0 942.1 194.7 941.3 195.4 942.2 196.1 940.9 196.8 942.0 197.5 940.8 198.2 942.3 198.9 941.1 199.6 942.2 200.3 941.0 201.0 942.0 201.7 940.5 202.4 942.2 203.1 940.4 203.8 942.0 204.5 940.6 205.2 942.0 205.9 940.4 206.6 942.1 207.3 940.2 208.0 941.9 208.7 940.3 209.4 942.2 210.1 940.5 210.8 941.8 211.5 940.4 212.2 942.3 212.9 940.1 213.6 941.9 214.3 939.9 215.0 941.9 215.7 940.1 216.4 941.8 217.1 940.2 217.8 942.2 218.5 939.9 219.2 941.9 219.9 940.1 220.6 942.3 221.3 939.7 222.0 942.1 222.7 939.7 223.4 941.9 224.1 939.3 224.8 941.9 225.5 939.4 226.2 942.2 226.9 939.3 227.6 942.1 228.3 939.9 229.0 942.2 229.7 939.7 230.4 941.6 231.1 939.5 231.8 942.2 232.5 939.0 233.2 942.1 233.9 939.4 234.6 942.1 235.3 939.5 236.0 942.1 236.7 939.0 237.4 941.6 238.1 938.7 238.8 941.9 239.5 938.5 240.2 942.1 240.9 939.1 241.6 941.8 242.3 938.9 243.0 942.3 243.7 938.5 244.5 941.8 245.2 939.1 245.9 941.5 246.6 938.3 247.3 941.8 248.0 939.2 248.7 941.6 249.4 938.1 250.1 941.5 250.8 938.7 251.5 941.7 252.2 938.6 252.9 942.2 253.6 938.9 254.3 941.8 255.0 939.1 255.7 941.8 256.4 938.7 257.1 941.5 257.8 939.0 258.5 941.4 259.2 938.8 259.9 942.3 260.6 938.2 261.3 941.4 262.0 938.0 262.7 941.6 263.4 938.5 264.1 942.0 264.8 937.4 265.5 941.7 266.2 938.3 266.9 941.7 267.6 937.5 268.3 942.2 269.0 938.2 269.7 941.9 270.4 937.1 271.1 941.3 271.8 938.6 272.5 941.5 273.2 937.4 273.9 941.4 274.6 937.8 275.3 941.7 276.0 937.8 276.7 941.5 277.4 937.3 278.1 941.4 278.8 937.8 279.5 942.1 280.2 937.9 280.9 941.4 281.6 937.1 282.3 941.2 283.0 937.2 283.7 941.4 284.4 936.4 285.1 941.6 285.8 937.6 286.5 941.7 287.2 937.1 287.9 941.6 288.6 937.1 289.3 942.0 290.0 937.0 290.7 941.2 291.4 937.5 292.1 941.7 292.8 936.2 293.5 942.1 294.2 937.7 294.9 941.2 295.6 937.0 296.3 942.3 297.0 937.7 297.7 942.0 298.4 937.5 299.1 941.5 299.8 937.7 300.5 941.9 301.2 935.7 301.9 942.3 302.6 936.7 303.3 941.6 304.0 936.2 304.7 942.2 305.4 936.8 306.1 941.7 306.8 936.4 307.5 942.1 308.2 937.3 308.9 941.0 309.6 936.2 310.3 941.3 311.0 936.4 311.7 940.9 312.4 937.3 313.1 942.0 313.8 937.1 314.5 941.8 315.2 937.2 315.9 941.4 316.6 936.8 317.3 941.1 318.0 937.1 318.7 940.9 319.4 936.1 320.1 941.3 320.8 935.2 321.5 941.2 322.2 935.9 322.9 942.1 323.6 934.7 324.3 942.0 325.0 935.6 325.7 941.1 326.4 936.0 327.1 942.0 327.8 935.3 328.5 941.9 329.2 934.7 329.9 941.5 330.6 936.4 331.3 941.7 332.0 936.1 332.7 941.7 333.4 935.2 334.1 941.2 334.8 934.0 335.5 941.8 336.2 935.3 336.9 941.5 337.6 933.5 338.3 942.2 339.0 933.9 339.7 940.9 340.4 933.1 341.1 942.2 341.8 933.0 342.5 941.0 343.2 935.6 343.9 941.9 344.6 933.2 345.3 941.8 346.0 933.6 346.7 942.0 347.4 933.0 348.1 942.0 348.8 934.9 349.5 941.9 350.2 934.8 350.9 940.8 351.6 934.1 352.3 940.4 353.0 933.7 353.7 941.9 354.4 933.6 355.1 940.7 355.8 934.3 356.5 942.0 357.2 932.5 357.9 941.7 358.6 933.2 359.3 941.8 360.0 933.8 360.7 940.0 361.4 931.9 362.1 940.8 362.8 932.1 363.5 942.0 364.2 930.6 364.9 941.6 365.6 930.9 366.3 941.4 367.0 932.2 367.7 940.4 368.4 932.2 369.1 940.9 369.8 930.4 370.5 939.9 371.2 932.8 371.9 942.2 372.6 931.3 373.3 939.8 374.0 929.6 374.7 940.2 375.4 929.7 376.1 940.8 376.8 931.3 377.5 940.3 378.2 931.1 378.9 942.3 379.6 929.7 380.3 941.4 381.0 930.9 381.7 941.5 382.4 928.6 383.1 940.6 383.8 931.5 384.5 940.3 385.2 929.5 385.9 942.0 386.6 932.2 387.3 940.1 388.0 932.1 388.7 941.7 389.4 931.4 390.1 940.0 390.8 927.7 391.5 940.6 392.2 928.0 392.9 941.3 393.6 930.1 394.3 939.7 395.0 931.5 395.7 939.9 396.4 930.7 397.1 939.5 397.8 931.0 398.5 940.6 399.2 928.9 399.9 939.3 400.6 930.1 401.3 939.3 402.0 928.6 402.7 941.8 403.4 927.7 404.1 940.4 404.8 926.6 405.5 939.1 406.2 928.8 406.9 941.7 407.6 926.8 408.3 939.6 409.0 927.9 409.7 941.7 410.4 926.9 411.1 940.8 411.8 929.4 412.5 939.6 413.2 926.0 413.9 941.5 414.6 928.1 415.3 942.2 416.0 925.9 416.7 939.9 417.4 927.0 418.1 940.4 418.8 927.7 419.5 939.5 420.2 926.3 420.9 941.3 421.6 926.7 422.3 940.1 423.1 925.2 423.8 941.1 424.5 927.4 425.2 941.3 425.9 929.2 426.6 942.1 427.3 928.1 428.0 940.4 428.7 927.9 429.4 939.3 430.1 926.0 430.8 940.8 431.5 928.4 432.2 939.0 432.9 927.6 433.6 939.5 434.3 924.9 435.0 938.9 435.7 927.9 436.4 940.8 437.1 927.0 437.8 941.4 438.5 927.3 439.2 939.5 439.9 927.0 440.6 941.7 441.3 928.5 442.0 941.8 442.7 927.5 443.4 940.2 444.1 927.8 444.8 938.7 445.5 928.8 446.2 938.6 446.9 925.4 447.6 940.9 448.3 928.7 449.0 939.0 449.7 923.2 450.4 938.4 451.1 923.2 451.8 939.4 452.5 926.9 453.2 942.2 453.9 926.3 454.6 939.5 455.3 923.6 456.0 939.4 456.7 925.7 457.4 941.7 458.1 924.3 458.8 941.1 459.5 922.3 460.2 940.7 460.9 927.5 461.6 940.3 462.3 923.9 463.0 940.9 463.7 927.5 464.4 941.1 465.1 922.8 465.8 938.4 466.5 923.6 467.2 942.3 467.9 923.0 468.6 938.5 469.3 926.5 470.0 939.7 470.7 924.0 471.4 940.3 472.1 920.9 472.8 938.2 473.5 925.7 474.2 939.3 474.9 921.2 475.6 938.2 476.3 922.2 477.0 938.2 477.7 922.0 478.4 939.2 479.1 923.5 479.8 938.6 480.5 923.9 481.2 939.8 481.9 922.1 482.6 939.4 483.3 924.9 484.0 940.7 484.7 921.7 485.4 941.1 486.1 924.9 486.8 939.5 487.5 924.1 488.2 941.4 488.9 920.9 489.6 939.8 490.3 921.8 491.0 940.1 491.7 921.5 492.4 938.4 493.1 920.6 493.8 939.5 494.5 921.1 495.2 937.4 495.9 923.2 496.6 941.3 497.3 917.8 498.0 940.2 498.7 917.7 499.4 940.2 500.1 923.5 500.8 938.6 501.5 919.2 502.2 940.6 502.9 921.0 503.6 939.8 504.3 921.4 505.0 939.4 505.7 917.6 506.4 942.3 507.1 916.9 507.8 941.4 508.5 920.9 509.2 941.4 509.9 919.4 510.6 938.9 511.3 920.5 512.0 939.2 512.8 930.0 513.3 800.0 513.8 640.0 514.3 637.8 515.0 637.5 515.7 638.9 516.4 637.4 517.1 638.5 517.8 637.1 518.5 638.6 519.2 637.4 519.9 638.0 520.6 637.4 521.3 638.7 522.0 637.6 522.7 637.5 523.4 637.0 524.1 638.9 524.8 637.6 525.5 638.4 526.2 637.1 526.9 637.4 527.6 637.2 528.3 638.5 529.0 637.4 529.7 637.8 530.4 637.2 531.1 638.2 531.8 637.4 532.5 637.7 533.2 637.3 533.9 637.6 534.6 637.2 535.3 637.4 536.0 637.4 536.7 638.2 537.4 637.3 538.1 637.6 538.8 637.1 539.5 637.8 540.2 637.2 540.9 637.6 541.6 637.4 542.3 638.8 543.0 637.5 543.7 637.7 544.4 637.1 545.1 637.3 545.8 636.9 546.5 637.5 547.2 637.3 547.9 638.9 548.6 637.2 549.3 638.5 550.0 636.9 550.7 637.4 551.5 637.3 552.2 638.1 552.9 637.4 553.6 637.5 554.3 637.3 555.0 637.2 555.7 637.3 556.4 638.8 557.1 636.8 557.8 639.4 558.5 637.3 559.2 637.1 559.9 637.3 560.6 637.8 561.3 637.2 562.0 638.3 562.7 637.4 563.4 637.6 564.1 636.9 564.8 637.7 565.5 637.1 566.2 637.7 566.9 637.1 567.6 637.4 568.3 637.1 569.0 637.4 569.7 636.7 570.4 637.3 571.1 637.0 571.8 637.3 572.5 636.9 573.2 637.2 573.9 637.3 574.6 638.8 575.3 637.3 576.0 638.4 576.7 637.0 577.4 639.0 578.1 636.6 578.8 637.5 579.5 637.2 580.2 637.0 580.9 636.8 581.6 637.6 582.3 636.8 583.0 637.4 583.7 637.0 584.4 637.5 585.1 636.9 585.8 637.6 586.5 637.2 587.2 637.5 587.9 636.8 588.6 637.9 589.3 637.0 590.0 637.3 590.7 637.1 591.4 638.1 592.1 637.2 592.8 637.1 593.5 636.8 594.2 638.6 594.9 637.0 595.6 637.3 596.3 636.8 597.0 636.8 597.7 637.1 598.4 638.0 599.1 636.6 599.8 638.4 600.5 636.8 601.2 637.0 601.9 636.5 602.6 638.4 603.3 636.8 604.0 637.1 604.7 636.7 605.4 637.7 606.1 636.5 606.8 638.1 607.5 636.5 608.2 636.9 608.9 636.9 609.6 637.1 610.3 637.0 611.0 638.3 611.7 636.9 612.4 637.7 613.1 636.5 613.8 637.6 614.5 637.0 615.2 636.7 615.9 636.8 616.6 637.9 617.3 636.8 618.0 636.8 618.7 636.4 619.4 636.7 620.1 636.5 620.8 637.0 621.5 636.9 622.2 637.3 622.9 636.5 623.6 637.0 624.4 636.6 625.1 637.8 625.8 636.4 626.5 636.9 627.2 636.6 627.9 636.9 628.6 636.8 629.3 637.7 630.0 636.7 630.7 638.4 631.4 636.7 632.1 637.2 632.8 636.6 633.5 637.4 634.2 636.9 634.9 637.0 635.6 636.8 636.3 637.3 637.0 636.9 637.7 637.1 638.4 636.5 639.1 637.2 639.8 636.3 640.5 637.0 641.2 636.5 641.9 637.8 642.6 636.5 643.3 637.0 644.0 636.8 644.7 638.3 645.4 636.8 646.1 636.8 646.8 636.5 647.5 637.3 648.2 636.4 648.9 639.1 649.6 636.6 650.3 637.5 651.0 636.5 651.7 637.4 652.4 636.3 653.1 639.4 653.8 636.4 654.5 638.0 655.2 636.4 655.9 637.5 656.6 636.2 657.3 636.6 658.0 636.3 658.7 637.1 659.4 636.7 660.1 636.5 660.8 636.5" stroke="#ff00ff" stroke-width="3.0"/>
</g>
<path d="M154.8 945h24M660.8 945h-24M154.8 848.75h24M660.8 848.75h-24M154.8 752.5h24M660.8 752.5h-24M154.8 656.25h24M660.8 656.25h-24M154.8 560h24M660.8 560h-24M154.8 896.88h12M660.8 896.88h-12M154.8 800.62h12M660.8 800.62h-12M154.8 704.38h12M660.8 704.38h-12M154.8 608.12h12M660.8 608.12h-12M154.8 945v-24M154.8 560v24M323.47 945v-24M323.47 560v24M492.13 945v-24M492.13 560v24M660.8 945v-24M660.8 560v24M239.13 945v-12M239.13 560v12M407.8 945v-12M407.8 560v12M576.47 945v-12M576.47 560v12" stroke="#000" stroke-width="2" fill="none"/>
<rect x="154.8" y="560" width="506" height="385" fill="none" stroke="#000" stroke-width="3.5"/>
<text x="143.4" y="958.1" text-anchor="end" font-size="40">0</text>
<text x="143.4" y="861.85" text-anchor="end" font-size="40">100</text>
<text x="143.4" y="765.6" text-anchor="end" font-size="40">200</text>
<text x="143.4" y="669.35" text-anchor="end" font-size="40">300</text>
<text x="143.4" y="573.1" text-anchor="end" font-size="40">400</text>
<text x="154.8" y="984.5" text-anchor="middle" font-size="40">0</text>
<text x="323.47" y="984.5" text-anchor="middle" font-size="40">1</text>
<text x="492.13" y="984.5" text-anchor="middle" font-size="40">2</text>
<text x="660.8" y="984.5" text-anchor="middle" font-size="40">3</text>
<text x="407.8" y="1029.9" text-anchor="middle" font-size="48.5">Time (ns)</text>
<text transform="translate(62.7 752.5) rotate(-90)" x="0" y="0" text-anchor="middle" font-size="48.5">Work (kcal/mol)</text>
<clipPath id="c2"><rect x="124.25" y="1117.9" width="504.15" height="382.90"/></clipPath><g clip-path="url(#c2)" fill="none" stroke-linejoin="round">
<path d="M124.2 1500.3 124.8 1492.5 125.4 1498.3 126.0 1493.5 126.6 1497.4 127.2 1493.0 127.8 1498.8 128.4 1491.7 129.0 1498.8 129.6 1493.3 130.2 1500.8 130.8 1494.0 131.4 1501.2 132.0 1495.0 132.6 1500.3 133.2 1493.9 133.8 1501.3 134.4 1491.3 135.0 1494.8 135.6 1488.7 136.2 1492.8 136.8 1486.0 137.4 1492.5 138.0 1485.7 138.6 1490.6 139.2 1484.6 139.8 1488.6 140.4 1482.4 141.0 1487.5 141.6 1482.2 142.2 1487.9 142.8 1483.4 143.4 1487.1 144.0 1483.8 144.6 1490.7 145.2 1484.3 145.8 1489.9 146.4 1483.7 147.0 1489.0 147.6 1482.7 148.2 1489.3 148.8 1485.0 149.4 1490.5 150.0 1488.6 150.6 1495.8 151.2 1492.2 151.8 1496.4 152.4 1485.8 153.0 1490.3 153.6 1481.8 154.2 1484.8 154.8 1480.1 155.4 1489.1 156.0 1484.6 156.6 1489.5 157.2 1485.5 157.8 1490.6 158.4 1483.9 159.0 1491.2 159.6 1482.3 160.2 1490.1 160.8 1484.0 161.4 1490.1 162.0 1484.9 162.6 1489.8 163.2 1480.5 163.8 1484.7 164.4 1478.1 165.0 1481.7 165.6 1477.5 166.2 1481.6 166.8 1476.4 167.4 1482.3 168.0 1476.6 168.6 1485.2 169.2 1479.4 169.8 1484.9 170.4 1478.7 171.0 1485.7 171.6 1479.0 172.2 1485.0 172.8 1481.5 173.4 1484.2 174.0 1480.1 174.6 1486.5 175.2 1479.4 175.8 1486.4 176.4 1480.4 177.0 1486.8 177.6 1481.1 178.2 1487.8 178.8 1483.9 179.4 1486.8 180.0 1481.0 180.6 1487.3 181.2 1481.8 181.8 1488.8 182.4 1480.7 183.0 1488.4 183.6 1480.9 184.2 1487.0 184.8 1481.7 185.4 1486.2 186.0 1480.0 186.6 1482.4 187.2 1477.5 187.8 1482.1 188.4 1477.5 189.0 1483.0 189.6 1478.7 190.2 1482.9 190.8 1475.5 191.4 1482.6 192.0 1477.1 192.6 1483.1 193.2 1476.1 193.8 1481.1 194.4 1476.1 195.0 1483.7 195.6 1478.6 196.2 1485.1 196.8 1479.6 197.4 1486.6 198.0 1480.7 198.6 1489.1 199.2 1483.5 199.8 1488.9 200.4 1480.9 201.0 1483.2 201.6 1477.7 202.2 1481.3 202.8 1477.0 203.4 1484.5 204.0 1476.4 204.6 1483.8 205.2 1478.4 205.8 1482.2 206.4 1477.8 207.0 1481.2 207.6 1477.0 208.2 1480.3 208.8 1475.3 209.4 1480.0 210.0 1474.9 210.6 1479.8 211.2 1472.6 211.8 1477.2 212.4 1472.0 213.0 1476.6 213.6 1470.4 214.2 1476.1 214.8 1468.7 215.4 1471.0 216.0 1465.3 216.6 1467.7 217.2 1461.4 217.8 1469.9 218.4 1462.0 219.0 1470.9 219.6 1463.8 220.2 1468.7 220.8 1462.1 221.4 1468.7 222.0 1460.3 222.6 1466.6 223.2 1459.9 223.8 1466.1 224.4 1460.3 225.0 1464.6 225.6 1458.4 226.2 1466.4 226.8 1461.0 227.4 1468.4 228.0 1461.6 228.6 1469.3 229.2 1463.3 229.8 1467.4 230.4 1460.1 231.0 1466.6 231.6 1458.9 232.2 1465.5 232.8 1457.0 233.4 1464.6 234.0 1456.2 234.6 1462.5 235.2 1456.9 235.8 1462.8 236.4 1455.1 237.0 1463.0 237.6 1455.8 238.2 1462.1 238.8 1457.6 239.4 1463.2 240.0 1456.9 240.6 1465.5 241.2 1456.7 241.8 1462.0 242.4 1455.7 243.0 1460.8 243.6 1455.4 244.2 1460.9 244.8 1457.4 245.4 1461.9 246.0 1459.9 246.6 1466.5 247.2 1458.6 247.8 1465.5 248.4 1458.1 249.0 1465.0 249.6 1458.8 250.2 1464.1 250.8 1456.9 251.4 1464.9 252.0 1458.1 252.6 1464.3 253.2 1457.8 253.8 1464.9 254.4 1457.7 255.0 1465.2 255.6 1457.4 256.2 1462.8 256.8 1458.0 257.4 1462.5 258.0 1458.3 258.6 1461.1 259.2 1457.7 259.8 1462.6 260.4 1457.6 261.0 1463.5 261.6 1458.2 262.2 1463.5 262.8 1455.9 263.4 1459.8 264.0 1454.1 264.6 1457.6 265.2 1454.0 265.8 1457.1 266.4 1452.0 267.0 1458.6 267.6 1453.3 268.2 1458.9 268.8 1451.0 269.4 1457.4 270.0 1449.8 270.6 1455.0 271.2 1449.5 271.8 1456.4 272.4 1451.5 273.0 1457.3 273.6 1454.7 274.2 1459.2 274.8 1451.8 275.4 1458.0 276.0 1450.5 276.6 1454.6 277.2 1449.0 277.8 1455.8 278.4 1449.8 279.0 1456.9 279.6 1450.0 280.2 1456.3 280.8 1447.7 281.4 1452.7 282.0 1446.5 282.6 1450.7 283.2 1446.0 283.8 1453.6 284.4 1445.7 285.0 1452.3 285.6 1446.1 286.2 1451.5 286.8 1444.9 287.4 1452.4 288.0 1446.2 288.6 1453.2 289.2 1444.8 289.8 1451.5 290.4 1444.9 291.0 1450.8 291.6 1442.8 292.2 1449.5 292.8 1444.5 293.4 1450.3 294.0 1442.4 294.6 1450.5 295.2 1442.6 295.8 1450.5 296.4 1445.9 297.0 1451.2 297.6 1447.3 298.2 1451.2 298.8 1446.7 299.4 1450.6 300.0 1444.9 300.6 1448.3 301.2 1444.2 301.8 1450.0 302.4 1444.7 303.0 1449.8 303.6 1442.7 304.2 1449.9 304.8 1444.8 305.4 1449.2 306.0 1443.4 306.6 1448.8 307.2 1441.6 307.8 1449.1 308.4 1442.5 309.0 1445.6 309.6 1440.4 310.2 1446.9 310.8 1441.1 311.4 1446.1 312.0 1440.2 312.6 1447.4 313.2 1439.2 313.8 1446.6 314.4 1441.9 315.0 1448.6 315.6 1442.7 316.2 1446.6 316.8 1441.0 317.4 1447.3 318.0 1440.6 318.6 1446.3 319.2 1439.6 319.8 1443.7 320.4 1437.6 321.0 1443.7 321.6 1436.2 322.2 1441.7 322.8 1435.2 323.4 1442.3 324.0 1434.5 324.6 1442.1 325.2 1434.6 325.8 1440.5 326.4 1434.0 327.0 1440.1 327.6 1435.1 328.2 1439.8 328.8 1433.9 329.4 1438.9 330.0 1431.9 330.6 1438.8 331.2 1433.6 331.8 1441.4 332.4 1433.3 333.0 1441.9 333.6 1436.8 334.2 1441.6 334.8 1434.1 335.4 1439.0 336.0 1431.3 336.6 1438.1 337.2 1431.9 337.8 1438.3 338.4 1432.4 339.0 1438.2 339.6 1432.7 340.2 1435.5 340.8 1428.1 341.4 1432.9 342.0 1427.2 342.6 1431.1 343.2 1424.5 343.8 1430.7 344.4 1425.7 345.0 1428.7 345.6 1423.0 346.2 1432.4 346.8 1424.1 347.4 1430.7 348.0 1426.4 348.6 1432.3 349.2 1424.4 349.8 1428.6 350.4 1422.0 351.0 1425.2 351.6 1417.3 352.2 1424.0 352.8 1417.7 353.4 1423.1 354.0 1416.5 354.6 1422.5 355.2 1417.3 355.8 1425.8 356.4 1419.1 357.0 1425.2 357.6 1416.6 358.2 1424.9 358.8 1418.1 359.4 1427.8 360.0 1418.7 360.6 1426.0 361.2 1419.7 361.8 1429.9 362.4 1421.2 363.0 1430.6 363.6 1423.9 364.2 1432.2 364.8 1425.1 365.4 1431.3 366.0 1426.3 366.6 1432.1 367.2 1428.1 367.8 1432.9 368.4 1424.6 369.0 1432.2 369.6 1426.2 370.2 1431.5 370.8 1424.4 371.4 1430.6 372.0 1420.0 372.6 1427.7 373.2 1420.9 373.8 1430.0 374.4 1421.5 375.0 1428.3 375.6 1421.0 376.2 1429.1 376.8 1417.7 377.4 1424.3 378.0 1419.0 378.6 1423.4 379.2 1416.2 379.8 1424.5 380.4 1418.4 381.0 1424.7 381.6 1417.4 382.2 1425.1 382.8 1417.2 383.4 1421.1 384.0 1415.2 384.6 1422.4 385.2 1416.7 385.8 1425.2 386.4 1414.9 387.0 1425.8 387.6 1418.3 388.2 1421.3 388.8 1414.3 389.4 1421.6 390.0 1410.1 390.6 1416.4 391.2 1410.4 391.8 1419.8 392.4 1413.3 393.0 1419.5 393.6 1411.8 394.2 1418.5 394.8 1410.3 395.4 1420.7 396.0 1412.0 396.6 1417.5 397.2 1411.5 397.8 1417.7 398.4 1406.6 399.0 1414.9 399.6 1408.7 400.2 1418.3 400.8 1408.8 401.4 1419.6 402.0 1413.9 402.6 1422.1 403.2 1411.2 403.8 1419.7 404.4 1410.7 405.0 1417.9 405.6 1407.4 406.2 1416.7 406.8 1409.0 407.4 1420.8 408.0 1414.0 408.6 1419.4 409.2 1410.6 409.8 1417.8 410.4 1408.7 411.0 1419.6 411.6 1411.3 412.2 1417.8 412.8 1411.2 413.4 1417.4 414.0 1405.7 414.6 1413.0 415.2 1400.3 415.8 1404.3 416.4 1396.1 417.0 1397.7 417.6 1388.2 418.2 1397.2 418.8 1385.0 419.4 1392.9 420.0 1384.8 420.6 1390.0 421.2 1382.3 421.8 1390.3 422.4 1379.7 423.0 1387.1 423.6 1375.1 424.2 1384.3 424.8 1373.0 425.4 1381.2 426.0 1373.3 426.6 1379.1 427.2 1371.6 427.8 1378.3 428.4 1370.4 429.0 1378.0 429.6 1370.4 430.2 1375.1 430.8 1368.2 431.4 1373.1 432.0 1367.0 432.6 1371.3 433.2 1366.1 433.8 1372.1 434.4 1364.9 435.0 1371.7 435.6 1362.1 436.2 1370.3 436.8 1362.3 437.4 1371.0 438.0 1361.3 438.6 1366.9 439.2 1360.0 439.8 1371.9 440.4 1365.0 441.0 1370.1 441.6 1359.7 442.2 1364.7 442.8 1352.9 443.4 1357.9 444.0 1344.8 444.6 1351.8 445.2 1340.2 445.8 1346.2 446.4 1338.9 447.0 1346.6 447.6 1340.0 448.2 1348.0 448.8 1340.1 449.4 1350.4 450.0 1343.3 450.6 1349.1 451.2 1344.1 451.8 1352.2 452.4 1342.5 453.0 1354.4 453.6 1341.8 454.2 1348.9 454.8 1338.1 455.4 1343.8 456.0 1334.1 456.6 1341.6 457.2 1327.6 457.8 1335.5 458.4 1323.0 459.0 1333.0 459.6 1323.8 460.2 1330.6 460.8 1324.4 461.4 1331.7 462.0 1324.5 462.6 1331.9 463.2 1326.5 463.8 1334.5 464.4 1324.9 465.0 1334.2 465.6 1323.6 466.2 1334.6 466.8 1326.8 467.4 1332.4 468.0 1322.2 468.6 1332.7 469.2 1322.0 469.8 1330.2 470.4 1323.4 471.0 1330.1 471.6 1321.5 472.2 1329.3 472.8 1319.5 473.4 1322.7 474.0 1313.3 474.6 1323.5 475.2 1308.9 475.8 1316.6 476.4 1305.5 477.0 1313.6 477.6 1304.8 478.2 1312.8 478.8 1303.6 479.4 1313.0 480.0 1304.7 480.6 1315.3 481.2 1306.1 481.8 1313.4 482.4 1304.5 483.0 1313.7 483.6 1307.3 484.2 1315.1 484.8 1305.8 485.4 1310.9 486.0 1300.0 486.6 1308.1 487.2 1300.5 487.8 1307.3 488.4 1301.4 489.0 1311.2 489.6 1299.3 490.2 1306.7 490.8 1300.1 491.4 1305.4 492.0 1300.2 492.5 1290.3 493.4 1297.3 494.3 1280.9 495.2 1293.2 496.1 1285.9 497.0 1294.7 497.9 1279.7 498.8 1297.0 499.7 1282.7 500.6 1300.0 501.5 1278.7 502.4 1300.3 503.3 1276.2 504.2 1292.9 505.1 1281.3 506.0 1292.8 506.9 1283.3 507.8 1292.6 508.7 1280.2 509.6 1298.6 510.5 1276.1 511.4 1290.4 512.3 1267.7 513.2 1280.3 514.1 1268.6 515.0 1281.8 515.9 1270.4 516.8 1284.4 517.7 1270.4 518.6 1283.6 519.5 1277.1 520.4 1289.5 521.3 1273.0 522.2 1290.9 523.1 1272.0 524.0 1280.0 524.9 1263.8 525.8 1280.8 526.7 1267.9 527.6 1289.7 528.5 1268.0 529.4 1285.0 530.3 1270.6 531.2 1276.5 532.1 1268.4 533.0 1282.9 533.9 1267.5 534.8 1283.6 535.7 1267.2 536.6 1276.5 537.5 1266.7 538.4 1278.2 539.3 1262.3 540.2 1275.3 541.1 1259.5 542.0 1275.4 542.9 1260.9 543.8 1275.8 544.7 1260.7 545.6 1265.9 546.5 1257.9 547.4 1275.3 548.3 1256.1 549.2 1266.7 550.1 1255.8 551.0 1270.2 551.9 1254.9 552.8 1268.3 553.7 1250.5 554.6 1265.9 555.5 1246.0 556.4 1266.9 557.3 1255.2 558.2 1268.8 559.1 1253.3 560.0 1266.7 560.9 1252.6 561.8 1260.8 562.7 1243.5 563.6 1261.5 564.5 1243.5 565.4 1262.4 566.3 1244.6 567.2 1256.3 568.1 1241.7 569.0 1258.5 569.9 1247.3 570.8 1258.3 571.7 1245.9 572.6 1258.3 573.5 1247.7 574.4 1258.2 575.3 1247.3 576.2 1259.7 577.1 1239.3 578.0 1257.3 578.9 1243.8 579.8 1256.9 580.7 1241.4 581.6 1250.3 582.5 1239.1 583.4 1254.0 584.3 1231.2 585.2 1245.6 586.1 1236.5 587.0 1244.3 587.9 1234.5 588.8 1252.3 589.7 1240.5 590.6 1254.8 591.5 1234.6 592.4 1242.3 593.3 1231.3 594.2 1240.8 595.1 1225.6 596.0 1246.4 596.9 1225.3 597.8 1248.9 598.7 1228.4 599.6 1243.1 600.5 1235.9 601.4 1244.1 602.3 1230.2 603.2 1243.1 604.1 1230.5 605.0 1243.6 605.9 1226.2 606.8 1238.2 607.7 1224.7 608.6 1236.3 609.5 1222.9 610.4 1243.3 611.3 1221.5 612.2 1235.9 613.1 1221.9 614.0 1230.4 614.9 1221.5 615.8 1228.2 616.7 1218.9 617.6 1236.1 618.5 1216.2 619.4 1229.7 620.3 1216.1 621.2 1237.2 622.1 1222.3 623.0 1231.6 623.9 1217.6 624.8 1225.2 625.7 1216.4 626.6 1232.4 627.5 1211.2 628.4 1229.6" stroke="#000000" stroke-width="3.5"/>
<path d="M124.2 1498.6 125.1 1495.4 125.9 1498.5 126.7 1495.1 127.5 1498.4 128.3 1495.5 129.1 1498.3 129.9 1494.7 130.7 1498.5 131.5 1495.0 132.3 1498.1 133.1 1495.2 133.9 1497.5 134.7 1494.5 135.5 1497.6 136.3 1495.0 137.1 1497.4 137.9 1494.8 138.7 1497.5 139.5 1494.2 140.3 1497.1 141.1 1494.6 141.9 1497.4 142.7 1494.4 143.5 1497.3 144.3 1493.7 145.1 1497.4 145.9 1494.0 146.7 1496.6 147.5 1493.8 148.3 1496.5 149.1 1494.1 149.9 1496.9 150.7 1493.7 151.5 1496.6 152.3 1493.4 153.1 1496.4 153.9 1493.5 154.7 1496.2 155.5 1493.4 156.3 1496.6 157.1 1493.4 157.9 1496.4 158.7 1492.9 159.5 1496.2 160.3 1493.5 161.1 1495.9 161.9 1492.9 162.7 1495.8 163.5 1492.8 164.3 1495.7 165.1 1492.9 165.9 1495.4 166.7 1492.2 167.5 1495.3 168.3 1492.2 169.1 1495.3 169.9 1492.6 170.7 1495.2 171.5 1492.3 172.3 1495.8 173.1 1492.3 173.9 1494.9 174.7 1492.2 175.5 1495.0 176.3 1492.1 177.1 1494.8 177.9 1492.3 178.7 1494.9 179.5 1491.6 180.3 1494.8 181.1 1492.0 181.9 1495.2 182.7 1492.0 183.5 1494.9 184.3 1491.2 185.1 1494.7 185.9 1491.8 186.7 1494.8 187.5 1491.3 188.3 1494.1 189.1 1491.3 189.9 1493.8 190.7 1490.9 191.5 1494.3 192.3 1490.6 193.1 1494.2 193.9 1491.2 194.7 1494.0 195.5 1490.9 196.3 1493.8 197.1 1490.5 197.9 1493.4 198.7 1490.7 199.5 1493.3 200.3 1490.5 201.1 1493.3 201.9 1489.9 202.7 1493.0 203.5 1490.4 204.3 1493.1 205.1 1490.1 205.9 1492.9 206.7 1490.1 207.5 1493.0 208.3 1489.4 209.1 1492.5 209.9 1490.0 210.7 1492.6 211.5 1489.4 212.3 1492.3 213.1 1489.8 213.9 1492.5 214.7 1489.0 215.5 1492.6 216.3 1489.6 217.1 1492.4 217.9 1489.2 218.7 1491.9 219.5 1489.4 220.3 1492.2 221.1 1488.8 221.9 1491.8 222.7 1489.2 223.5 1492.3 224.3 1488.9 225.1 1491.4 225.9 1488.4 226.7 1491.6 227.5 1488.2 228.3 1491.6 229.1 1488.0 229.9 1491.9 230.7 1488.1 231.5 1491.3 232.3 1487.9 233.1 1491.3 233.9 1488.5 234.7 1491.6 235.5 1487.6 236.3 1491.4 237.1 1487.7 237.9 1490.9 238.7 1488.1 239.5 1490.4 240.3 1487.7 241.1 1490.7 241.9 1487.9 242.7 1490.5 243.5 1487.8 244.3 1490.3 245.1 1487.5 245.9 1490.6 246.7 1487.1 247.5 1490.4 248.3 1487.0 249.1 1490.1 249.9 1487.0 250.8 1490.0 251.6 1487.1 252.4 1490.0 253.2 1486.9 254.0 1489.4 254.8 1486.3 255.6 1489.7 256.4 1486.2 257.2 1489.8 258.0 1486.1 258.8 1489.1 259.6 1485.9 260.4 1489.6 261.2 1486.5 262.0 1488.9 262.8 1486.1 263.6 1489.3 264.4 1486.1 265.2 1488.9 266.0 1486.0 266.8 1488.8 267.6 1485.6 268.4 1488.7 269.2 1486.0 270.0 1488.6 270.8 1485.1 271.6 1488.3 272.4 1485.7 273.2 1488.8 274.0 1485.6 274.8 1488.2 275.6 1485.2 276.4 1487.9 277.2 1485.3 278.0 1488.2 278.8 1484.9 279.6 1488.4 280.4 1484.6 281.2 1488.0 282.0 1484.8 282.8 1488.0 283.6 1484.3 284.4 1487.4 285.2 1484.6 286.0 1487.4 286.8 1484.8 287.6 1487.7 288.4 1484.2 289.2 1487.1 290.0 1484.5 290.8 1486.8 291.6 1484.5 292.4 1487.3 293.2 1484.2 294.0 1487.1 294.8 1483.9 295.6 1486.6 296.4 1483.4 297.2 1486.6 298.0 1483.4 298.8 1486.6 299.6 1483.8 300.4 1486.8 301.2 1483.4 302.0 1485.8 302.8 1483.2 303.6 1485.6 304.4 1483.1 305.2 1485.6 306.0 1483.0 306.8 1485.2 307.6 1482.6 308.4 1485.8 309.2 1482.5 310.0 1485.0 310.8 1482.3 311.6 1484.9 312.4 1481.9 313.2 1484.7 314.0 1481.6 317.0 1481.0 320.5 1478.6 324.6 1462.0 328.7 1421.0 331.8 1396.0 334.9 1382.0 337.9 1362.0 338.5 1375.2 339.3 1360.8 340.1 1373.7 340.9 1355.1 341.7 1366.0 342.5 1354.6 343.4 1369.6 344.2 1358.9 345.0 1372.0 345.8 1360.4 346.6 1373.1 347.4 1361.1 348.2 1377.3 349.0 1357.6 349.8 1378.5 350.6 1364.7 351.4 1380.1 352.2 1362.9 353.1 1377.0 353.9 1368.7 354.7 1383.8 355.5 1363.4 356.3 1385.2 357.1 1371.3 357.9 1385.0 358.7 1369.6 359.5 1383.8 360.3 1367.6 361.1 1380.5 362.0 1364.1 362.8 1377.3 363.6 1358.0 364.4 1366.5 365.2 1352.2 366.0 1363.4 366.5 1357.7 367.4 1374.6 368.3 1354.1 369.2 1365.9 370.1 1352.0 371.0 1362.8 371.9 1348.4 372.8 1362.8 373.7 1346.7 374.6 1366.8 375.5 1351.9 376.4 1366.4 377.3 1353.9 378.2 1362.2 379.1 1348.5 380.0 1369.4 380.9 1347.4 381.8 1363.8 382.7 1343.2 383.6 1361.0 384.5 1342.7 385.4 1360.4 386.3 1338.6 387.2 1357.9 388.1 1338.8 389.0 1361.6 389.9 1336.9 390.8 1357.3 391.7 1338.9 392.6 1354.0 393.5 1344.1 394.4 1359.8 395.3 1346.9 396.2 1360.2 397.1 1341.7 398.0 1353.1 398.9 1338.1 399.8 1360.2 400.7 1337.2 401.6 1351.7 402.5 1340.8 403.4 1346.9 404.3 1330.3 405.2 1346.3 406.1 1330.2 407.0 1337.7 407.9 1326.0 408.8 1339.7 409.7 1328.0 410.6 1338.6 411.5 1329.3 412.4 1342.4 413.3 1322.8 414.2 1345.9 415.1 1327.2 416.0 1344.4 416.9 1325.1 417.8 1343.7 418.7 1329.7 419.6 1347.8 420.5 1331.6 421.4 1340.3 422.3 1327.1 423.2 1337.0 424.1 1318.2 425.0 1335.0 425.9 1315.5 426.8 1336.7 427.7 1319.1 428.6 1335.9 429.5 1313.6 430.4 1334.1 431.3 1317.7 432.2 1337.0 433.1 1322.0 434.0 1334.0 434.9 1323.8 435.8 1336.0 436.7 1314.7 437.6 1326.7 438.5 1318.6 439.4 1329.6 440.3 1305.2 441.2 1327.2 442.1 1307.1 443.0 1325.2 443.9 1310.0 444.8 1330.5 445.7 1307.4 446.6 1326.1 447.5 1307.9 448.4 1328.3 449.3 1309.5 450.2 1318.6 451.1 1305.3 452.0 1314.6 452.9 1296.1 453.8 1315.3 454.7 1306.9 455.6 1322.3 456.5 1305.7 457.4 1317.2 458.3 1308.9 459.2 1324.1 460.1 1306.7 461.0 1319.4 461.9 1294.0 462.8 1312.9 463.7 1296.7 464.6 1312.7 465.5 1295.8 466.4 1317.3 467.3 1297.1 468.2 1306.4 469.1 1293.3 470.0 1311.9 470.9 1297.5 471.8 1308.8 472.7 1294.3 473.6 1304.9 474.5 1283.4 475.4 1302.9 476.3 1290.5 477.2 1302.0 478.1 1286.2 479.0 1309.7 479.9 1291.2 480.8 1309.2 481.7 1288.9 482.6 1307.2 483.5 1283.4 484.4 1308.4 485.3 1290.5 486.2 1301.2 487.1 1285.9 488.0 1302.0 488.9 1282.7 489.8 1297.8 490.7 1278.5 491.6 1295.0 492.5 1278.6 493.4 1298.1 494.3 1276.0 495.2 1296.4 496.1 1273.6 497.0 1291.8 497.9 1277.3 498.8 1294.4 499.7 1283.4 500.6 1294.0 501.5 1277.7 502.4 1289.8 503.3 1270.0 504.2 1285.6 505.1 1276.2 506.0 1286.7 506.9 1271.6 507.8 1283.9 508.7 1275.7 509.6 1284.1 510.5 1266.7 511.4 1289.7 512.3 1270.6 513.2 1278.3 514.1 1272.6 515.0 1287.6 515.9 1272.3 516.8 1282.3 517.7 1265.1 518.6 1278.5 519.5 1269.9 520.4 1285.5 521.3 1267.8 522.2 1280.9 523.1 1264.3 524.0 1276.9 524.9 1261.5 525.8 1278.0 526.7 1269.1 527.6 1281.7 528.5 1261.5 529.4 1279.1 530.3 1262.8 531.2 1271.8 532.1 1264.6 533.0 1282.1 533.9 1256.7 534.8 1275.2 535.7 1253.9 536.6 1265.9 537.5 1258.5 538.4 1273.7 539.3 1259.1 540.2 1268.5 541.1 1253.5 542.0 1269.7 542.9 1251.0 543.8 1270.2 544.7 1250.0 545.6 1267.9 546.5 1254.8 547.4 1261.2 548.3 1251.0 549.2 1264.4 550.1 1252.7 551.0 1263.2 551.9 1243.2 552.8 1259.2 553.7 1246.2 554.6 1254.3 555.5 1239.5 556.4 1254.9 557.3 1244.3 558.2 1261.9 559.1 1246.4 560.0 1268.7 560.9 1245.2 561.8 1259.5 562.7 1246.3 563.6 1256.0 564.5 1247.9 565.4 1254.2 566.3 1239.8 567.2 1260.8 568.1 1240.7 569.0 1257.3 569.9 1244.0 570.8 1255.3 571.7 1245.7 572.6 1254.0 573.5 1233.6 574.4 1246.9 575.3 1240.2 576.2 1250.5 577.1 1233.4 578.0 1250.3 578.9 1239.8 579.8 1251.0 580.7 1240.2 581.6 1251.5 582.5 1233.0 583.4 1251.1 584.3 1230.1 585.2 1248.6 586.1 1226.9 587.0 1243.7 587.9 1231.3 588.8 1242.3 589.7 1220.9 590.6 1236.0 591.5 1220.8 592.4 1238.3 593.3 1217.1 594.2 1240.4 595.1 1219.6 596.0 1239.0 596.9 1221.3 597.8 1235.5 598.7 1221.7 599.6 1236.5 600.5 1223.3 601.4 1235.2 602.3 1224.9 603.2 1243.5 604.1 1227.1 605.0 1238.6 605.9 1218.0 606.8 1237.3 607.7 1216.9 608.6 1234.5 609.5 1220.2 610.4 1238.5 611.3 1212.8 612.2 1228.8 613.1 1215.9 614.0 1226.7 614.9 1215.1 615.8 1229.5 616.7 1213.0 617.6 1225.4 618.5 1210.9 619.4 1229.5 620.3 1210.0 621.2 1228.9 622.1 1215.6 623.0 1235.1 623.9 1211.3 624.8 1227.7 625.7 1216.1 626.6 1226.7 627.5 1214.8 628.4 1226.3" stroke="#ff0000" stroke-width="3.2"/>
<path d="M124.2 1495.5 125.0 1498.8 125.8 1495.2 126.6 1498.2 127.4 1495.3 128.2 1498.3 129.0 1494.8 129.8 1497.8 130.6 1494.6 131.4 1497.8 132.2 1494.6 133.0 1497.9 133.8 1494.8 134.6 1497.8 135.4 1494.6 136.2 1497.3 137.0 1494.5 137.8 1497.9 138.6 1494.2 139.4 1497.0 140.2 1494.0 141.0 1497.4 141.8 1494.1 142.6 1496.7 143.4 1493.9 144.2 1496.8 145.0 1493.8 145.8 1496.7 146.6 1493.8 147.4 1497.1 148.2 1493.2 149.0 1496.3 149.8 1493.7 150.6 1496.9 151.4 1493.2 152.2 1496.5 153.0 1493.1 153.8 1495.9 154.6 1493.0 155.4 1495.7 156.2 1493.4 157.0 1495.5 157.8 1492.8 158.6 1495.5 159.4 1493.1 160.2 1495.3 161.0 1492.5 161.8 1495.7 162.6 1492.7 163.4 1495.8 164.2 1492.6 165.0 1495.3 165.8 1492.0 166.6 1495.3 167.4 1492.3 168.2 1494.8 169.0 1492.1 169.8 1495.0 170.6 1491.5 171.4 1494.5 172.2 1491.7 173.0 1494.4 173.8 1491.3 174.6 1494.5 175.4 1491.7 176.2 1494.6 177.0 1491.2 177.8 1494.5 178.6 1491.4 179.4 1494.0 180.2 1491.2 181.0 1494.4 181.8 1491.1 182.6 1494.1 183.4 1490.6 184.2 1494.0 185.0 1490.7 185.8 1493.9 186.6 1490.5 187.4 1493.3 188.2 1490.4 189.0 1493.6 189.8 1490.6 190.6 1493.5 191.4 1490.1 192.2 1493.5 193.0 1490.0 193.8 1493.4 194.6 1490.2 195.4 1492.6 196.2 1489.8 197.0 1492.3 197.8 1489.6 198.6 1492.3 199.4 1489.2 200.2 1492.8 201.0 1489.4 201.8 1492.1 202.6 1489.0 203.4 1492.8 204.2 1489.2 205.0 1492.2 205.8 1489.2 206.6 1492.5 207.4 1489.4 208.2 1491.8 209.0 1489.3 209.8 1492.4 210.6 1488.7 211.4 1492.4 212.2 1488.5 213.0 1492.0 213.8 1489.0 214.6 1491.9 215.4 1488.4 216.2 1492.0 217.0 1489.0 217.8 1492.1 218.6 1488.6 219.4 1491.3 220.2 1488.6 221.0 1491.9 221.8 1488.5 222.6 1491.3 223.4 1488.6 224.2 1491.3 225.0 1488.1 225.8 1491.2 226.6 1488.3 227.4 1491.3 228.2 1488.1 229.0 1491.0 229.8 1488.1 230.6 1491.0 231.4 1487.9 232.2 1491.4 233.0 1488.1 233.8 1491.2 234.6 1487.5 235.4 1491.1 236.2 1487.3 237.0 1490.4 237.8 1487.1 238.6 1490.5 239.4 1487.0 240.2 1490.4 241.0 1487.6 241.8 1490.4 242.6 1487.2 243.4 1490.0 244.2 1487.5 245.0 1490.4 245.8 1487.0 246.6 1490.3 247.4 1487.0 248.2 1490.4 249.0 1486.6 249.8 1489.8 250.6 1486.9 251.4 1489.9 252.2 1486.5 253.0 1489.8 253.8 1486.5 254.6 1490.2 255.4 1486.5 256.2 1490.1 257.0 1486.3 257.8 1489.9 258.6 1486.8 259.4 1489.2 260.2 1486.7 261.0 1489.5 261.8 1486.4 262.6 1489.1 263.4 1486.2 264.2 1489.4 265.0 1486.5 265.8 1489.0 266.6 1485.8 267.4 1488.9 268.2 1485.9 269.0 1489.4 269.8 1486.2 270.6 1488.6 271.4 1485.6 272.2 1489.2 273.0 1486.1 273.8 1489.3 274.6 1485.4 275.4 1489.0 276.2 1485.8 277.0 1488.6 277.8 1485.7 278.6 1488.4 279.4 1485.4 280.2 1488.8 280.9 1485.4 281.7 1488.3 282.5 1485.1 283.3 1488.4 284.1 1485.4 284.9 1488.7 285.7 1484.8 286.5 1488.2 287.3 1485.2 288.1 1487.9 288.9 1484.9 289.7 1488.1 290.5 1485.3 291.3 1488.4 292.1 1485.2 292.9 1487.7 293.7 1484.7 294.5 1487.4 295.3 1484.3 296.1 1487.9 296.9 1484.5 297.7 1487.8 298.5 1484.1 299.3 1487.9 300.1 1484.8 300.9 1487.2 301.7 1484.6 302.5 1487.1 303.3 1484.0 304.1 1487.1 304.9 1484.0 305.7 1487.2 306.5 1483.9 307.3 1486.9 308.1 1483.5 308.9 1487.2 309.7 1483.4 310.5 1486.7 311.3 1483.8 312.1 1486.2 312.9 1483.2 313.7 1486.5 314.5 1483.6 315.3 1486.6 316.1 1482.9 316.9 1485.8 317.7 1482.6 318.5 1486.3 319.3 1482.7 320.1 1486.1 320.9 1482.6 321.7 1485.7 322.5 1482.2 323.3 1485.4 324.1 1482.6 324.9 1485.8 325.7 1482.0 326.5 1484.9 327.3 1482.5 328.1 1484.9 328.9 1481.6 329.7 1485.2 330.5 1481.6 331.3 1484.9 332.1 1481.8 332.9 1484.7 333.7 1481.6 334.5 1484.3 335.3 1481.8 336.1 1484.9 336.9 1481.6 337.7 1484.2 338.5 1480.9 339.3 1484.0 340.1 1480.9 340.9 1484.3 341.7 1481.3 342.5 1483.6 343.3 1480.6 344.1 1484.0 344.9 1480.5 345.7 1483.9 346.5 1480.6 347.3 1483.5 348.1 1480.5 348.9 1483.3 349.7 1480.1 350.5 1483.5 351.3 1480.1 352.1 1483.5 352.9 1479.6 353.7 1482.6 354.5 1479.8 355.3 1482.9 356.1 1479.4 356.9 1482.4 357.7 1479.2 358.5 1482.7 359.5 1480.0 361.0 1440.0 362.5 1400.0 364.1 1355.0 364.8 1352.2 365.7 1370.6 366.6 1354.9 367.5 1364.2 368.4 1345.4 369.3 1364.2 370.2 1346.9 371.1 1365.1 372.0 1346.5 372.9 1359.9 373.8 1345.8 374.7 1355.7 375.6 1339.6 376.5 1356.0 377.4 1341.8 378.3 1354.1 379.2 1344.1 380.1 1359.4 381.0 1341.0 381.9 1356.0 382.8 1343.3 383.7 1358.7 384.6 1345.5 385.5 1357.7 386.4 1342.4 387.3 1360.6 388.2 1338.3 389.1 1352.1 390.0 1338.1 390.9 1350.0 391.8 1323.2 392.7 1348.6 393.6 1328.5 394.5 1343.6 395.4 1333.3 396.3 1346.8 397.2 1327.3 398.1 1339.2 399.0 1330.8 399.9 1348.1 400.8 1324.5 401.7 1348.7 402.6 1331.3 403.5 1347.9 404.4 1325.8 405.3 1346.3 406.2 1332.8 407.1 1340.5 408.0 1323.6 408.9 1339.1 409.8 1321.7 410.7 1340.0 411.6 1318.5 412.5 1331.8 413.4 1324.3 414.3 1333.7 415.2 1321.7 416.1 1337.2 417.0 1325.4 417.9 1340.4 418.8 1317.0 419.7 1338.1 420.6 1321.4 421.5 1336.0 422.4 1320.6 423.3 1340.8 424.2 1322.1 425.1 1330.5 426.0 1318.6 426.9 1336.3 427.8 1314.0 428.7 1325.4 429.6 1311.2 430.5 1326.6 431.4 1313.9 432.3 1327.5 433.2 1308.2 434.1 1329.1 435.0 1307.3 435.9 1321.1 436.8 1310.4 437.7 1322.0 438.6 1313.0 439.5 1325.8 440.4 1308.2 441.3 1314.9 442.2 1306.8 443.1 1319.1 444.0 1309.9 444.9 1319.8 445.8 1306.1 446.7 1326.2 447.6 1303.7 448.5 1319.5 449.4 1303.6 450.3 1319.0 451.2 1303.6 452.1 1317.8 453.0 1293.1 453.9 1310.7 454.8 1295.7 455.7 1317.2 456.6 1291.7 457.5 1306.6 458.4 1295.4 459.3 1315.9 460.2 1297.3 461.1 1310.5 462.0 1292.1 462.9 1306.9 463.8 1288.2 464.7 1306.7 465.6 1294.8 466.5 1313.9 467.4 1291.9 468.3 1309.1 469.2 1287.1 470.1 1300.4 471.0 1285.5 471.9 1309.5 472.8 1289.3 473.7 1307.7 474.6 1286.6 475.5 1305.2 476.4 1290.5 477.3 1300.5 478.2 1286.5 479.1 1299.3 480.0 1280.4 480.9 1301.4 481.8 1277.6 482.7 1296.5 483.6 1282.8 484.5 1294.6 485.4 1276.1 486.3 1292.3 487.2 1277.6 488.1 1294.7 489.0 1278.8 489.9 1296.5 490.8 1286.4 491.7 1292.4 492.6 1282.3 493.5 1288.1 494.4 1275.0 495.3 1286.8 496.2 1281.3 497.0 1297.2 497.9 1276.9 498.8 1292.6 499.7 1282.4 500.6 1292.6 501.5 1274.4 502.4 1287.4 503.3 1269.5 504.2 1287.2 505.1 1273.6 506.0 1290.3 506.9 1269.9 507.8 1290.3 508.7 1271.4 509.6 1285.4 510.5 1270.6 511.4 1282.1 512.3 1269.5 513.2 1284.3 514.1 1273.1 515.0 1280.0 515.9 1265.1 516.8 1277.9 517.7 1261.4 518.6 1277.5 519.5 1264.3 520.4 1277.8 521.3 1263.5 522.2 1273.3 523.1 1264.0 524.0 1274.4 524.9 1257.2 525.8 1274.5 526.7 1255.0 527.6 1277.2 528.5 1259.3 529.4 1275.8 530.3 1255.2 531.2 1275.0 532.1 1259.3 533.0 1272.9 533.9 1254.3 534.8 1269.1 535.7 1251.5 536.6 1273.6 537.5 1251.1 538.4 1267.3 539.3 1253.1 540.2 1268.6 541.1 1255.5 542.0 1268.4 542.9 1255.6 543.8 1266.9 544.7 1256.6 545.6 1267.7 546.5 1254.4 547.4 1260.9 548.3 1243.8 549.2 1261.3 550.1 1240.0 551.0 1255.9 551.9 1241.1 552.8 1263.8 553.7 1243.2 554.6 1264.1 555.5 1238.8 556.4 1251.3 557.3 1244.9 558.2 1252.0 559.1 1246.6 560.0 1256.3 560.9 1240.3 561.8 1254.2 562.7 1241.0 563.6 1259.4 564.5 1241.0 565.4 1252.3 566.3 1237.7 567.2 1251.0 568.1 1240.0 569.0 1245.9 569.9 1231.3 570.8 1245.4 571.7 1230.4 572.6 1252.0 573.5 1232.6 574.4 1247.4 575.3 1233.3 576.2 1244.6 577.1 1227.5 578.0 1246.9 578.9 1224.6 579.8 1239.2 580.7 1230.5 581.6 1244.8 582.5 1223.1 583.4 1235.7 584.3 1226.8 585.2 1240.2 586.1 1230.5 587.0 1240.9 587.9 1230.3 588.8 1238.6 589.7 1231.7 590.6 1246.5 591.5 1232.0 592.4 1239.8 593.3 1222.2 594.2 1237.0 595.1 1219.2 596.0 1242.5 596.9 1224.0 597.8 1242.7 598.7 1223.2 599.6 1241.2 600.5 1217.4 601.4 1227.3 602.3 1217.1 603.2 1230.9 604.1 1217.7 605.0 1232.3 605.9 1217.5 606.8 1236.0 607.7 1211.4 608.6 1229.2 609.5 1208.0 610.4 1227.8 611.3 1208.2 612.2 1221.3 613.1 1207.6 614.0 1225.5 614.9 1206.6 615.8 1222.2 616.7 1210.1 617.6 1223.4 618.5 1211.3 619.4 1221.4 620.3 1206.5 621.2 1221.0 622.1 1204.5 623.0 1216.9 623.9 1210.0 624.8 1225.1 625.7 1210.9 626.6 1221.3 627.5 1206.6 628.4 1225.9" stroke="#00ff00" stroke-width="3.0"/>
<path d="M124.2 1498.4 125.0 1495.8 125.8 1498.2 126.6 1495.4 127.4 1498.6 128.2 1495.0 129.0 1498.1 129.8 1494.8 130.6 1498.4 131.4 1495.2 132.2 1497.6 133.0 1494.5 133.8 1498.1 134.6 1494.9 135.4 1498.1 136.2 1494.5 137.0 1497.1 137.8 1494.2 138.6 1497.6 139.4 1494.0 140.2 1497.0 141.0 1493.9 141.8 1497.4 142.6 1494.2 143.4 1496.9 144.2 1494.1 145.0 1497.3 145.8 1494.2 146.6 1496.8 147.4 1493.3 148.2 1497.0 149.0 1493.5 149.8 1496.6 150.6 1493.2 151.4 1496.3 152.2 1493.5 153.0 1496.5 153.8 1493.3 154.6 1496.6 155.4 1492.6 156.2 1495.6 157.0 1492.7 157.8 1496.0 158.6 1492.4 159.4 1496.1 160.2 1492.2 161.0 1495.9 161.8 1492.3 162.6 1495.5 163.4 1492.2 164.2 1495.0 165.0 1492.4 165.8 1495.2 166.6 1491.8 167.4 1494.9 168.2 1492.0 169.0 1495.4 169.8 1492.3 170.6 1495.1 171.4 1491.4 172.2 1494.4 173.0 1491.8 173.8 1494.2 174.6 1491.5 175.4 1494.1 176.2 1491.3 177.0 1494.8 177.8 1491.4 178.6 1494.0 179.4 1490.7 180.2 1493.9 181.0 1490.6 181.8 1493.6 182.6 1491.1 183.4 1493.8 184.2 1490.8 185.0 1493.6 185.8 1490.7 186.6 1493.9 187.4 1490.9 188.2 1493.9 189.0 1490.5 189.8 1493.5 190.6 1490.2 191.4 1493.2 192.2 1490.0 193.0 1493.5 193.8 1490.3 194.6 1492.6 195.4 1490.0 196.2 1492.5 197.0 1489.8 197.8 1492.3 198.6 1489.6 199.4 1492.4 200.2 1489.3 201.0 1492.5 201.8 1489.8 202.6 1492.1 203.4 1489.4 204.2 1491.9 205.0 1489.5 205.8 1492.7 206.6 1488.8 207.4 1492.4 208.2 1488.8 209.0 1492.5 209.8 1489.4 210.6 1492.1 211.4 1489.1 212.2 1492.2 213.0 1488.9 213.8 1492.2 214.6 1489.2 215.4 1492.0 216.2 1488.4 217.0 1491.4 217.8 1488.8 218.6 1492.0 219.4 1488.9 220.2 1491.9 221.0 1488.1 221.8 1491.3 222.6 1488.6 223.3 1491.1 224.1 1488.3 224.9 1491.6 225.7 1488.2 226.5 1491.5 227.3 1488.0 228.1 1491.0 228.9 1487.9 229.7 1491.2 230.5 1487.8 231.3 1491.3 232.1 1487.6 232.9 1491.0 233.7 1487.7 234.5 1491.1 235.3 1488.1 236.1 1490.4 236.9 1487.7 237.7 1490.4 238.5 1487.9 239.3 1490.7 240.1 1487.6 240.9 1490.6 241.7 1487.5 242.5 1490.6 243.3 1486.9 244.1 1490.2 244.9 1486.8 245.7 1490.3 246.5 1487.2 247.3 1490.1 248.1 1487.3 248.9 1490.2 249.7 1487.3 250.5 1490.2 251.3 1487.2 252.1 1489.6 252.9 1487.0 253.7 1489.8 254.5 1487.0 255.3 1489.4 256.1 1487.0 256.9 1489.5 257.7 1486.9 258.5 1489.6 259.3 1486.7 260.1 1489.3 260.9 1486.4 261.7 1489.2 262.5 1486.6 263.3 1488.9 264.1 1486.1 264.9 1488.9 265.7 1486.3 266.5 1489.2 267.3 1486.4 268.1 1488.7 268.9 1486.1 269.7 1488.8 270.5 1485.6 271.3 1488.9 272.1 1485.7 272.9 1488.7 273.7 1485.6 274.5 1488.7 275.3 1486.0 276.1 1489.1 276.9 1485.3 277.7 1488.8 278.5 1485.9 279.3 1489.0 280.1 1485.1 280.9 1488.9 281.7 1485.0 282.5 1488.2 283.3 1485.5 284.1 1488.8 284.9 1485.6 285.7 1488.7 286.5 1485.2 287.3 1488.5 288.1 1485.2 288.9 1487.7 289.7 1485.0 290.5 1488.3 291.3 1484.8 292.1 1487.8 292.9 1485.0 293.7 1487.8 294.5 1485.2 295.3 1487.9 296.1 1485.1 296.9 1488.0 297.7 1484.5 298.5 1487.7 299.3 1484.1 300.1 1487.7 300.9 1484.7 301.7 1487.3 302.5 1484.5 303.3 1487.3 304.1 1484.0 304.9 1487.3 305.7 1484.2 306.5 1486.9 307.3 1484.4 308.1 1487.2 308.9 1484.1 309.7 1487.5 310.5 1484.2 311.3 1486.7 312.1 1483.5 312.9 1486.8 313.7 1483.6 314.5 1487.0 315.3 1484.0 316.1 1487.2 316.9 1483.8 317.7 1486.7 318.5 1484.1 319.3 1486.4 320.1 1483.7 320.9 1486.5 321.7 1483.8 322.4 1486.5 323.2 1483.3 324.0 1486.8 324.8 1483.5 325.6 1486.9 326.4 1483.4 327.2 1486.4 328.0 1482.9 328.8 1485.9 329.6 1482.9 330.4 1485.9 331.2 1483.1 332.0 1486.0 332.8 1483.2 333.6 1486.0 334.4 1482.6 335.2 1485.7 336.0 1482.8 336.8 1486.4 337.6 1483.1 338.4 1486.2 339.2 1482.6 340.0 1485.5 340.8 1482.6 341.6 1486.2 342.4 1482.7 343.2 1486.0 344.0 1482.7 344.8 1485.8 345.6 1482.4 346.4 1485.7 347.2 1482.5 348.0 1485.2 348.8 1482.7 349.6 1485.7 350.4 1482.1 351.2 1485.2 352.0 1482.2 352.8 1485.0 353.6 1482.4 354.4 1485.1 355.2 1482.0 356.0 1484.8 356.8 1481.9 357.6 1485.3 358.4 1481.7 359.2 1484.8 360.0 1482.3 360.8 1484.7 361.6 1482.3 362.4 1485.3 363.2 1482.1 364.0 1484.7 364.8 1481.7 365.6 1484.9 366.4 1482.0 367.2 1485.0 368.0 1481.6 368.8 1484.2 369.6 1481.3 370.4 1484.8 371.2 1481.2 372.0 1484.6 373.0 1483.0 375.0 1440.0 377.0 1400.0 379.8 1350.0 380.5 1353.5 381.4 1343.8 382.3 1355.6 383.2 1343.0 384.1 1358.5 385.0 1337.5 385.9 1347.3 386.8 1339.5 387.7 1353.1 388.6 1335.7 389.5 1351.7 390.4 1337.5 391.3 1342.8 392.2 1325.8 393.1 1348.7 394.0 1328.5 394.9 1339.7 395.8 1331.1 396.7 1342.1 397.6 1333.9 398.5 1351.2 399.4 1336.1 400.3 1342.2 401.2 1334.8 402.1 1346.5 403.0 1326.6 403.9 1341.2 404.8 1331.0 405.7 1343.7 406.6 1322.7 407.5 1337.6 408.4 1319.6 409.3 1343.3 410.2 1329.3 411.1 1342.4 412.1 1322.4 413.0 1333.7 413.9 1322.0 414.8 1333.2 415.7 1325.8 416.6 1334.4 417.5 1318.6 418.4 1338.7 419.3 1320.5 420.2 1336.0 421.1 1320.8 422.0 1335.6 422.9 1325.0 423.8 1338.3 424.7 1315.9 425.6 1329.9 426.5 1311.7 427.4 1329.6 428.3 1318.8 429.2 1332.4 430.1 1307.6 431.0 1320.8 431.9 1304.2 432.8 1331.7 433.7 1314.6 434.6 1329.6 435.5 1312.8 436.4 1328.3 437.3 1311.4 438.2 1320.1 439.1 1310.4 440.0 1318.2 440.9 1304.0 441.8 1318.0 442.7 1304.5 443.6 1318.3 444.5 1306.4 445.4 1318.9 446.3 1305.2 447.2 1321.0 448.1 1314.1 449.0 1323.2 449.9 1305.5 450.8 1319.8 451.7 1302.4 452.6 1310.1 453.5 1300.6 454.4 1308.9 455.3 1290.6 456.2 1310.8 457.1 1292.5 458.0 1315.8 458.9 1290.7 459.8 1307.8 460.7 1298.6 461.6 1306.9 462.5 1296.1 463.4 1309.6 464.3 1292.6 465.2 1305.6 466.1 1296.7 467.0 1313.2 467.9 1290.2 468.8 1306.4 469.7 1291.7 470.6 1305.3 471.5 1290.2 472.4 1304.9 473.3 1288.1 474.3 1302.8 475.2 1293.5 476.1 1300.6 477.0 1291.1 477.9 1294.7 478.8 1278.7 479.7 1293.7 480.6 1281.4 481.5 1295.6 482.4 1278.7 483.3 1296.3 484.2 1284.6 485.1 1299.2 486.0 1277.1 486.9 1298.3 487.8 1283.6 488.7 1295.5 489.6 1282.4 490.5 1297.2 491.4 1279.9 492.3 1293.6 493.2 1278.9 494.1 1297.0 495.0 1276.5 495.9 1297.8 496.8 1284.4 497.7 1289.5 498.6 1268.6 499.5 1282.4 500.4 1272.3 501.3 1287.3 502.2 1267.8 503.1 1288.1 504.0 1274.6 504.9 1284.7 505.8 1268.5 506.7 1284.9 507.6 1261.9 508.5 1271.1 509.4 1260.9 510.3 1274.9 511.2 1262.1 512.1 1277.4 513.0 1266.6 513.9 1278.4 514.8 1260.2 515.7 1283.9 516.6 1263.0 517.5 1280.3 518.4 1265.5 519.3 1286.9 520.2 1270.7 521.1 1281.2 522.0 1260.3 522.9 1274.9 523.8 1260.3 524.7 1268.9 525.6 1256.7 526.5 1277.2 527.4 1261.6 528.3 1277.5 529.2 1252.4 530.1 1273.9 531.0 1254.9 531.9 1268.5 532.8 1256.0 533.7 1274.9 534.6 1254.6 535.6 1275.6 536.5 1250.5 537.4 1269.2 538.3 1254.7 539.2 1268.1 540.1 1246.5 541.0 1263.1 541.9 1246.8 542.8 1258.3 543.7 1241.8 544.6 1259.4 545.5 1244.4 546.4 1259.9 547.3 1242.2 548.2 1256.2 549.1 1241.7 550.0 1261.0 550.9 1240.6 551.8 1258.4 552.7 1243.7 553.6 1261.1 554.5 1242.0 555.4 1257.8 556.3 1249.0 557.2 1258.6 558.1 1241.8 559.0 1255.1 559.9 1237.7 560.8 1258.2 561.7 1244.1 562.6 1253.2 563.5 1242.5 564.4 1251.9 565.3 1236.1 566.2 1250.4 567.1 1236.8 568.0 1252.7 568.9 1235.2 569.8 1255.4 570.7 1234.1 571.6 1256.3 572.5 1234.5 573.4 1248.8 574.3 1236.0 575.2 1245.3 576.1 1233.3 577.0 1246.8 577.9 1234.0 578.8 1250.2 579.7 1230.8 580.6 1246.2 581.5 1236.0 582.4 1245.5 583.3 1227.1 584.2 1242.1 585.1 1224.1 586.0 1236.4 586.9 1228.8 587.8 1244.3 588.7 1225.3 589.6 1241.1 590.5 1223.8 591.4 1238.1 592.3 1227.2 593.2 1239.1 594.1 1215.2 595.0 1232.6 595.9 1215.0 596.8 1230.2 597.8 1215.7 598.7 1235.4 599.6 1217.6 600.5 1235.0 601.4 1219.1 602.3 1234.4 603.2 1214.4 604.1 1234.1 605.0 1214.1 605.9 1237.0 606.8 1222.0 607.7 1238.0 608.6 1220.3 609.5 1227.0 610.4 1205.6 611.3 1229.5 612.2 1206.7 613.1 1229.2 614.0 1207.9 614.9 1232.1 615.8 1213.7 616.7 1230.9 617.6 1214.3 618.5 1227.1 619.4 1207.4 620.3 1225.2 621.2 1203.1 622.1 1223.5 623.0 1206.1 623.9 1219.1 624.8 1201.7 625.7 1220.3 626.6 1209.0 627.5 1217.2 628.4 1206.2" stroke="#0000ff" stroke-width="2.6"/>
<path d="M124.2 1499.8 125.0 1495.4 125.8 1499.1 126.6 1496.0 127.4 1499.0 128.2 1495.9 129.0 1499.0 129.8 1494.8 130.6 1499.4 131.4 1495.3 132.2 1498.6 133.0 1495.6 133.8 1498.7 134.6 1495.4 135.4 1498.6 136.2 1495.0 137.0 1498.5 137.8 1494.9 138.6 1498.4 139.4 1494.9 140.2 1498.8 141.0 1494.6 141.8 1498.9 142.6 1494.8 143.4 1498.9 144.2 1494.7 145.0 1498.7 145.8 1494.6 146.6 1498.7 147.4 1494.7 148.2 1498.9 149.0 1494.4 149.8 1498.2 150.6 1493.8 151.4 1498.3 152.2 1494.1 153.0 1498.2 153.8 1493.7 154.6 1497.6 155.4 1494.5 156.2 1498.1 157.0 1493.8 157.8 1498.0 158.6 1494.2 159.4 1498.3 160.2 1493.7 161.0 1498.0 161.8 1493.9 162.6 1497.8 163.4 1494.0 164.2 1497.9 165.0 1494.0 165.8 1497.2 166.6 1493.8 167.4 1497.5 168.2 1493.4 169.0 1497.3 169.8 1493.8 170.6 1497.1 171.4 1493.0 172.2 1496.7 173.0 1492.9 173.8 1497.6 174.6 1493.4 175.4 1496.9 176.2 1493.7 177.0 1496.7 177.8 1492.9 178.6 1496.4 179.4 1492.5 180.2 1497.2 181.0 1492.7 181.8 1496.7 182.6 1492.4 183.4 1496.9 184.2 1492.3 185.0 1496.7 185.8 1492.2 186.6 1496.3 187.4 1493.1 188.2 1496.4 189.0 1492.8 189.8 1496.3 190.6 1492.3 191.4 1496.2 192.2 1492.0 193.0 1495.8 193.8 1492.3 194.6 1496.3 195.4 1492.6 196.2 1495.9 197.0 1492.6 197.8 1495.9 198.6 1491.9 199.4 1496.2 200.2 1491.8 201.0 1496.2 201.8 1492.3 202.6 1496.0 203.4 1492.3 204.2 1496.3 205.0 1492.4 205.8 1495.7 206.6 1491.6 207.4 1496.0 208.2 1492.3 209.0 1495.7 209.8 1492.2 210.6 1495.2 211.4 1491.7 212.2 1496.1 213.0 1492.2 213.8 1496.0 214.6 1491.3 215.4 1495.8 216.2 1491.9 217.0 1495.1 217.8 1491.1 218.6 1495.2 219.4 1491.1 220.2 1494.9 221.0 1491.5 221.8 1495.7 222.6 1491.9 223.4 1495.1 224.2 1491.8 225.0 1494.7 225.8 1491.6 226.6 1495.5 227.4 1491.2 228.2 1494.9 229.0 1491.2 229.8 1494.5 230.6 1490.8 231.4 1495.5 232.2 1490.9 233.0 1494.8 233.8 1490.5 234.6 1494.9 235.4 1491.1 236.2 1494.6 237.0 1490.6 237.8 1494.5 238.6 1490.5 239.4 1495.3 240.2 1490.8 241.0 1494.3 241.8 1490.7 242.6 1494.2 243.4 1490.9 244.2 1494.2 245.0 1490.2 245.8 1494.3 246.6 1490.3 247.4 1494.6 248.2 1491.0 249.0 1494.4 249.8 1490.9 250.6 1494.9 251.4 1490.7 252.2 1494.1 253.0 1490.3 253.8 1494.7 254.6 1490.6 255.4 1494.5 256.2 1490.7 257.0 1493.7 257.8 1490.0 258.6 1493.9 259.4 1490.6 260.2 1494.5 261.0 1490.5 261.8 1494.6 262.6 1490.4 263.4 1494.1 264.2 1489.8 265.0 1494.4 265.8 1489.6 266.6 1493.9 267.4 1490.6 268.2 1494.1 269.0 1490.2 269.8 1493.6 270.6 1489.8 271.4 1493.6 272.2 1489.6 273.0 1493.4 273.8 1489.8 274.6 1493.6 275.4 1489.3 276.2 1494.0 277.0 1489.4 277.8 1493.1 278.6 1490.1 279.4 1493.2 280.2 1490.1 281.0 1493.2 281.8 1490.0 282.6 1493.8 283.4 1490.0 284.2 1493.3 285.0 1489.2 285.8 1493.8 286.6 1489.0 287.4 1493.6 288.2 1489.6 289.0 1493.6 289.8 1488.9 290.6 1493.0 291.4 1489.5 292.2 1493.0 293.0 1489.0 293.8 1493.4 294.6 1489.7 295.4 1493.5 296.2 1488.9 297.0 1492.7 297.8 1488.8 298.6 1493.1 299.4 1489.0 300.2 1492.4 301.0 1488.5 301.8 1493.0 302.6 1488.8 303.4 1492.7 304.2 1488.7 304.9 1492.8 305.7 1488.5 306.5 1492.7 307.3 1488.7 308.1 1492.1 308.9 1488.4 309.7 1493.0 310.5 1489.1 311.3 1492.6 312.1 1489.0 312.9 1492.8 313.7 1488.5 314.5 1492.2 315.3 1488.6 316.1 1491.8 316.9 1488.5 317.7 1491.7 318.5 1487.8 319.3 1491.9 320.1 1488.5 320.9 1492.3 321.7 1488.3 322.5 1492.2 323.3 1488.3 324.1 1492.6 324.9 1488.6 325.7 1492.1 326.5 1488.3 327.3 1492.3 328.1 1487.6 328.9 1491.8 329.7 1487.5 330.5 1491.9 331.3 1488.0 332.1 1491.9 332.9 1487.3 333.7 1492.0 334.5 1488.3 335.3 1491.5 336.1 1487.7 336.9 1492.1 337.7 1487.7 338.5 1492.0 339.3 1487.4 340.1 1491.3 340.9 1487.6 341.7 1491.4 342.5 1487.5 343.3 1491.0 344.1 1486.9 344.9 1491.1 345.7 1487.3 346.5 1490.7 347.3 1487.1 348.1 1491.5 348.9 1487.3 349.7 1491.1 350.5 1487.1 351.3 1491.4 352.1 1487.5 352.9 1490.4 353.7 1487.5 354.5 1490.8 355.3 1487.2 356.1 1490.6 356.9 1487.1 357.7 1490.4 358.5 1487.2 359.3 1490.9 360.1 1486.4 360.9 1490.4 361.7 1486.3 362.5 1490.5 363.3 1487.2 364.1 1491.0 364.9 1487.0 365.7 1490.1 366.5 1487.0 367.3 1491.0 368.1 1486.5 368.9 1489.9 369.7 1486.3 370.5 1490.1 371.3 1486.9 372.1 1490.0 372.9 1486.1 373.7 1490.2 374.5 1486.5 375.3 1490.3 376.1 1485.9 376.9 1489.9 377.7 1485.7 378.5 1489.4 379.3 1485.7 380.1 1490.0 380.9 1486.1 381.7 1489.5 382.5 1485.2 383.3 1489.1 384.1 1484.3 384.9 1488.7 385.7 1484.4 386.5 1487.8 387.3 1483.2 388.1 1487.4 388.9 1483.1 389.7 1486.7 390.5 1482.7 391.3 1485.9 392.1 1481.6 392.9 1485.0 393.7 1481.5 394.5 1484.9 396.5 1480.0 398.6 1477.0 400.6 1468.0 403.7 1421.0 404.7 1380.0 406.5 1340.0 407.5 1340.4 408.4 1328.4 409.3 1344.6 410.2 1325.2 411.1 1341.6 412.0 1324.0 412.9 1334.1 413.8 1322.8 414.7 1341.1 415.6 1321.1 416.5 1336.9 417.4 1325.7 418.3 1332.2 419.2 1314.8 420.1 1334.7 421.0 1319.0 421.9 1332.2 422.8 1316.5 423.7 1329.5 424.6 1311.2 425.5 1333.4 426.4 1313.0 427.3 1329.6 428.2 1315.8 429.1 1329.9 430.0 1314.6 430.9 1326.7 431.8 1307.8 432.7 1330.8 433.6 1316.7 434.5 1325.5 435.5 1312.1 436.4 1324.8 437.3 1308.5 438.2 1324.6 439.1 1312.5 440.0 1331.0 440.9 1311.1 441.8 1328.8 442.7 1307.3 443.6 1318.5 444.5 1302.0 445.4 1319.9 446.3 1303.3 447.2 1323.4 448.1 1298.1 449.0 1312.5 449.9 1301.4 450.8 1319.6 451.7 1304.4 452.6 1322.7 453.5 1300.6 454.4 1312.5 455.3 1299.3 456.2 1313.1 457.1 1305.6 458.0 1319.7 458.9 1304.5 459.8 1312.1 460.7 1295.6 461.6 1314.3 462.5 1297.0 463.4 1304.0 464.3 1295.4 465.2 1308.5 466.1 1287.5 467.0 1312.5 467.9 1288.5 468.8 1307.1 469.7 1288.6 470.6 1294.5 471.5 1283.0 472.4 1304.0 473.3 1296.7 474.2 1308.5 475.1 1288.1 476.0 1306.6 476.9 1285.3 477.8 1304.1 478.7 1293.6 479.6 1301.3 480.5 1281.1 481.4 1301.9 482.3 1280.7 483.2 1298.9 484.1 1291.1 485.0 1306.1 485.9 1291.1 486.8 1306.6 487.7 1291.3 488.6 1299.8 489.5 1281.7 490.5 1300.4 491.4 1279.4 492.3 1297.1 493.2 1275.3 494.1 1282.0 495.0 1276.5 495.9 1288.8 496.8 1274.9 497.7 1291.1 498.6 1273.3 499.5 1296.9 500.4 1276.5 501.3 1288.1 502.2 1279.0 503.1 1291.0 504.0 1275.9 504.9 1285.2 505.8 1268.9 506.7 1283.0 507.6 1264.4 508.5 1280.5 509.4 1265.3 510.3 1286.4 511.2 1271.4 512.1 1282.3 513.0 1261.3 513.9 1279.7 514.8 1261.6 515.7 1273.0 516.6 1260.5 517.5 1271.8 518.4 1257.4 519.3 1275.3 520.2 1260.0 521.1 1278.7 522.0 1258.2 522.9 1279.2 523.8 1259.6 524.7 1270.2 525.6 1263.8 526.5 1279.3 527.4 1255.9 528.3 1278.9 529.2 1261.5 530.1 1277.6 531.0 1256.7 531.9 1275.3 532.8 1257.5 533.7 1270.2 534.6 1263.1 535.5 1275.4 536.4 1261.6 537.3 1269.8 538.2 1250.0 539.1 1267.8 540.0 1252.9 540.9 1267.5 541.8 1245.2 542.7 1258.3 543.6 1245.6 544.5 1269.0 545.4 1250.4 546.4 1267.7 547.3 1254.2 548.2 1262.5 549.1 1255.5 550.0 1269.1 550.9 1255.2 551.8 1267.3 552.7 1244.5 553.6 1254.3 554.5 1237.1 555.4 1253.8 556.3 1240.6 557.2 1262.3 558.1 1242.4 559.0 1254.1 559.9 1247.5 560.8 1254.1 561.7 1244.1 562.6 1258.0 563.5 1239.5 564.4 1255.6 565.3 1242.0 566.2 1257.3 567.1 1237.8 568.0 1256.3 568.9 1233.2 569.8 1255.1 570.7 1228.6 571.6 1246.5 572.5 1232.2 573.4 1252.3 574.3 1238.2 575.2 1250.8 576.1 1238.5 577.0 1247.4 577.9 1237.4 578.8 1247.5 579.7 1240.7 580.6 1249.9 581.5 1237.1 582.4 1248.5 583.3 1227.7 584.2 1241.2 585.1 1225.6 586.0 1238.5 586.9 1224.2 587.8 1241.9 588.7 1232.1 589.6 1243.8 590.5 1224.0 591.4 1244.4 592.3 1221.2 593.2 1245.2 594.1 1222.4 595.0 1239.5 595.9 1223.0 596.8 1244.7 597.7 1227.3 598.6 1238.3 599.5 1224.9 600.4 1241.1 601.4 1220.6 602.3 1238.4 603.2 1219.8 604.1 1236.4 605.0 1211.8 605.9 1228.8 606.8 1219.3 607.7 1228.8 608.6 1220.1 609.5 1236.4 610.4 1223.6 611.3 1235.2 612.2 1213.9 613.1 1231.6 614.0 1209.8 614.9 1223.6 615.8 1215.3 616.7 1226.7 617.6 1214.0 618.5 1230.0 619.4 1220.9 620.3 1228.9 621.2 1209.9 622.1 1222.9 623.0 1203.4 623.9 1225.4 624.8 1207.0 625.7 1219.2 626.6 1205.9 627.5 1217.1 628.4 1211.0" stroke="#ffa500" stroke-width="1.6"/>
<path d="M124.2 1498.5 125.0 1496.0 125.8 1498.5 126.6 1496.3 127.4 1498.4 128.2 1496.2 129.0 1498.4 129.8 1496.2 130.6 1499.0 131.4 1495.8 132.2 1498.7 133.0 1496.1 133.8 1498.9 134.6 1495.7 135.4 1499.0 136.2 1496.0 137.0 1498.4 137.8 1495.9 138.6 1498.9 139.4 1496.2 140.2 1498.5 141.0 1495.9 141.8 1498.4 142.6 1495.7 143.4 1498.9 144.2 1495.9 145.0 1498.9 145.8 1495.9 146.6 1498.1 147.4 1495.9 148.2 1498.1 149.0 1495.5 149.8 1498.8 150.6 1495.5 151.4 1498.6 152.2 1495.7 153.0 1498.6 153.8 1496.0 154.6 1498.4 155.4 1495.2 156.2 1498.1 157.0 1495.9 157.8 1498.7 158.6 1495.7 159.4 1498.0 160.2 1495.4 161.0 1498.8 161.8 1495.6 162.6 1498.4 163.4 1495.0 164.2 1498.3 165.0 1495.7 165.8 1498.2 166.6 1495.5 167.4 1498.4 168.2 1495.1 169.0 1498.1 169.8 1494.9 170.6 1498.5 171.4 1495.4 172.2 1497.8 173.0 1494.9 173.8 1498.0 174.6 1494.8 175.4 1498.2 176.2 1495.4 177.0 1498.6 177.8 1495.4 178.6 1498.6 179.4 1495.2 180.2 1498.2 181.0 1495.5 181.8 1498.0 182.6 1495.0 183.4 1498.3 184.2 1494.7 185.0 1498.1 185.8 1495.0 186.6 1498.5 187.4 1494.7 188.2 1498.2 189.0 1495.1 189.8 1498.2 190.6 1494.5 191.4 1498.1 192.2 1495.1 193.0 1497.6 193.8 1495.2 194.6 1498.3 195.4 1495.1 196.2 1498.2 197.0 1495.0 197.8 1498.1 198.6 1494.9 199.4 1497.5 200.2 1495.1 201.0 1497.6 201.8 1495.1 202.6 1498.2 203.4 1494.9 204.2 1498.1 205.0 1494.3 205.8 1497.6 206.6 1494.9 207.4 1498.2 208.2 1494.5 209.0 1497.5 209.8 1494.7 210.6 1497.7 211.4 1494.3 212.2 1498.2 213.0 1494.5 213.8 1497.7 214.6 1494.8 215.4 1497.4 216.2 1494.1 217.0 1497.5 217.8 1494.6 218.6 1497.7 219.4 1494.1 220.2 1497.3 221.0 1494.7 221.8 1497.8 222.6 1493.9 223.4 1497.8 224.2 1493.7 225.0 1498.1 225.8 1494.4 226.6 1497.4 227.4 1494.1 228.2 1497.8 229.0 1494.3 229.8 1497.3 230.6 1494.5 231.4 1497.9 232.2 1493.7 233.0 1498.1 233.8 1494.4 234.6 1498.0 235.4 1494.1 236.2 1497.5 237.0 1493.6 237.8 1498.2 238.6 1493.6 239.4 1497.8 240.2 1494.0 241.0 1497.2 241.8 1494.1 242.6 1498.1 243.4 1494.2 244.2 1497.4 245.0 1494.0 245.8 1497.5 246.6 1494.2 247.4 1497.1 248.2 1494.1 249.0 1497.1 249.8 1494.0 250.6 1497.9 251.4 1493.8 252.2 1497.2 253.0 1493.9 253.8 1498.1 254.6 1493.6 255.4 1497.3 256.2 1494.1 257.0 1497.4 257.8 1493.6 258.6 1497.2 259.4 1493.5 260.2 1497.7 261.0 1493.9 261.8 1497.5 262.6 1494.0 263.4 1497.5 264.2 1493.5 265.0 1497.0 265.8 1494.0 266.5 1497.4 267.3 1492.9 268.1 1496.9 268.9 1493.2 269.7 1497.1 270.5 1493.7 271.3 1496.9 272.1 1493.5 272.9 1497.1 273.7 1493.2 274.5 1497.7 275.3 1493.3 276.1 1497.8 276.9 1493.6 277.7 1497.7 278.5 1493.2 279.3 1497.7 280.1 1493.7 280.9 1497.1 281.7 1493.4 282.5 1497.1 283.3 1492.6 284.1 1496.8 284.9 1493.0 285.7 1496.8 286.5 1493.5 287.3 1496.9 288.1 1493.1 288.9 1496.9 289.7 1493.3 290.5 1496.9 291.3 1493.6 292.1 1497.6 292.9 1493.1 293.7 1497.6 294.5 1493.2 295.3 1497.4 296.1 1492.5 296.9 1497.5 297.7 1493.5 298.5 1496.9 299.3 1493.5 300.1 1496.7 300.9 1492.6 301.7 1497.5 302.5 1493.0 303.3 1497.2 304.1 1492.6 304.9 1497.6 305.7 1493.3 306.5 1497.6 307.3 1492.6 308.1 1496.5 308.9 1493.2 309.7 1497.0 310.5 1492.4 311.3 1496.6 312.1 1492.9 312.9 1496.7 313.7 1492.4 314.5 1496.7 315.3 1493.0 316.1 1497.2 316.9 1493.3 317.7 1496.7 318.5 1492.0 319.3 1497.2 320.1 1492.7 320.9 1497.0 321.7 1492.6 322.5 1496.6 323.3 1492.4 324.1 1496.5 324.9 1492.8 325.7 1496.4 326.5 1492.2 327.3 1496.8 328.1 1492.4 328.9 1496.6 329.7 1492.8 330.5 1496.5 331.3 1492.1 332.1 1496.8 332.9 1492.9 333.7 1496.5 334.5 1493.0 335.3 1496.7 336.1 1492.7 336.9 1497.0 337.7 1492.2 338.5 1496.5 339.3 1492.4 340.1 1496.3 340.9 1491.9 341.7 1497.2 342.5 1492.6 343.3 1496.8 344.1 1492.4 344.9 1496.4 345.7 1492.0 346.5 1496.1 347.3 1491.8 348.1 1496.1 348.9 1492.4 349.7 1496.3 350.5 1492.5 351.3 1496.7 352.1 1492.4 352.9 1496.9 353.7 1492.4 354.5 1496.0 355.3 1491.6 356.1 1496.4 356.9 1491.7 357.7 1496.5 358.5 1492.4 359.3 1495.9 360.1 1492.1 360.9 1496.3 361.7 1492.2 362.5 1496.8 363.3 1492.3 364.1 1496.5 364.9 1491.3 365.7 1496.6 366.5 1491.7 367.3 1496.7 368.1 1491.6 368.9 1495.7 369.7 1491.4 370.5 1496.9 371.3 1491.8 372.1 1495.9 372.9 1491.2 373.7 1495.6 374.5 1491.9 375.3 1496.5 376.1 1491.9 376.9 1495.7 377.7 1492.1 378.5 1496.3 379.3 1491.7 380.1 1496.1 380.9 1491.1 381.7 1496.6 382.5 1491.5 383.3 1495.9 384.1 1491.1 384.9 1496.4 385.7 1491.5 386.5 1496.7 387.3 1491.3 388.1 1495.7 388.9 1490.9 389.7 1496.5 390.5 1490.9 391.3 1495.7 392.1 1492.0 392.9 1496.2 393.7 1491.1 394.5 1495.8 395.3 1491.0 396.1 1495.4 396.9 1490.8 397.7 1495.6 398.5 1491.7 399.3 1496.3 400.1 1490.7 400.9 1496.1 401.7 1491.6 402.5 1496.2 403.3 1490.6 404.1 1495.9 404.9 1491.8 405.7 1495.7 406.5 1491.6 407.3 1496.2 408.1 1490.9 408.8 1495.7 409.6 1491.1 410.4 1496.0 411.2 1491.6 412.0 1495.2 412.8 1491.5 413.6 1495.7 414.4 1490.6 415.2 1495.1 416.0 1490.4 416.8 1495.0 417.6 1490.7 418.4 1495.3 419.2 1491.0 420.0 1496.2 420.8 1491.3 421.6 1495.1 422.4 1491.1 423.2 1496.2 424.0 1491.4 424.8 1495.5 425.6 1491.0 426.4 1495.1 427.2 1491.1 428.0 1495.2 428.8 1491.1 429.6 1495.0 430.4 1491.2 431.2 1495.3 432.0 1491.2 432.8 1494.9 433.6 1490.5 434.4 1496.1 435.2 1490.3 436.0 1495.9 436.8 1490.2 437.6 1495.0 438.4 1490.7 439.2 1495.4 440.0 1490.1 440.8 1494.9 441.6 1490.5 442.4 1495.9 443.2 1490.0 444.0 1495.4 444.8 1490.0 445.6 1495.3 446.4 1491.1 447.2 1495.5 448.0 1490.1 448.8 1495.8 449.6 1490.2 450.4 1495.0 451.2 1490.5 452.0 1495.0 452.8 1490.6 453.6 1495.0 454.4 1491.1 455.2 1495.7 456.0 1490.5 456.8 1495.3 457.6 1489.9 458.4 1494.8 459.2 1490.7 460.0 1495.3 460.8 1489.9 461.6 1495.2 462.4 1490.8 463.2 1494.7 464.0 1490.7 464.8 1495.0 465.6 1490.1 466.4 1495.7 467.2 1490.4 468.0 1495.6 468.8 1490.5 469.6 1495.4 470.4 1489.7 471.2 1494.4 472.0 1490.7 472.8 1494.7 473.6 1490.1 474.4 1495.0 475.2 1490.5 476.0 1495.5 476.8 1490.1 477.6 1495.3 478.4 1489.4 479.2 1495.1 480.0 1489.8 480.8 1491.0 481.5 1400.0 482.3 1300.0 483.0 1294.5 483.9 1281.1 484.8 1291.8 485.7 1280.5 486.6 1293.8 487.5 1281.8 488.4 1298.2 489.3 1287.7 490.2 1293.6 491.1 1278.7 492.0 1287.7 492.9 1281.6 493.8 1291.0 494.7 1278.7 495.6 1293.7 496.5 1275.9 497.4 1289.1 498.3 1275.3 499.2 1291.6 500.1 1280.5 501.0 1286.3 501.8 1273.9 502.7 1284.4 503.6 1278.2 504.5 1286.6 505.4 1272.3 506.3 1283.1 507.2 1277.4 508.1 1285.7 509.0 1277.6 509.9 1287.3 510.8 1268.8 511.7 1282.8 512.6 1266.4 513.5 1280.4 514.4 1266.6 515.3 1277.2 516.2 1262.1 517.1 1274.4 518.0 1266.8 518.9 1278.2 519.8 1263.6 520.7 1275.2 521.6 1264.7 522.5 1277.1 523.4 1262.4 524.3 1273.2 525.2 1260.2 526.1 1274.3 527.0 1261.2 527.9 1267.7 528.8 1255.2 529.7 1273.8 530.6 1260.1 531.5 1273.7 532.4 1256.9 533.3 1271.3 534.2 1257.8 535.1 1268.0 536.0 1253.1 536.9 1261.4 537.7 1250.5 538.6 1268.2 539.5 1252.8 540.4 1267.2 541.3 1258.8 542.2 1270.2 543.1 1258.8 544.0 1268.4 544.9 1253.6 545.8 1271.4 546.7 1251.3 547.6 1267.0 548.5 1252.0 549.4 1261.7 550.3 1248.2 551.2 1262.9 552.1 1246.8 553.0 1261.0 553.9 1247.7 554.8 1259.3 555.7 1242.0 556.6 1262.5 557.5 1242.2 558.4 1257.7 559.3 1241.6 560.2 1256.3 561.1 1248.1 562.0 1259.9 562.9 1252.0 563.8 1259.3 564.7 1242.4 565.6 1257.9 566.5 1240.3 567.4 1248.1 568.3 1232.5 569.2 1249.7 570.1 1239.6 571.0 1248.5 571.9 1232.4 572.8 1253.4 573.7 1238.6 574.5 1251.7 575.4 1237.4 576.3 1248.4 577.2 1232.8 578.1 1247.0 579.0 1233.5 579.9 1251.4 580.8 1231.7 581.7 1249.3 582.6 1233.5 583.5 1243.9 584.4 1237.8 585.3 1243.5 586.2 1236.8 587.1 1250.5 588.0 1230.6 588.9 1246.5 589.8 1231.5 590.7 1250.1 591.6 1230.7 592.5 1240.7 593.4 1226.0 594.3 1241.1 595.2 1226.0 596.1 1233.3 597.0 1218.6 597.9 1235.9 598.8 1221.4 599.7 1239.7 600.6 1223.1 601.5 1231.8 602.4 1217.0 603.3 1235.4 604.2 1217.4 605.1 1229.1 606.0 1221.1 606.9 1231.7 607.8 1226.5 608.7 1233.8 609.6 1219.2 610.4 1224.7 611.3 1217.1 612.2 1223.0 613.1 1213.6 614.0 1224.6 614.9 1209.5 615.8 1223.2 616.7 1211.5 617.6 1223.9 618.5 1210.5 619.4 1225.6 620.3 1217.1 621.2 1232.8 622.1 1220.7 623.0 1232.6 623.9 1218.8 624.8 1224.2 625.7 1214.3 626.6 1226.1 627.5 1216.8 628.4 1224.9" stroke="#ff00ff" stroke-width="1.6"/>
</g>
<path d="M124.25 1500.8h24M628.4 1500.8h-24M124.25 1405.08h24M628.4 1405.08h-24M124.25 1309.35h24M628.4 1309.35h-24M124.25 1213.62h24M628.4 1213.62h-24M124.25 1117.9h24M628.4 1117.9h-24M124.25 1452.94h12M628.4 1452.94h-12M124.25 1357.21h12M628.4 1357.21h-12M124.25 1261.49h12M628.4 1261.49h-12M124.25 1165.76h12M628.4 1165.76h-12M124.25 1500.8v-24M124.25 1117.9v24M292.3 1500.8v-24M292.3 1117.9v24M460.35 1500.8v-24M460.35 1117.9v24M628.4 1500.8v-24M628.4 1117.9v24M208.27 1500.8v-12M208.27 1117.9v12M376.32 1500.8v-12M376.32 1117.9v12M544.38 1500.8v-12M544.38 1117.9v12" stroke="#000" stroke-width="2" fill="none"/>
<rect x="124.25" y="1117.9" width="504.15" height="382.9" fill="none" stroke="#000" stroke-width="3.5"/>
<text x="114.7" y="1513.9" text-anchor="end" font-size="40">0</text>
<text x="114.7" y="1418.17" text-anchor="end" font-size="40">1</text>
<text x="114.7" y="1322.45" text-anchor="end" font-size="40">2</text>
<text x="114.7" y="1226.72" text-anchor="end" font-size="40">3</text>
<text x="114.7" y="1131" text-anchor="end" font-size="40">4</text>
<text x="124.25" y="1540.3" text-anchor="middle" font-size="40">0</text>
<text x="292.3" y="1540.3" text-anchor="middle" font-size="40">1</text>
<text x="460.35" y="1540.3" text-anchor="middle" font-size="40">2</text>
<text x="628.4" y="1540.3" text-anchor="middle" font-size="40">3</text>
<text x="376.32" y="1585.7" text-anchor="middle" font-size="48.5">Time (ns)</text>
<text transform="translate(73.45 1309.35) rotate(-90)" x="0" y="0" text-anchor="middle" font-size="48.5">Displacement (nm)</text>
<clipPath id="c3"><rect x="124.25" y="1654.6" width="504.15" height="383.90"/></clipPath><g clip-path="url(#c3)" fill="none" stroke-linejoin="round">
<path d="M124.2 2027.6 125.7 1985.7 127.1 1956.5 128.5 1950.1 129.9 1942.2 131.3 1935.2 132.7 1929.5 134.1 1926.8 135.5 1920.4 136.9 1914.3 138.3 1908.9 139.7 1907.9 141.1 1905.5 142.5 1912.6 143.9 1917.1 145.3 1917.5 146.7 1926.0 148.1 1928.7 149.5 1930.2 150.9 1932.2 152.3 1932.8 153.7 1929.4 155.1 1925.9 156.5 1932.0 157.9 1931.5 159.3 1928.8 160.7 1927.5 162.1 1926.6 163.5 1927.3 164.9 1931.6 166.3 1926.8 167.7 1931.2 169.1 1929.9 170.5 1934.5 171.9 1935.4 173.3 1941.8 174.7 1940.2 176.1 1938.8 177.5 1945.5 178.9 1950.0 180.3 1952.4 181.7 1957.6 183.1 1952.6 184.5 1956.6 185.9 1955.1 187.3 1951.4 188.7 1951.2 190.1 1950.6 191.5 1951.7 192.9 1948.2 194.3 1955.7 195.7 1953.1 197.1 1959.0 198.5 1956.4 199.9 1965.8 201.3 1966.2 202.7 1963.8 204.1 1960.3 205.5 1953.8 206.9 1950.1 208.3 1943.4 209.7 1935.9 211.1 1930.8 212.5 1936.1 213.9 1929.8 215.3 1932.7 216.7 1933.0 218.1 1928.3 219.5 1927.2 220.9 1923.5 222.3 1921.8 223.7 1928.0 225.1 1922.0 226.5 1923.6 227.9 1921.6 229.3 1922.6 230.7 1922.9 232.1 1922.5 233.5 1919.5 234.9 1920.6 236.3 1931.9 237.7 1931.8 239.1 1941.6 240.5 1943.6 241.9 1952.8 243.3 1946.6 244.7 1943.5 246.1 1937.3 247.5 1932.5 248.9 1923.3 250.3 1918.4 251.7 1921.3 253.1 1919.4 254.5 1918.1 255.9 1917.7 257.3 1910.1 258.7 1915.1 260.1 1910.0 261.5 1909.0 262.9 1905.9 264.3 1909.9 265.7 1904.9 267.1 1903.9 268.5 1898.7 269.9 1897.3 271.3 1898.4 272.7 1896.6 274.1 1907.4 275.5 1904.4 276.9 1906.2 278.3 1911.1 279.7 1911.4 281.1 1910.3 282.5 1913.1 283.9 1910.2 285.3 1913.9 286.7 1910.0 288.1 1902.9 289.5 1903.2 290.9 1906.8 292.3 1904.2 293.7 1907.7 295.1 1905.9 296.5 1912.4 297.9 1922.2 299.3 1921.9 300.7 1924.5 302.1 1933.7 303.5 1931.0 304.9 1937.4 306.3 1934.4 307.7 1925.8 309.1 1921.0 310.5 1919.2 311.9 1910.8 313.3 1903.8 314.7 1905.8 316.1 1902.3 317.5 1907.9 318.9 1906.4 320.3 1911.0 321.7 1912.4 323.1 1909.7 324.5 1906.3 325.9 1900.2 327.3 1897.2 328.7 1896.1 330.1 1888.1 331.5 1889.2 332.9 1886.9 334.3 1888.0 335.7 1889.1 337.1 1892.9 338.5 1893.6 339.9 1898.4 341.3 1901.8 342.7 1901.0 344.1 1895.6 345.5 1894.2 346.9 1893.4 348.3 1890.1 349.7 1889.9 351.1 1884.3 352.5 1885.8 353.9 1885.4 355.3 1883.5 356.7 1882.2 358.1 1889.4 359.5 1892.1 360.9 1895.9 362.3 1903.9 363.7 1905.1 365.1 1902.3 366.5 1899.8 367.9 1897.5 369.3 1895.3 370.7 1892.2 372.1 1886.7 373.5 1887.9 374.9 1892.3 376.3 1891.3 377.7 1890.9 379.1 1895.8 380.5 1897.8 381.9 1902.5 383.3 1895.3 384.7 1900.7 386.1 1896.8 387.5 1894.1 388.9 1888.4 390.3 1895.0 391.7 1888.2 393.1 1882.0 394.5 1875.8 395.9 1876.5 397.3 1875.8 398.7 1878.2 400.1 1887.3 401.5 1889.0 402.9 1884.8 404.3 1880.6 405.7 1877.6 407.1 1869.3 408.5 1862.7 409.9 1863.2 411.3 1857.6 412.7 1860.6 414.1 1844.9 415.5 1827.5 416.9 1811.6 418.3 1804.5 419.7 1798.1 421.1 1794.9 422.5 1792.6 423.9 1793.3 425.3 1793.4 426.7 1807.9 428.1 1805.3 429.5 1791.2 430.9 1778.7 432.3 1768.1 433.7 1751.8 435.1 1742.3 436.5 1753.9 437.9 1745.9 439.3 1736.6 440.7 1711.8 442.1 1698.0 443.5 1693.1 444.9 1692.1 446.3 1698.7 447.7 1704.6 449.1 1712.3 450.5 1723.0 451.9 1729.8 453.3 1716.5 454.7 1697.2 456.1 1693.6 457.5 1712.1 458.9 1729.1 460.4 1718.6 461.8 1712.8 463.2 1719.4 464.6 1743.1 466.0 1760.0 467.4 1749.9 468.8 1748.6 470.2 1742.7 471.6 1754.2 473.0 1764.7 474.4 1774.1 475.8 1782.1 477.2 1769.9 478.6 1756.5 480.0 1748.5 481.4 1748.3 482.8 1747.7 484.2 1745.1 485.6 1755.8 487.0 1763.1 488.4 1769.0 489.8 1781.0 491.2 1794.9 492.6 1795.8 494.0 1803.7 495.4 1805.4 496.8 1809.5 498.2 1812.9 499.6 1816.6 501.0 1827.2 502.4 1825.4 503.8 1818.2 505.2 1813.4 506.6 1810.1 508.0 1814.2 509.4 1819.1 510.8 1828.9 512.2 1824.9 513.6 1823.6 515.0 1819.0 516.4 1812.8 517.8 1808.3 519.2 1801.7 520.6 1801.0 522.0 1807.3 523.4 1819.3 524.8 1826.3 526.2 1837.0 527.6 1827.1 529.0 1821.7 530.4 1817.2 531.8 1815.6 533.2 1808.1 534.6 1801.7 536.0 1809.9 537.4 1824.1 538.8 1832.8 540.2 1822.6 541.6 1811.3 543.0 1805.9 544.4 1824.8 545.8 1836.5 547.2 1846.7 548.6 1845.7 550.0 1844.9 551.4 1845.1 552.8 1838.0 554.2 1833.7 555.6 1834.2 557.0 1829.2 558.4 1824.9 559.8 1826.2 561.2 1834.9 562.6 1839.6 564.0 1846.3 565.4 1838.1 566.8 1831.2 568.2 1817.4 569.6 1812.7 571.0 1800.9 572.4 1809.5 573.8 1817.0 575.2 1823.9 576.6 1834.8 578.0 1828.7 579.4 1823.8 580.8 1816.6 582.2 1816.8 583.6 1807.7 585.0 1808.2 586.4 1802.4 587.8 1806.8 589.2 1801.9 590.6 1800.9 592.0 1806.3 593.4 1812.0 594.8 1815.2 596.2 1815.0 597.6 1812.0 599.0 1807.1 600.4 1803.1 601.8 1797.0 603.2 1798.8 604.6 1806.8 606.0 1808.9 607.4 1821.1 608.8 1813.3 610.2 1816.0 611.6 1809.2 613.0 1808.9 614.4 1815.4 615.8 1820.2 617.2 1829.9 618.6 1831.8 620.0 1838.2 621.4 1835.0 622.8 1844.9 624.2 1843.8 625.6 1837.4 627.0 1830.5 628.4 1831.3" stroke="#000000" stroke-width="3.6"/>
<path d="M124.2 2025.8 125.7 1978.5 127.1 1950.9 128.5 1949.7 129.9 1941.6 131.3 1943.9 132.7 1937.7 134.1 1935.1 135.5 1929.6 136.9 1927.0 138.3 1926.2 139.7 1917.9 141.1 1929.1 142.5 1927.2 143.9 1925.4 145.3 1931.3 146.7 1927.9 148.1 1929.4 149.5 1925.1 150.9 1928.8 152.3 1927.1 153.7 1925.1 155.1 1927.0 156.5 1925.1 157.9 1919.3 159.3 1923.9 160.7 1923.7 162.1 1925.9 163.5 1925.2 164.9 1918.1 166.3 1922.3 167.7 1914.6 169.1 1918.4 170.5 1921.5 171.9 1919.0 173.3 1913.7 174.7 1920.7 176.1 1918.0 177.5 1918.0 178.9 1919.8 180.3 1921.3 181.7 1918.6 183.1 1920.7 184.5 1917.5 185.9 1919.5 187.3 1920.1 188.7 1920.8 190.1 1920.8 191.5 1918.3 192.9 1923.5 194.3 1922.1 195.7 1917.9 197.1 1916.7 198.5 1919.3 199.9 1916.2 201.3 1918.1 202.7 1917.0 204.1 1911.8 205.5 1907.0 206.9 1910.2 208.3 1908.8 209.7 1907.7 211.1 1902.3 212.5 1902.4 213.9 1906.3 215.3 1906.4 216.7 1908.6 218.1 1900.1 219.5 1902.7 220.9 1905.3 222.3 1901.1 223.7 1905.6 225.1 1907.3 226.5 1906.1 227.9 1906.5 229.3 1909.0 230.7 1911.7 232.1 1911.3 233.5 1907.4 234.9 1909.9 236.3 1905.4 237.7 1905.9 239.1 1903.8 240.5 1905.6 241.9 1904.2 243.3 1898.1 244.7 1899.2 246.1 1898.9 247.5 1896.9 248.9 1901.3 250.3 1901.0 251.7 1898.6 253.1 1903.3 254.5 1898.9 255.9 1897.5 257.3 1902.8 258.7 1899.0 260.1 1900.8 261.5 1897.4 262.9 1895.0 264.3 1897.1 265.7 1897.1 267.1 1894.2 268.5 1900.0 269.9 1889.2 271.3 1897.0 272.7 1897.3 274.1 1895.5 275.5 1896.4 276.9 1898.8 278.3 1894.3 279.7 1892.0 281.1 1893.1 282.5 1898.7 283.9 1896.9 285.3 1888.0 286.7 1893.4 288.1 1890.4 289.5 1897.0 290.9 1894.0 292.3 1885.1 293.7 1893.0 295.1 1886.1 296.5 1887.8 297.9 1885.1 299.3 1888.1 300.7 1887.9 302.1 1884.6 303.5 1885.9 304.9 1884.1 306.3 1891.4 307.7 1888.7 309.1 1883.2 310.5 1883.1 311.9 1884.8 313.3 1881.0 314.7 1886.3 316.1 1880.7 317.5 1883.9 318.9 1881.7 320.3 1885.1 321.7 1885.0 323.1 1883.0 324.5 1881.6 325.9 1881.1 327.3 1887.1 328.7 1883.3 330.1 1864.9 331.5 1863.1 332.9 1860.4 334.3 1864.5 335.7 1864.4 337.1 1864.2 338.5 1861.4 339.9 1862.4 341.3 1861.6 342.7 1865.4 344.1 1863.6 345.5 1862.1 346.9 1865.0 348.3 1861.8 349.7 1868.7 351.1 1862.4 352.5 1865.5 353.9 1859.3 355.3 1860.4 356.7 1863.8 358.1 1857.8 359.5 1858.8 360.9 1861.8 362.3 1858.3 363.7 1861.2 365.1 1860.2 366.5 1857.4 367.9 1854.0 369.3 1858.8 370.7 1857.5 372.1 1853.0 373.5 1854.1 374.9 1853.2 376.3 1850.4 377.7 1847.9 379.1 1846.9 380.5 1858.5 381.9 1856.9 383.3 1856.8 384.7 1860.0 386.1 1862.3 387.5 1869.9 388.9 1863.1 390.3 1865.1 391.7 1861.6 393.1 1859.7 394.5 1861.1 395.9 1863.3 397.3 1858.8 398.7 1857.4 400.1 1857.5 401.5 1854.8 402.9 1850.1 404.3 1854.1 405.7 1849.4 407.1 1855.2 408.5 1857.1 409.9 1862.1 411.3 1860.8 412.7 1869.3 414.1 1866.7 415.5 1866.4 416.9 1865.7 418.3 1866.7 419.7 1871.2 421.1 1867.7 422.5 1863.3 423.9 1866.9 425.3 1863.2 426.7 1857.5 428.1 1856.0 429.5 1860.0 430.9 1864.6 432.3 1866.2 433.7 1866.1 435.1 1865.5 436.5 1869.9 437.9 1869.2 439.3 1877.3 440.7 1868.7 442.1 1867.4 443.5 1873.2 444.9 1865.3 446.3 1865.8 447.7 1863.9 449.1 1866.3 450.5 1865.3 451.9 1862.7 453.3 1855.7 454.7 1852.2 456.1 1861.8 457.5 1851.5 458.9 1851.6 460.4 1859.1 461.8 1858.0 463.2 1857.5 464.6 1858.4 466.0 1862.3 467.4 1863.7 468.8 1861.1 470.2 1866.1 471.6 1861.5 473.0 1858.3 474.4 1863.5 475.8 1868.3 477.2 1863.3 478.6 1863.4 480.0 1858.8 481.4 1865.6 482.8 1861.5 484.2 1859.5 485.6 1861.3 487.0 1857.0 488.4 1861.4 489.8 1860.1 491.2 1862.2 492.6 1856.0 494.0 1862.9 495.4 1857.5 496.8 1858.7 498.2 1860.2 499.6 1860.3 501.0 1864.3 502.4 1862.7 503.8 1869.4 505.2 1872.3 506.6 1875.5 508.0 1879.3 509.4 1880.9 510.8 1884.8 512.2 1886.3 513.6 1887.1 515.0 1886.6 516.4 1891.4 517.8 1897.5 519.2 1893.2 520.6 1895.8 522.0 1893.3 523.4 1893.9 524.8 1884.0 526.2 1888.7 527.6 1881.9 529.0 1883.2 530.4 1878.1 531.8 1873.2 533.2 1871.8 534.6 1866.3 536.0 1865.4 537.4 1863.0 538.8 1856.3 540.2 1861.8 541.6 1853.5 543.0 1855.1 544.4 1855.2 545.8 1856.2 547.2 1852.1 548.6 1869.9 550.0 1873.1 551.4 1876.3 552.8 1874.7 554.2 1875.3 555.6 1873.5 557.0 1871.1 558.4 1867.3 559.8 1867.7 561.2 1865.5 562.6 1864.5 564.0 1875.0 565.4 1870.4 566.8 1870.0 568.2 1872.8 569.6 1873.2 571.0 1866.9 572.4 1869.0 573.8 1861.9 575.2 1860.9 576.6 1855.9 578.0 1860.5 579.4 1849.2 580.8 1851.9 582.2 1848.5 583.6 1850.2 585.0 1849.5 586.4 1850.9 587.8 1852.4 589.2 1859.4 590.6 1867.7 592.0 1868.2 593.4 1868.8 594.8 1873.5 596.2 1860.2 597.6 1862.7 599.0 1863.0 600.4 1858.1 601.8 1861.7 603.2 1856.0 604.6 1855.5 606.0 1856.4 607.4 1855.6 608.8 1858.9 610.2 1859.2 611.6 1857.9 613.0 1863.7 614.4 1859.2 615.8 1862.6 617.2 1861.9 618.6 1858.9 620.0 1853.9 621.4 1858.7 622.8 1851.3 624.2 1852.5 625.6 1850.2 627.0 1845.6 628.4 1844.6" stroke="#ff0000" stroke-width="3.4"/>
<path d="M124.2 2028.3 125.7 1974.6 127.1 1948.3 128.5 1942.1 129.9 1942.1 131.3 1935.7 132.7 1928.0 134.1 1929.0 135.5 1924.0 136.9 1918.4 138.3 1908.9 139.7 1909.7 141.1 1913.4 142.5 1911.0 143.9 1917.8 145.3 1915.3 146.7 1917.3 148.1 1916.3 149.5 1923.2 150.9 1917.9 152.3 1922.3 153.7 1923.5 155.1 1920.3 156.5 1913.3 157.9 1916.0 159.3 1910.2 160.7 1914.1 162.1 1909.0 163.5 1905.6 164.9 1906.4 166.3 1908.0 167.7 1906.2 169.1 1904.6 170.5 1907.3 171.9 1908.8 173.3 1907.2 174.7 1911.6 176.1 1905.3 177.5 1908.5 178.9 1908.2 180.3 1908.3 181.7 1911.6 183.1 1905.8 184.5 1910.7 185.9 1910.4 187.3 1909.3 188.7 1903.4 190.1 1904.7 191.5 1906.5 192.9 1911.2 194.3 1908.8 195.7 1907.0 197.1 1905.0 198.5 1905.0 199.9 1903.2 201.3 1908.1 202.7 1907.9 204.1 1905.9 205.5 1909.9 206.9 1908.0 208.3 1906.6 209.7 1905.0 211.1 1909.2 212.5 1907.9 213.9 1913.2 215.3 1909.3 216.7 1906.2 218.1 1911.6 219.5 1909.4 220.9 1909.2 222.3 1914.7 223.7 1908.9 225.1 1912.1 226.5 1911.2 227.9 1912.1 229.3 1915.1 230.7 1917.0 232.1 1914.3 233.5 1915.9 234.9 1912.2 236.3 1910.7 237.7 1910.3 239.1 1916.6 240.5 1914.0 241.9 1913.1 243.3 1913.1 244.7 1916.3 246.1 1914.6 247.5 1914.1 248.9 1913.3 250.3 1910.3 251.7 1917.2 253.1 1915.9 254.5 1914.2 255.9 1916.2 257.3 1914.1 258.7 1915.9 260.1 1915.5 261.5 1915.1 262.9 1915.8 264.3 1916.5 265.7 1916.8 267.1 1917.1 268.5 1918.4 269.9 1914.0 271.3 1915.1 272.7 1913.9 274.1 1918.6 275.5 1915.7 276.9 1914.0 278.3 1912.5 279.7 1917.3 281.1 1917.1 282.5 1911.4 283.9 1913.9 285.3 1914.6 286.7 1912.1 288.1 1918.6 289.5 1913.4 290.9 1911.3 292.3 1912.7 293.7 1913.6 295.1 1916.1 296.5 1914.3 297.9 1912.1 299.3 1913.3 300.7 1914.2 302.1 1914.4 303.5 1913.4 304.9 1913.6 306.3 1915.3 307.7 1915.8 309.1 1918.4 310.5 1919.4 311.9 1914.2 313.3 1912.8 314.7 1913.7 316.1 1906.0 317.5 1909.2 318.9 1903.9 320.3 1904.8 321.7 1897.6 323.1 1894.5 324.5 1889.8 325.9 1889.4 327.3 1891.7 328.7 1889.0 330.1 1899.6 331.5 1905.4 332.9 1910.6 334.3 1907.3 335.7 1910.3 337.1 1912.3 338.5 1911.9 339.9 1910.9 341.3 1917.3 342.7 1913.0 344.1 1913.7 345.5 1916.5 346.9 1914.3 348.3 1916.4 349.7 1915.3 351.1 1915.2 352.5 1918.5 353.9 1910.8 355.3 1913.1 356.7 1915.1 358.1 1911.5 359.5 1909.4 360.9 1909.0 362.3 1905.6 363.7 1907.7 365.1 1903.0 366.5 1902.3 367.9 1903.4 369.3 1902.5 370.7 1901.0 372.1 1899.5 373.5 1899.5 374.9 1900.7 376.3 1903.2 377.7 1904.7 379.1 1906.1 380.5 1904.9 381.9 1908.5 383.3 1912.6 384.7 1909.9 386.1 1908.0 387.5 1904.8 388.9 1908.3 390.3 1904.7 391.7 1902.4 393.1 1894.8 394.5 1897.7 395.9 1891.9 397.3 1895.6 398.7 1889.3 400.1 1891.0 401.5 1887.2 402.9 1880.2 404.3 1881.5 405.7 1883.3 407.1 1884.4 408.5 1888.1 409.9 1887.3 411.3 1893.0 412.7 1892.5 414.1 1894.9 415.5 1897.1 416.9 1896.8 418.3 1897.4 419.7 1894.8 421.1 1894.0 422.5 1892.8 423.9 1899.5 425.3 1891.7 426.7 1884.8 428.1 1884.7 429.5 1874.9 430.9 1869.8 432.3 1871.3 433.7 1876.1 435.1 1874.7 436.5 1884.3 437.9 1883.0 439.3 1882.6 440.7 1886.8 442.1 1892.2 443.5 1894.4 444.9 1890.4 446.3 1884.9 447.7 1880.9 449.1 1883.6 450.5 1880.2 451.9 1877.3 453.3 1872.5 454.7 1867.7 456.1 1869.9 457.5 1867.8 458.9 1860.9 460.4 1859.3 461.8 1857.9 463.2 1858.8 464.6 1848.0 466.0 1841.5 467.4 1847.2 468.8 1847.2 470.2 1856.1 471.6 1867.4 473.0 1873.1 474.4 1878.6 475.8 1887.0 477.2 1888.0 478.6 1897.2 480.0 1895.4 481.4 1897.6 482.8 1889.4 484.2 1881.2 485.6 1878.9 487.0 1878.9 488.4 1885.6 489.8 1890.4 491.2 1892.6 492.6 1897.7 494.0 1900.6 495.4 1896.0 496.8 1895.1 498.2 1896.1 499.6 1891.1 501.0 1890.0 502.4 1889.4 503.8 1884.3 505.2 1884.3 506.6 1886.9 508.0 1882.3 509.4 1877.4 510.8 1875.9 512.2 1878.1 513.6 1875.7 515.0 1881.9 516.4 1879.8 517.8 1882.2 519.2 1883.1 520.6 1891.1 522.0 1886.3 523.4 1895.4 524.8 1901.5 526.2 1893.7 527.6 1893.2 529.0 1892.2 530.4 1890.7 531.8 1884.6 533.2 1890.2 534.6 1897.3 536.0 1898.1 537.4 1899.0 538.8 1899.5 540.2 1903.1 541.6 1902.8 543.0 1903.0 544.4 1905.5 545.8 1910.0 547.2 1909.1 548.6 1906.1 550.0 1905.2 551.4 1910.8 552.8 1907.4 554.2 1909.8 555.6 1907.3 557.0 1905.0 558.4 1907.0 559.8 1898.6 561.2 1896.8 562.6 1888.8 564.0 1887.9 565.4 1890.8 566.8 1893.4 568.2 1899.6 569.6 1905.0 571.0 1904.7 572.4 1904.1 573.8 1903.3 575.2 1900.0 576.6 1902.7 578.0 1903.0 579.4 1901.5 580.8 1901.8 582.2 1901.7 583.6 1903.9 585.0 1904.9 586.4 1905.7 587.8 1906.5 589.2 1914.0 590.6 1907.6 592.0 1910.8 593.4 1907.4 594.8 1902.5 596.2 1900.8 597.6 1898.3 599.0 1899.4 600.4 1894.8 601.8 1897.7 603.2 1899.7 604.6 1900.3 606.0 1905.4 607.4 1898.9 608.8 1900.1 610.2 1907.8 611.6 1911.4 613.0 1908.6 614.4 1907.1 615.8 1905.0 617.2 1900.9 618.6 1898.5 620.0 1895.7 621.4 1892.2 622.8 1892.7 624.2 1892.5 625.6 1892.9 627.0 1891.6 628.4 1896.8" stroke="#00ff00" stroke-width="3.4"/>
<path d="M124.2 2028.8 125.7 1986.6 127.1 1963.3 128.5 1957.5 129.9 1960.1 131.3 1949.7 132.7 1946.4 134.1 1942.2 135.5 1943.3 136.9 1935.8 138.3 1940.6 139.7 1935.6 141.1 1939.4 142.5 1942.3 143.9 1935.1 145.3 1928.8 146.7 1938.4 148.1 1938.2 149.5 1936.2 150.9 1936.2 152.3 1939.1 153.7 1931.1 155.1 1934.6 156.5 1938.8 157.9 1931.9 159.3 1932.6 160.7 1931.9 162.1 1934.2 163.5 1926.7 164.9 1929.1 166.3 1931.7 167.7 1932.0 169.1 1925.0 170.5 1928.5 171.9 1926.1 173.3 1927.0 174.7 1929.2 176.1 1920.5 177.5 1921.5 178.9 1922.2 180.3 1916.8 181.7 1917.0 183.1 1922.1 184.5 1928.4 185.9 1931.3 187.3 1933.8 188.7 1939.1 190.1 1941.8 191.5 1942.3 192.9 1938.1 194.3 1938.5 195.7 1945.4 197.1 1939.3 198.5 1946.8 199.9 1946.8 201.3 1943.9 202.7 1945.4 204.1 1945.3 205.5 1941.1 206.9 1938.3 208.3 1940.5 209.7 1938.8 211.1 1938.5 212.5 1931.4 213.9 1933.4 215.3 1930.9 216.7 1931.9 218.1 1927.1 219.5 1923.8 220.9 1926.0 222.3 1919.3 223.7 1919.7 225.1 1920.4 226.5 1922.5 227.9 1914.4 229.3 1915.5 230.7 1911.8 232.1 1901.4 233.5 1901.2 234.9 1892.3 236.3 1886.7 237.7 1883.6 239.1 1888.7 240.5 1897.6 241.9 1913.1 243.3 1916.1 244.7 1919.9 246.1 1921.7 247.5 1919.9 248.9 1917.4 250.3 1925.6 251.7 1921.0 253.1 1921.1 254.5 1924.1 255.9 1925.5 257.3 1924.8 258.7 1922.6 260.1 1926.1 261.5 1922.0 262.9 1925.1 264.3 1923.6 265.7 1922.0 267.1 1926.4 268.5 1926.0 269.9 1923.5 271.3 1923.5 272.7 1925.3 274.1 1927.6 275.5 1928.7 276.9 1923.8 278.3 1926.8 279.7 1927.8 281.1 1922.3 282.5 1924.9 283.9 1921.3 285.3 1924.8 286.7 1926.9 288.1 1925.9 289.5 1927.4 290.9 1925.3 292.3 1922.1 293.7 1925.0 295.1 1928.9 296.5 1921.9 297.9 1930.8 299.3 1924.9 300.7 1924.8 302.1 1922.7 303.5 1928.9 304.9 1916.9 306.3 1926.4 307.7 1928.9 309.1 1925.4 310.5 1925.8 311.9 1930.3 313.3 1921.8 314.7 1927.2 316.1 1922.9 317.5 1925.1 318.9 1928.4 320.3 1923.0 321.7 1925.4 323.1 1921.2 324.5 1923.1 325.9 1924.4 327.3 1923.7 328.7 1921.0 330.1 1920.9 331.5 1921.7 332.9 1920.4 334.3 1919.8 335.7 1927.2 337.1 1922.3 338.5 1919.5 339.9 1930.1 341.3 1924.1 342.7 1921.1 344.1 1922.9 345.5 1921.5 346.9 1926.0 348.3 1926.1 349.7 1918.5 351.1 1920.1 352.5 1922.9 353.9 1917.0 355.3 1915.7 356.7 1912.7 358.1 1913.2 359.5 1910.3 360.9 1905.9 362.3 1901.6 363.7 1904.7 365.1 1905.0 366.5 1908.2 367.9 1909.3 369.3 1909.6 370.7 1913.5 372.1 1911.7 373.5 1905.2 374.9 1904.8 376.3 1899.7 377.7 1896.2 379.1 1893.0 380.5 1887.0 381.9 1886.1 383.3 1883.0 384.7 1894.6 386.1 1894.9 387.5 1899.0 388.9 1897.8 390.3 1904.8 391.7 1905.2 393.1 1909.5 394.5 1907.0 395.9 1901.7 397.3 1890.7 398.7 1893.5 400.1 1894.1 401.5 1895.2 402.9 1910.5 404.3 1906.6 405.7 1912.7 407.1 1914.7 408.5 1907.8 409.9 1906.9 411.3 1909.4 412.7 1904.6 414.1 1904.8 415.5 1905.7 416.9 1902.2 418.3 1899.9 419.7 1900.4 421.1 1896.3 422.5 1901.2 423.9 1909.6 425.3 1908.4 426.7 1906.2 428.1 1903.6 429.5 1906.9 430.9 1909.2 432.3 1905.2 433.7 1912.4 435.1 1905.5 436.5 1907.0 437.9 1907.5 439.3 1909.0 440.7 1907.4 442.1 1915.0 443.5 1903.8 444.9 1909.5 446.3 1909.3 447.7 1904.3 449.1 1906.6 450.5 1904.4 451.9 1903.5 453.3 1905.7 454.7 1908.0 456.1 1901.7 457.5 1904.0 458.9 1901.3 460.4 1896.9 461.8 1899.1 463.2 1899.0 464.6 1904.7 466.0 1898.2 467.4 1896.2 468.8 1897.2 470.2 1897.9 471.6 1897.5 473.0 1904.5 474.4 1901.9 475.8 1909.3 477.2 1908.5 478.6 1910.2 480.0 1910.1 481.4 1910.5 482.8 1908.8 484.2 1908.8 485.6 1907.1 487.0 1909.2 488.4 1906.5 489.8 1902.6 491.2 1908.4 492.6 1904.7 494.0 1909.1 495.4 1906.9 496.8 1907.1 498.2 1907.5 499.6 1905.0 501.0 1910.7 502.4 1913.8 503.8 1905.8 505.2 1906.9 506.6 1904.7 508.0 1901.4 509.4 1900.7 510.8 1905.0 512.2 1903.7 513.6 1899.1 515.0 1904.3 516.4 1902.3 517.8 1903.7 519.2 1905.8 520.6 1912.7 522.0 1912.3 523.4 1911.4 524.8 1917.3 526.2 1915.4 527.6 1911.4 529.0 1906.1 530.4 1906.9 531.8 1905.9 533.2 1908.0 534.6 1906.5 536.0 1906.6 537.4 1903.3 538.8 1904.6 540.2 1913.9 541.6 1910.4 543.0 1914.3 544.4 1910.9 545.8 1911.2 547.2 1911.4 548.6 1914.1 550.0 1913.8 551.4 1901.7 552.8 1896.2 554.2 1891.8 555.6 1882.4 557.0 1879.5 558.4 1875.5 559.8 1881.0 561.2 1885.8 562.6 1890.6 564.0 1891.0 565.4 1892.5 566.8 1891.0 568.2 1888.6 569.6 1885.3 571.0 1891.2 572.4 1889.3 573.8 1892.1 575.2 1895.4 576.6 1895.4 578.0 1899.7 579.4 1901.7 580.8 1904.0 582.2 1901.3 583.6 1896.2 585.0 1897.5 586.4 1901.0 587.8 1898.3 589.2 1896.4 590.6 1889.6 592.0 1877.5 593.4 1871.5 594.8 1880.5 596.2 1883.6 597.6 1893.1 599.0 1886.5 600.4 1880.1 601.8 1882.8 603.2 1877.6 604.6 1879.8 606.0 1878.2 607.4 1880.2 608.8 1883.8 610.2 1888.5 611.6 1879.8 613.0 1877.3 614.4 1873.8 615.8 1870.3 617.2 1861.3 618.6 1860.2 620.0 1862.3 621.4 1864.9 622.8 1871.3 624.2 1872.4 625.6 1875.4 627.0 1870.2 628.4 1864.2" stroke="#0000ff" stroke-width="3.2"/>
<path d="M124.2 2038.0 125.1 2012.2 125.9 1994.2 126.7 1979.0 127.5 1977.2 128.3 1970.5 129.1 1969.3 129.9 1962.5 130.7 1960.7 131.5 1957.4 132.3 1958.7 133.1 1955.3 133.9 1957.0 134.7 1954.9 135.5 1956.3 136.3 1952.9 137.1 1954.8 137.9 1952.8 138.7 1954.3 139.5 1951.3 140.3 1952.8 141.1 1950.1 141.9 1952.0 142.7 1948.7 143.5 1951.0 144.3 1948.5 145.1 1950.0 145.9 1947.1 146.7 1948.9 147.5 1945.7 148.3 1946.8 149.1 1943.9 149.9 1945.1 150.7 1943.4 151.5 1945.4 152.3 1944.0 153.1 1946.5 153.9 1944.3 154.7 1947.9 155.5 1946.2 156.3 1949.0 157.1 1946.8 157.9 1949.8 158.7 1948.0 159.5 1950.5 160.3 1948.0 161.1 1949.9 161.9 1948.0 162.7 1950.0 163.5 1948.2 164.3 1950.0 165.1 1948.5 165.9 1950.5 166.7 1949.1 167.5 1951.9 168.3 1950.1 169.1 1952.6 169.9 1949.5 170.7 1951.9 171.5 1948.7 172.3 1950.1 173.1 1947.6 173.9 1948.5 174.7 1945.2 175.5 1948.0 176.3 1945.4 177.1 1947.8 177.9 1946.0 178.7 1948.0 179.5 1945.8 180.3 1947.6 181.1 1944.9 181.9 1947.5 182.7 1944.4 183.5 1946.1 184.3 1943.8 185.1 1944.8 185.9 1942.6 186.7 1943.7 187.5 1940.2 188.3 1941.7 189.1 1937.8 189.9 1939.2 190.7 1937.9 191.5 1940.1 192.3 1938.2 193.1 1940.5 193.9 1938.8 194.7 1941.0 195.5 1939.0 196.3 1941.9 197.1 1939.4 197.9 1942.2 198.7 1939.6 199.5 1942.0 200.3 1938.9 201.1 1940.5 201.9 1937.4 202.7 1939.6 203.5 1937.8 204.3 1940.0 205.1 1937.5 205.9 1939.7 206.7 1938.1 207.5 1940.7 208.3 1938.8 209.1 1941.4 209.9 1939.6 210.7 1942.1 211.5 1939.4 212.3 1940.1 213.1 1937.8 213.9 1938.7 214.7 1936.4 215.5 1938.7 216.3 1936.7 217.1 1939.6 217.9 1936.9 218.7 1939.1 219.5 1936.2 220.3 1938.6 221.1 1935.9 221.9 1938.7 222.7 1936.7 223.5 1938.3 224.3 1935.3 225.1 1936.8 225.9 1934.8 226.7 1936.3 227.5 1934.1 228.3 1937.1 229.1 1934.7 229.9 1936.8 230.7 1934.2 231.5 1936.5 232.3 1934.4 233.1 1936.4 233.9 1934.8 234.7 1937.7 235.5 1936.3 236.3 1938.9 237.1 1937.1 237.9 1939.0 238.7 1936.1 239.5 1937.5 240.3 1935.0 241.1 1936.7 241.9 1933.7 242.7 1935.9 243.5 1934.1 244.3 1936.0 245.1 1932.9 245.9 1935.0 246.7 1932.6 247.5 1934.1 248.3 1932.0 249.1 1933.7 249.9 1931.7 250.7 1934.5 251.5 1932.7 252.3 1935.7 253.1 1933.9 253.9 1934.8 254.7 1931.8 255.5 1934.1 256.3 1931.7 257.1 1932.7 257.9 1930.4 258.7 1933.0 259.5 1930.2 260.3 1932.9 261.1 1930.6 261.9 1933.1 262.7 1929.9 263.5 1931.0 264.3 1927.7 265.1 1929.9 265.9 1927.9 266.7 1930.5 267.5 1929.1 268.3 1931.6 269.1 1929.5 269.9 1931.2 270.7 1929.1 271.5 1931.6 272.3 1929.6 273.1 1932.1 273.9 1930.2 274.7 1932.0 275.5 1929.5 276.3 1931.2 277.1 1929.2 277.9 1931.6 278.7 1929.1 279.5 1930.6 280.3 1928.4 281.1 1930.7 281.9 1928.4 282.7 1929.9 283.5 1927.7 284.3 1929.4 285.1 1927.1 285.9 1928.8 286.7 1927.0 287.5 1929.4 288.3 1926.7 289.1 1928.7 289.9 1927.1 290.7 1928.7 291.5 1926.7 292.3 1928.8 293.1 1927.3 293.9 1929.3 294.7 1927.1 295.5 1928.5 296.3 1926.3 297.1 1928.4 297.9 1926.1 298.7 1928.5 299.5 1926.8 300.3 1929.9 301.1 1926.9 301.9 1928.7 302.7 1926.6 303.5 1927.7 304.3 1926.2 305.1 1929.0 305.9 1926.5 306.7 1929.1 307.5 1927.2 308.3 1929.5 309.1 1927.5 309.9 1929.7 310.7 1928.6 311.5 1931.6 312.3 1929.5 313.1 1930.5 313.9 1928.3 314.7 1930.1 315.5 1927.0 316.3 1929.2 317.1 1926.8 317.9 1927.8 318.7 1926.9 319.5 1929.9 320.3 1928.7 321.1 1931.9 321.9 1929.7 322.7 1930.7 323.5 1928.8 324.3 1930.5 325.1 1927.5 325.9 1929.5 326.7 1927.1 327.5 1928.8 328.3 1925.7 329.1 1927.3 329.9 1925.2 330.7 1927.2 331.5 1924.5 332.3 1927.0 333.1 1924.6 333.9 1927.5 334.7 1925.9 335.5 1927.7 336.3 1925.9 337.1 1927.9 337.9 1926.4 338.7 1928.5 339.5 1926.6 340.3 1928.6 341.1 1925.6 341.9 1927.8 342.7 1925.9 343.5 1927.9 344.3 1926.1 345.1 1929.1 345.9 1926.1 346.7 1928.5 347.5 1925.8 348.3 1927.8 349.1 1925.6 349.9 1927.8 350.7 1925.8 351.5 1928.0 352.3 1925.7 353.1 1927.2 353.9 1925.3 354.7 1928.5 355.5 1926.5 356.3 1930.5 357.1 1928.2 357.9 1930.3 358.7 1927.2 359.5 1928.3 360.3 1926.7 361.1 1929.5 361.9 1927.7 362.7 1930.6 363.5 1928.9 364.3 1931.9 365.1 1930.3 365.9 1933.5 366.7 1931.4 367.5 1933.5 368.3 1931.1 369.1 1933.3 369.9 1930.1 370.7 1931.8 371.5 1928.3 372.3 1930.6 373.1 1928.4 373.9 1930.9 374.7 1929.5 375.5 1930.9 376.3 1927.5 377.1 1928.8 377.9 1925.4 378.7 1927.4 379.5 1924.4 380.3 1926.6 381.1 1923.5 381.9 1925.9 382.7 1923.6 383.5 1926.2 384.3 1923.4 385.1 1925.5 385.9 1923.3 386.7 1924.9 387.5 1923.0 388.3 1926.4 389.1 1924.1 389.9 1926.3 390.7 1923.6 391.5 1924.4 392.3 1921.1 393.1 1922.9 393.9 1920.5 394.7 1921.7 395.5 1918.6 396.3 1920.4 397.1 1918.3 397.9 1919.6 398.7 1917.0 399.5 1919.0 400.3 1917.7 401.1 1919.1 401.9 1917.8 402.7 1919.8 403.5 1917.1 404.3 1919.3 405.1 1916.9 405.9 1919.0 406.7 1915.9 407.5 1917.5 408.3 1915.3 409.1 1917.3 409.9 1915.0 410.7 1917.3 411.5 1914.7 412.3 1916.9 413.1 1914.3 413.9 1916.2 414.7 1914.9 415.5 1916.8 416.3 1914.7 417.1 1917.2 417.9 1914.2 418.7 1915.4 419.5 1912.7 420.3 1914.9 421.1 1913.2 421.9 1915.4 422.7 1913.0 423.5 1914.4 424.3 1912.1 425.1 1914.5 425.9 1912.2 426.7 1914.7 427.5 1912.6 428.3 1915.0 429.1 1912.9 429.9 1916.6 430.7 1914.7 431.5 1917.6 432.3 1915.1 433.1 1916.8 433.9 1915.2 434.7 1916.8 435.5 1914.3 436.3 1916.8 437.1 1914.7 437.9 1917.0 438.7 1915.1 439.5 1917.2 440.3 1914.9 441.1 1917.6 441.9 1915.7 442.7 1918.5 443.5 1916.9 444.3 1920.7 445.1 1919.7 445.9 1922.4 446.7 1921.1 447.5 1924.2 448.3 1922.4 449.1 1924.5 449.9 1922.6 450.7 1925.8 451.5 1924.4 452.3 1926.8 453.1 1924.5 453.9 1926.6 454.7 1925.1 455.5 1927.1 456.3 1924.4 457.1 1925.9 457.9 1923.8 458.7 1925.4 459.5 1923.8 460.3 1925.5 461.2 1923.0 462.0 1925.1 462.8 1922.9 463.6 1925.1 464.4 1922.8 465.2 1924.6 466.0 1922.8 466.8 1925.5 467.6 1922.9 468.4 1925.0 469.2 1922.6 470.0 1924.8 470.8 1921.8 471.6 1923.9 472.4 1922.0 473.2 1924.5 474.0 1921.7 474.8 1924.3 475.6 1921.7 476.4 1923.8 477.2 1921.8 478.0 1924.7 478.8 1922.9 479.6 1924.7 480.4 1922.2 481.2 1924.4 482.0 1921.6 482.8 1923.9 483.6 1921.9 484.4 1924.9 485.2 1922.5 486.0 1924.3 486.8 1921.4 487.6 1922.5 488.4 1920.2 489.2 1923.0 490.0 1921.6 490.8 1924.6 491.6 1923.4 492.4 1925.9 493.2 1923.7 494.0 1926.4 494.8 1923.6 495.6 1925.8 496.4 1923.5 497.2 1925.8 498.0 1922.8 498.8 1925.3 499.6 1922.7 500.4 1925.0 501.2 1922.8 502.0 1925.3 502.8 1923.4 503.6 1925.5 504.4 1923.7 505.2 1925.4 506.0 1923.8 506.8 1925.6 507.6 1923.6 508.4 1924.9 509.2 1922.4 510.0 1924.4 510.8 1922.4 511.6 1924.4 512.4 1922.4 513.2 1924.2 514.0 1921.8 514.8 1924.5 515.6 1922.1 516.4 1924.7 517.2 1922.0 518.0 1925.1 518.8 1922.6 519.6 1924.2 520.4 1922.8 521.2 1924.2 522.0 1921.8 522.8 1923.8 523.6 1921.1 524.4 1922.8 525.2 1920.6 526.0 1922.4 526.8 1920.7 527.6 1922.7 528.4 1920.7 529.2 1922.9 530.0 1920.9 530.8 1922.9 531.6 1920.6 532.4 1923.6 533.2 1921.4 534.0 1923.2 534.8 1921.6 535.6 1924.8 536.4 1922.5 537.2 1925.6 538.0 1923.4 538.8 1926.6 539.6 1925.0 540.4 1927.6 541.2 1926.4 542.0 1929.0 542.8 1926.7 543.6 1929.1 544.4 1926.8 545.2 1929.3 546.0 1926.7 546.8 1928.7 547.6 1925.8 548.4 1928.1 549.2 1925.9 550.0 1928.2 550.8 1925.6 551.6 1928.7 552.4 1927.0 553.2 1929.9 554.0 1928.1 554.8 1930.0 555.6 1927.3 556.4 1929.7 557.2 1927.5 558.0 1929.6 558.8 1927.5 559.6 1929.8 560.4 1926.9 561.2 1928.9 562.0 1926.8 562.8 1928.3 563.6 1925.8 564.4 1928.4 565.2 1926.5 566.0 1929.2 566.8 1928.0 567.6 1931.6 568.4 1930.4 569.2 1933.5 570.0 1929.8 570.8 1932.3 571.6 1929.2 572.4 1931.1 573.2 1929.5 574.0 1932.2 574.8 1929.8 575.6 1932.4 576.4 1930.8 577.2 1933.6 578.0 1931.3 578.8 1932.5 579.6 1929.1 580.4 1930.8 581.2 1927.8 582.0 1928.7 582.8 1926.3 583.6 1927.3 584.4 1925.6 585.2 1927.3 586.0 1925.9 586.8 1927.7 587.6 1925.4 588.4 1927.2 589.2 1924.6 590.0 1926.5 590.8 1923.8 591.6 1926.0 592.4 1923.7 593.2 1926.3 594.0 1923.7 594.8 1926.2 595.6 1924.1 596.4 1926.5 597.2 1924.0 598.0 1925.4 598.8 1923.3 599.6 1925.9 600.4 1923.3 601.2 1926.1 602.0 1924.5 602.8 1927.2 603.6 1924.6 604.4 1927.2 605.2 1925.5 606.0 1928.2 606.8 1926.3 607.6 1928.6 608.4 1925.9 609.2 1928.9 610.0 1926.4 610.8 1928.9 611.6 1926.8 612.4 1929.6 613.2 1927.7 614.0 1929.3 614.8 1926.5 615.6 1928.5 616.4 1926.4 617.2 1928.8 618.0 1926.1 618.8 1928.3 619.6 1926.3 620.4 1927.6 621.2 1925.8 622.0 1928.3 622.8 1925.0 623.6 1927.9 624.4 1925.4 625.2 1926.9 626.0 1924.6 626.8 1925.9 627.6 1923.5 628.4 1925.9" stroke="#ffa500" stroke-width="2.0"/>
<path d="M124.2 2037.4 125.1 2014.6 125.9 2007.5 126.7 2002.7 127.5 2005.1 128.3 2003.3 129.1 2005.4 129.9 2003.2 130.7 2004.9 131.5 2003.5 132.3 2005.3 133.1 2003.1 133.9 2005.0 134.7 2002.5 135.5 2004.2 136.3 2001.5 137.1 2003.6 137.9 2001.3 138.7 2003.8 139.5 2001.9 140.3 2004.2 141.1 2002.0 141.9 2004.7 142.7 2002.9 143.5 2004.9 144.3 2002.8 145.1 2004.7 145.9 2003.0 146.7 2004.9 147.5 2002.6 148.3 2003.9 149.1 2001.4 149.9 2004.4 150.7 2001.7 151.5 2003.7 152.3 2001.3 153.1 2004.1 153.9 2001.8 154.7 2003.8 155.5 2001.4 156.3 2003.3 157.1 2001.1 157.9 2003.2 158.7 2000.4 159.5 2002.7 160.3 2000.7 161.1 2002.6 161.9 1999.9 162.7 2002.2 163.5 2000.0 164.3 2002.2 165.1 1999.8 165.9 2002.0 166.7 1999.2 167.5 2001.8 168.3 1998.8 169.1 2001.1 169.9 1998.9 170.7 2000.8 171.5 1998.8 172.3 2000.7 173.1 1998.2 173.9 2000.4 174.7 1998.8 175.5 1999.9 176.3 1998.2 177.1 1999.6 177.9 1997.3 178.7 1999.5 179.5 1998.4 180.3 2000.3 181.1 1998.8 181.9 1999.9 182.7 1998.0 183.5 1999.7 184.3 1997.5 185.1 1998.8 185.9 1996.9 186.7 1998.5 187.5 1997.0 188.3 1999.6 189.1 1997.9 189.9 2001.2 190.7 1998.1 191.5 2000.0 192.3 1997.7 193.1 1999.7 193.9 1996.9 194.7 1998.7 195.5 1995.8 196.3 1998.4 197.1 1995.8 197.9 1998.4 198.7 1996.1 199.5 1998.9 200.3 1997.1 201.1 1999.4 201.9 1998.3 202.7 2000.0 203.5 1997.4 204.3 1999.9 205.1 1997.2 205.9 2000.0 206.7 1997.9 207.5 2000.9 208.3 1998.2 209.1 2000.5 209.9 1998.6 210.7 2000.4 211.5 1998.2 212.3 2000.5 213.1 1999.4 213.9 2002.1 214.7 1999.7 215.5 2001.5 216.3 1998.5 217.1 2000.9 217.9 1999.6 218.7 2002.0 219.5 2000.5 220.3 2002.7 221.1 2001.4 221.9 2002.9 222.7 2000.7 223.5 2002.7 224.3 2000.8 225.1 2003.0 225.9 2000.8 226.7 2003.2 227.5 2000.9 228.3 2003.4 229.1 2000.9 229.9 2003.7 230.7 2001.3 231.5 2003.5 232.3 2001.6 233.1 2003.2 233.9 2001.2 234.7 2003.0 235.5 2000.6 236.3 2001.9 237.1 1999.8 237.9 2001.4 238.7 1999.8 239.5 2002.1 240.3 2000.5 241.1 2002.5 241.9 2000.9 242.7 2002.7 243.5 2000.5 244.3 2002.8 245.1 2000.7 245.9 2003.0 246.7 2000.6 247.5 2003.1 248.3 2000.7 249.1 2002.5 249.9 2000.4 250.7 2002.1 251.5 1999.4 252.3 2001.6 253.1 1998.8 253.9 2001.3 254.7 1999.6 255.5 2002.6 256.3 2000.0 257.1 2001.1 257.9 1999.5 258.7 2000.9 259.5 1999.2 260.3 2001.3 261.1 1999.2 261.9 2001.5 262.7 1999.7 263.5 2001.5 264.3 1999.1 265.1 2000.8 265.9 1999.3 266.7 2001.4 267.5 2000.4 268.3 2001.7 269.1 1999.1 269.9 2001.1 270.7 1999.1 271.5 2001.5 272.3 1998.9 273.1 2001.1 273.9 1999.4 274.7 2001.4 275.5 1999.4 276.3 2000.6 277.1 1998.9 277.9 2001.5 278.7 1999.3 279.5 2001.9 280.3 2000.8 281.1 2002.9 281.9 2000.7 282.7 2003.3 283.5 2001.6 284.3 2003.9 285.1 2002.1 285.9 2003.9 286.7 2001.2 287.5 2003.3 288.3 2000.5 289.1 2003.5 289.9 2001.7 290.7 2004.2 291.5 2002.0 292.3 2004.5 293.1 2001.5 293.9 2003.9 294.7 2001.7 295.5 2003.2 296.3 2001.2 297.1 2003.0 297.9 2001.1 298.7 2003.4 299.5 2001.9 300.3 2004.6 301.1 2002.5 301.9 2004.8 302.7 2002.5 303.5 2004.5 304.3 2002.7 305.1 2004.5 305.9 2001.7 306.7 2003.3 307.5 2001.3 308.3 2002.5 309.1 2000.8 309.9 2003.3 310.7 2001.2 311.5 2004.3 312.3 2002.8 313.1 2004.4 313.9 2002.0 314.7 2003.8 315.5 2001.1 316.3 2003.6 317.1 2001.5 317.9 2003.0 318.7 2001.0 319.5 2003.4 320.3 2001.1 321.1 2004.0 321.9 2001.3 322.7 2003.0 323.5 2000.4 324.3 2002.4 325.1 2000.1 325.9 2001.9 326.7 1999.2 327.5 2000.5 328.3 1998.5 329.1 2001.3 329.9 1998.9 330.7 2001.8 331.5 1999.6 332.3 2001.8 333.1 1999.5 333.9 2001.3 334.7 1999.8 335.5 2001.8 336.3 1999.8 337.1 2001.3 337.9 1999.2 338.7 2000.4 339.5 1998.6 340.3 1999.9 341.1 1998.2 341.9 1999.9 342.7 1998.0 343.5 1999.7 344.3 1997.6 345.1 1999.0 345.9 1996.7 346.7 1999.1 347.5 1996.6 348.3 1998.8 349.1 1996.7 349.9 1998.7 350.7 1996.9 351.5 1999.2 352.3 1997.4 353.1 1999.5 353.9 1997.1 354.7 1998.4 355.5 1996.5 356.3 1997.7 357.1 1995.2 357.9 1998.0 358.7 1996.2 359.5 1998.2 360.3 1996.3 361.1 1998.4 361.9 1995.9 362.7 1997.4 363.5 1995.9 364.3 1998.4 365.1 1996.4 365.9 1998.9 366.7 1996.7 367.5 1997.9 368.3 1996.0 369.1 1997.1 369.9 1995.3 370.7 1997.6 371.5 1995.5 372.3 1997.1 373.1 1995.6 373.9 1997.8 374.7 1996.3 375.5 1998.5 376.3 1997.4 377.1 2000.0 377.9 1998.3 378.7 2000.6 379.5 1997.9 380.3 1999.7 381.1 1997.2 381.9 2000.1 382.7 1997.9 383.5 2000.7 384.3 1998.4 385.1 1999.9 385.9 1998.3 386.7 1999.8 387.5 1997.4 388.3 1999.9 389.1 1997.4 389.9 2000.3 390.7 1997.5 391.5 2000.0 392.3 1998.0 393.1 2000.5 393.9 1998.2 394.7 2000.5 395.5 1999.0 396.3 2001.5 397.1 1999.2 397.9 2001.7 398.7 1999.5 399.5 2002.1 400.3 1999.6 401.1 2002.3 401.9 2000.4 402.7 2001.4 403.5 1999.3 404.3 2000.6 405.1 1999.0 405.9 2001.7 406.7 1999.9 407.5 2002.1 408.3 2000.3 409.1 2002.1 409.9 1998.7 410.7 2001.0 411.5 1998.6 412.3 2000.4 413.1 1998.6 413.9 2001.1 414.7 1998.3 415.5 2000.7 416.3 1998.2 417.1 2000.3 417.9 1997.7 418.7 1999.8 419.5 1997.6 420.3 1999.7 421.1 1998.2 421.9 2000.4 422.7 1999.4 423.5 2001.1 424.3 1998.7 425.1 2000.0 425.9 1997.8 426.7 1999.8 427.5 1998.3 428.3 2000.6 429.1 1997.8 429.9 1999.7 430.7 1997.8 431.5 2000.1 432.3 1997.4 433.1 1999.1 433.9 1996.1 434.7 1998.2 435.5 1997.0 436.3 1999.2 437.1 1998.4 437.9 2000.0 438.7 1997.5 439.5 1999.7 440.3 1996.6 441.1 1999.2 441.9 1997.3 442.7 1999.5 443.5 1997.9 444.3 2000.0 445.1 1997.8 445.9 1999.7 446.7 1997.1 447.5 1999.5 448.3 1997.3 449.1 1998.6 449.9 1997.1 450.7 1999.3 451.5 1996.9 452.3 1999.2 453.1 1997.7 453.9 1999.5 454.7 1997.6 455.5 1999.9 456.3 1997.9 457.1 2000.6 457.9 1998.3 458.7 2001.0 459.5 1998.9 460.3 2000.9 461.2 1998.1 462.0 2000.2 462.8 1997.7 463.6 1999.7 464.4 1997.6 465.2 1999.8 466.0 1998.6 466.8 2000.3 467.6 1997.9 468.4 2000.4 469.2 1998.4 470.0 2000.9 470.8 1999.2 471.6 2001.0 472.4 1999.0 473.2 2001.3 474.0 1999.7 474.8 2002.0 475.6 1999.9 476.4 2003.0 477.2 1999.7 478.0 2002.0 478.8 1998.9 479.6 2001.1 480.4 1998.9 481.2 2000.6 482.0 1998.1 482.8 2000.0 483.6 1998.2 484.4 2001.0 485.2 1998.8 486.0 2000.7 486.8 1999.0 487.6 2001.6 488.4 1999.4 489.2 2002.1 490.0 2000.0 490.8 2001.7 491.6 2000.3 492.4 2002.7 493.2 2000.3 494.0 2002.7 494.8 2000.4 495.6 2002.0 496.4 1999.2 497.2 2001.0 498.0 1999.4 498.8 2001.1 499.6 1999.7 500.4 2001.7 501.2 1999.9 502.0 2002.1 502.8 2000.1 503.6 2001.3 504.4 1998.8 505.2 2000.5 506.0 1998.0 506.8 2000.0 507.6 1998.2 508.4 2001.4 509.2 1999.4 510.0 2001.5 510.8 1998.9 511.6 2000.8 512.4 1998.9 513.2 2000.7 514.0 1998.7 514.8 2000.6 515.6 1998.4 516.4 1999.6 517.2 1997.9 518.0 1999.4 518.8 1997.4 519.6 1999.9 520.4 1997.9 521.2 1999.9 522.0 1998.4 522.8 2000.5 523.6 1998.7 524.4 2000.7 525.2 1998.3 526.0 2000.3 526.8 1997.3 527.6 1999.5 528.4 1998.1 529.2 2000.7 530.0 1998.6 530.8 2000.2 531.6 1997.7 532.4 1999.2 533.2 1996.5 534.0 1998.5 534.8 1996.0 535.6 1998.5 536.4 1995.8 537.2 1998.3 538.0 1996.7 538.8 1998.7 539.6 1996.9 540.4 1999.2 541.2 1997.7 542.0 1999.4 542.8 1997.4 543.6 1999.4 544.4 1997.0 545.2 1998.7 546.0 1997.8 546.8 2000.1 547.6 1998.4 548.4 2000.8 549.2 1998.4 550.0 2000.1 550.8 1997.6 551.6 1999.4 552.4 1997.3 553.2 1998.6 554.0 1996.3 554.8 1998.5 555.6 1997.0 556.4 1999.0 557.2 1997.3 558.0 1999.0 558.8 1996.3 559.6 1998.1 560.4 1996.3 561.2 1999.0 562.0 1996.6 562.8 1999.4 563.6 1997.4 564.4 1999.3 565.2 1997.1 566.0 1999.0 566.8 1996.8 567.6 1998.9 568.4 1996.8 569.2 1999.0 570.0 1996.9 570.8 1999.8 571.6 1998.0 572.4 1999.4 573.2 1997.2 574.0 1999.1 574.8 1996.0 575.6 1998.9 576.4 1996.1 577.2 1998.8 578.0 1996.4 578.8 1998.2 579.6 1996.3 580.4 1997.9 581.2 1996.6 582.0 1998.5 582.8 1997.2 583.6 1999.4 584.4 1997.5 585.2 1998.8 586.0 1996.9 586.8 1998.8 587.6 1996.8 588.4 1998.4 589.2 1996.4 590.0 1999.1 590.8 1997.0 591.6 1999.7 592.4 1997.5 593.2 1999.9 594.0 1997.8 594.8 1999.3 595.6 1997.9 596.4 1999.4 597.2 1996.9 598.0 1998.7 598.8 1996.0 599.6 1998.1 600.4 1996.2 601.2 1998.3 602.0 1996.6 602.8 1998.6 603.6 1996.2 604.4 1997.8 605.2 1996.1 606.0 1998.4 606.8 1996.7 607.6 1999.1 608.4 1996.7 609.2 1998.5 610.0 1995.3 610.8 1997.0 611.6 1995.0 612.4 1997.1 613.2 1995.0 614.0 1996.9 614.8 1995.5 615.6 1997.5 616.4 1996.3 617.2 1997.9 618.0 1995.3 618.8 1996.5 619.6 1993.7 620.4 1997.1 621.2 1994.9 622.0 1998.0 622.8 1996.4 623.6 1998.5 624.4 1996.5 625.2 1998.3 626.0 1995.8 626.8 1998.6 627.6 1996.0 628.4 1997.5" stroke="#ff00ff" stroke-width="2.0"/>
</g>
<path d="M124.25 2038.5h24M628.4 2038.5h-24M124.25 1942.53h24M628.4 1942.53h-24M124.25 1846.55h24M628.4 1846.55h-24M124.25 1750.57h24M628.4 1750.57h-24M124.25 1654.6h24M628.4 1654.6h-24M124.25 1990.51h12M628.4 1990.51h-12M124.25 1894.54h12M628.4 1894.54h-12M124.25 1798.56h12M628.4 1798.56h-12M124.25 1702.59h12M628.4 1702.59h-12M124.25 2038.5v-24M124.25 1654.6v24M292.3 2038.5v-24M292.3 1654.6v24M460.35 2038.5v-24M460.35 1654.6v24M628.4 2038.5v-24M628.4 1654.6v24M208.27 2038.5v-12M208.27 1654.6v12M376.32 2038.5v-12M376.32 1654.6v12M544.38 2038.5v-12M544.38 1654.6v12" stroke="#000" stroke-width="2" fill="none"/>
<rect x="124.25" y="1654.6" width="504.15" height="383.9" fill="none" stroke="#000" stroke-width="3.5"/>
<text x="114.7" y="2051.6" text-anchor="end" font-size="40">0</text>
<text x="114.7" y="1955.62" text-anchor="end" font-size="40">0.1</text>
<text x="114.7" y="1859.65" text-anchor="end" font-size="40">0.2</text>
<text x="114.7" y="1763.67" text-anchor="end" font-size="40">0.3</text>
<text x="114.7" y="1667.7" text-anchor="end" font-size="40">0.4</text>
<text x="124.25" y="2078" text-anchor="middle" font-size="40">0</text>
<text x="292.3" y="2078" text-anchor="middle" font-size="40">1</text>
<text x="460.35" y="2078" text-anchor="middle" font-size="40">2</text>
<text x="628.4" y="2078" text-anchor="middle" font-size="40">3</text>
<text x="376.32" y="2123.4" text-anchor="middle" font-size="48.5">Time (ps)</text>
<text transform="translate(43 1846.55) rotate(-90)" x="0" y="0" text-anchor="middle" font-size="48.5">RMSD (nm)</text>
<rect x="691" y="19.6" width="276.4" height="331.6" fill="#fff" stroke="#000" stroke-width="2"/>
<path d="M714 57.1H787" stroke="#000" stroke-width="3.5"/>
<text x="819.7" y="70.8" font-size="40">Mode 6</text>
<path d="M714 108.74H787" stroke="#f00" stroke-width="3.5"/>
<text x="819.7" y="122.44" font-size="40">Mode 5</text>
<path d="M714 160.38H787" stroke="#0f0" stroke-width="3"/>
<text x="819.7" y="174.08" font-size="40">Mode 4</text>
<path d="M714 212.02H787" stroke="#00f" stroke-width="2.5"/>
<text x="819.7" y="225.72" font-size="40">Mode 3</text>
<path d="M714 263.66H787" stroke="#ffa500" stroke-width="1.5"/>
<text x="819.7" y="277.36" font-size="40">Mode 2</text>
<path d="M714 315.3H787" stroke="#f0f" stroke-width="1.5"/>
<text x="819.7" y="329" font-size="40">Mode 1</text>
<rect x="693.5" y="1117.3" width="274.3" height="329.6" fill="#fff" stroke="#000" stroke-width="2"/>
<path d="M716.2 1154.3H789.3" stroke="#000" stroke-width="3.5"/>
<text x="821.35" y="1168.5" font-size="40">Mode 6</text>
<path d="M716.2 1205.44H789.3" stroke="#f00" stroke-width="3.5"/>
<text x="821.35" y="1219.64" font-size="40">Mode 5</text>
<path d="M716.2 1256.58H789.3" stroke="#0f0" stroke-width="3"/>
<text x="821.35" y="1270.78" font-size="40">Mode 4</text>
<path d="M716.2 1307.72H789.3" stroke="#00f" stroke-width="2.5"/>
<text x="821.35" y="1321.92" font-size="40">Mode 3</text>
<path d="M716.2 1358.86H789.3" stroke="#ffa500" stroke-width="1.5"/>
<text x="821.35" y="1373.06" font-size="40">Mode 2</text>
<path d="M716.2 1410H789.3" stroke="#f0f" stroke-width="1.5"/>
<text x="821.35" y="1424.2" font-size="40">Mode 1</text>
</svg>
</body></html>
